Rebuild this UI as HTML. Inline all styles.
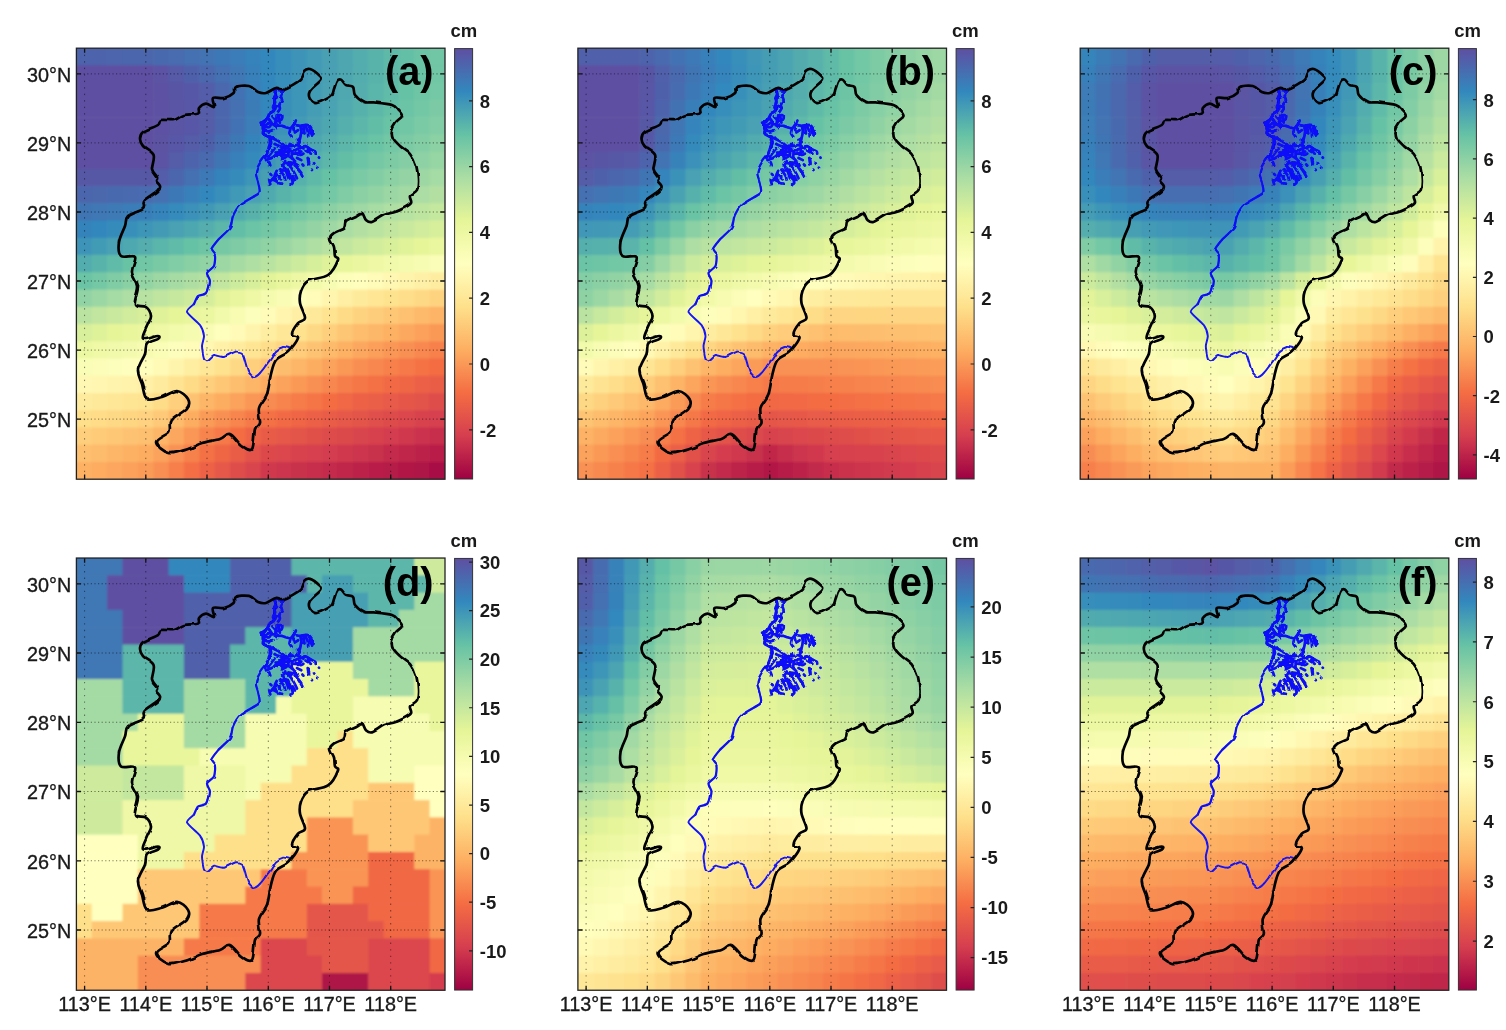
<!DOCTYPE html>
<html lang="en"><head><meta charset="utf-8"><title>Figure</title>
<style>html,body{margin:0;padding:0;background:#fff}svg{display:block}text{font-family:"Liberation Sans",sans-serif;fill:#1a1a1a}.t{font-size:19.8px;stroke:#1a1a1a;stroke-width:.35px}.b{font-size:18.5px;font-weight:bold}.L{font-size:39.8px;font-weight:bold;fill:#000}</style></head><body>
<svg width="1506" height="1030" viewBox="0 0 1506 1030">
<defs>
<linearGradient id="cb" x1="0" y1="1" x2="0" y2="0">
<stop offset="0" stop-color="#9e0142"/>
<stop offset="0.1" stop-color="#d53e4f"/>
<stop offset="0.2" stop-color="#f46d43"/>
<stop offset="0.3" stop-color="#fdae61"/>
<stop offset="0.4" stop-color="#fee08b"/>
<stop offset="0.5" stop-color="#ffffbf"/>
<stop offset="0.6" stop-color="#e6f598"/>
<stop offset="0.7" stop-color="#abdda4"/>
<stop offset="0.8" stop-color="#66c2a5"/>
<stop offset="0.9" stop-color="#3288bd"/>
<stop offset="1" stop-color="#5e4fa2"/>
</linearGradient>
<filter id="bl" x="-2%" y="-2%" width="104%" height="104%"><feGaussianBlur stdDeviation="1.3"/></filter>
<filter id="bl2" x="-5%" y="-5%" width="110%" height="110%"><feGaussianBlur stdDeviation="0.45"/></filter>
<filter id="rg" x="-10%" y="-10%" width="120%" height="120%"><feTurbulence type="fractalNoise" baseFrequency="0.25" numOctaves="2" seed="3" result="n"/><feDisplacementMap in="SourceGraphic" in2="n" scale="2.6" xChannelSelector="R" yChannelSelector="G"/><feGaussianBlur stdDeviation="0.4"/></filter>
<filter id="rg2" x="-5%" y="-5%" width="110%" height="110%"><feTurbulence type="fractalNoise" baseFrequency="0.085" numOctaves="1" seed="7" result="n"/><feDisplacementMap in="SourceGraphic" in2="n" scale="3.4" xChannelSelector="R" yChannelSelector="G"/><feGaussianBlur stdDeviation="0.45"/></filter>
<clipPath id="pc"><rect x="76.4" y="48.2" width="368.6" height="431"/></clipPath>
<g id="ov">
<path d="M84.6 48.2V479.2M145.8 48.2V479.2M207.0 48.2V479.2M268.3 48.2V479.2M329.5 48.2V479.2M390.7 48.2V479.2" fill="none" stroke="#000" stroke-opacity=".5" stroke-width="1" stroke-dasharray="1.4 5.1"/>
<path d="M76.4 419.1H445.0M76.4 350.1H445.0M76.4 281.0H445.0M76.4 212.0H445.0M76.4 142.9H445.0M76.4 73.9H445.0" fill="none" stroke="#000" stroke-opacity=".5" stroke-width="1" stroke-dasharray="1.2 2.4"/>
<path d="M84.6 48.2v4.6M84.6 479.2v-4.6M145.8 48.2v4.6M145.8 479.2v-4.6M207.0 48.2v4.6M207.0 479.2v-4.6M268.3 48.2v4.6M268.3 479.2v-4.6M329.5 48.2v4.6M329.5 479.2v-4.6M390.7 48.2v4.6M390.7 479.2v-4.6M76.4 419.1h4.6M445.0 419.1h-4.6M76.4 350.1h4.6M445.0 350.1h-4.6M76.4 281.0h4.6M445.0 281.0h-4.6M76.4 212.0h4.6M445.0 212.0h-4.6M76.4 142.9h4.6M445.0 142.9h-4.6M76.4 73.9h4.6M445.0 73.9h-4.6" fill="none" stroke="#111" stroke-width="1.3"/>
<g filter="url(#rg2)">
<path d="M275.1 89.1C275.2 89.9 276.3 94.4 276.2 96.0C276.1 97.6 274.1 101.5 274.0 103.0C274.0 104.5 276.1 107.7 275.6 108.8C275.2 110.0 271.3 112.0 270.3 113.1C269.3 114.2 268.1 117.3 267.1 118.5C266.1 119.6 262.1 121.6 261.8 122.7C261.4 123.9 263.6 126.7 263.9 128.1C264.1 129.4 263.3 133.4 263.9 134.5C264.5 135.6 268.4 136.7 269.2 137.7C270.1 138.7 271.5 141.7 271.4 143.0C271.2 144.4 268.8 148.1 268.2 149.4C267.5 150.8 266.8 153.5 266.0 154.8C265.3 156.0 262.7 158.6 261.8 160.1C260.8 161.6 258.2 166.0 257.5 167.6C256.8 169.2 255.8 172.4 255.9 174.0C255.9 175.6 257.6 179.6 258.0 181.5C258.4 183.4 259.6 188.6 259.6 190.0C259.6 191.5 260.3 192.3 258.0 194.0C255.7 195.7 242.9 202.4 240.0 205.0C237.1 207.6 234.2 213.3 233.0 216.0C231.8 218.7 231.8 225.2 230.0 228.0C228.2 230.8 220.2 237.4 218.0 240.0C215.8 242.6 211.3 248.1 211.0 250.0C210.7 251.9 214.7 254.1 215.0 256.0C215.3 257.9 214.9 264.0 214.0 266.0C213.1 268.0 207.5 271.2 207.0 273.0C206.5 274.8 210.0 278.7 210.0 281.0C210.0 283.3 208.4 291.2 207.0 293.0C205.6 294.8 199.5 294.7 198.0 296.0C196.5 297.3 194.5 303.1 194.0 304.0" fill="none" stroke="#0808fa" stroke-width="2.2" stroke-linejoin="round" stroke-linecap="round"/>
<path d="M194.0 304.0C193.2 304.9 186.3 309.6 187.0 312.0C187.7 314.4 198.0 322.2 200.0 325.0C202.0 327.8 203.8 333.6 204.0 336.0C204.2 338.4 202.0 343.4 202.0 346.0C202.0 348.6 203.3 356.4 204.0 358.0C204.7 359.6 206.8 360.4 208.0 360.0C209.2 359.6 212.1 355.4 214.0 355.0C215.9 354.6 221.4 357.4 224.0 357.0C226.6 356.6 233.8 351.8 236.0 351.6C238.2 351.4 241.6 352.7 243.0 355.0C244.4 357.3 246.7 368.4 248.0 371.0C249.3 373.6 252.6 376.8 254.0 377.0C255.4 377.2 258.1 375.0 260.0 373.0C261.9 371.0 268.1 362.6 270.0 360.0C271.9 357.4 274.5 352.5 276.0 351.0C277.5 349.5 281.5 347.4 283.0 347.0C284.5 346.6 288.3 347.9 289.0 348.0" fill="none" stroke="#1212f8" stroke-width="1.9" stroke-linejoin="round" stroke-linecap="round"/>
</g>
<g filter="url(#rg)">
<path d="M274.0 89.6C274.3 90.2 275.6 92.7 275.6 93.9C275.6 95.0 274.1 97.0 274.0 98.2C274.0 99.3 275.2 101.3 275.1 102.4C275.0 103.6 273.1 105.6 273.0 106.7C272.8 107.8 274.5 110.1 274.0 111.0C273.6 111.8 270.6 112.3 269.8 113.1C268.9 114.0 267.9 116.8 267.6 117.4M283.1 91.8C282.8 92.3 281.1 94.9 281.0 96.0C280.8 97.2 282.3 99.2 282.1 100.3C281.8 101.4 279.7 103.4 279.4 104.6C279.1 105.7 280.1 107.8 279.9 108.8C279.7 109.8 278.1 111.6 277.8 112.1M274.0 98.2L277.2 97.1M275.1 106.7L278.3 105.6M274.6 89.1L283.7 91.2M276.7 115.3C277.4 115.3 281.4 114.7 282.1 115.3C282.7 115.8 282.2 118.8 281.5 119.5C280.8 120.2 277.4 121.2 276.7 120.6C276.1 120.0 276.7 116.0 276.7 115.3M260.7 122.7C261.3 122.6 264.0 122.4 265.0 121.7C265.9 121.0 267.3 118.0 267.6 117.4M260.7 122.7C261.1 123.3 263.6 125.6 263.9 127.0C264.2 128.4 262.4 132.3 262.8 133.4C263.2 134.6 266.0 135.0 267.1 135.6C268.2 136.1 270.8 137.4 271.4 137.7M267.6 117.4C268.1 118.1 271.2 121.5 271.4 122.7C271.6 124.0 270.1 126.4 269.2 127.0C268.4 127.6 265.5 127.0 265.0 127.0M276.7 120.6C276.6 121.2 274.9 124.2 275.6 124.9C276.4 125.6 280.8 125.7 282.1 125.9C283.3 126.2 284.8 126.9 285.3 127.0M271.4 122.7L276.7 127.0M263.9 134.5C264.9 134.9 269.2 136.7 271.4 137.7C273.5 138.7 278.1 140.8 279.9 142.0C281.8 143.1 284.5 145.7 285.3 146.2M270.3 136.6C270.2 137.6 270.0 142.4 269.8 144.1C269.5 145.8 268.8 147.6 268.2 149.4C267.5 151.3 265.4 156.9 265.0 158.0M274.6 148.4L268.2 156.9M282.1 148.4C280.9 149.5 275.6 155.4 273.5 156.9C271.4 158.5 267.0 159.7 266.0 160.1M285.3 127.0C286.0 127.2 289.3 128.6 290.6 128.1C291.9 127.5 294.2 123.7 294.9 122.7C295.6 121.7 295.8 120.9 295.9 120.6M290.6 128.1C290.5 128.8 289.4 132.3 289.5 133.4C289.7 134.6 291.4 136.2 291.7 136.6M294.9 124.9C295.6 125.0 298.8 125.9 300.2 125.9C301.6 125.9 304.3 124.9 305.6 124.9C306.8 124.9 308.9 125.1 309.8 125.9C310.8 126.8 312.2 130.0 312.5 131.3C312.8 132.6 312.0 135.0 312.0 135.6M300.2 125.9C300.4 126.7 301.3 129.7 301.3 131.3C301.3 132.8 300.6 136.0 300.2 137.7C299.9 139.4 298.8 143.2 298.6 144.1M305.6 125.9C305.8 126.7 307.3 129.9 307.7 131.3C308.0 132.7 308.2 135.9 308.2 136.6M294.9 132.4L298.1 130.2M279.9 142.0C280.6 142.5 283.8 146.0 285.3 146.2C286.7 146.5 289.9 144.4 290.6 144.1M285.3 146.2C285.1 147.1 284.6 151.2 284.2 152.6C283.8 154.1 282.3 156.4 282.1 156.9M285.3 146.2C286.3 146.8 290.9 150.2 292.7 150.5C294.6 150.8 297.4 148.9 299.1 148.4C300.9 147.8 304.0 146.1 305.6 146.2C307.1 146.4 309.6 148.7 310.9 149.4C312.2 150.2 314.5 151.0 315.2 151.6C315.8 152.2 315.6 153.4 315.7 153.7M292.7 150.5C292.6 151.4 291.4 155.5 291.7 156.9C292.0 158.3 294.4 160.6 294.9 161.2M299.1 148.4C299.3 149.2 299.6 154.1 300.2 154.8C300.8 155.5 303.0 153.9 303.4 153.7M295.9 152.6L298.1 154.8M307.7 149.4L309.8 152.6M287.4 148.4L288.5 154.8M282.1 150.5L286.3 151.6M273.5 156.9C274.6 156.6 280.1 154.9 282.1 154.8C284.0 154.6 287.0 155.3 288.5 155.9C289.9 156.4 292.2 158.6 292.7 159.1M269.2 162.3L270.3 165.5M318.9 157.5L319.1 157.7M314.1 163.3L314.3 163.5M317.3 167.6L317.5 167.8M311.8 169.7L312.0 170.0M307.7 158.0C307.8 158.4 308.1 160.3 308.2 161.2C308.4 162.1 308.7 164.0 308.8 164.4M308.5 158.5L309.1 163.9M302.4 164.4L303.4 165.5M285.3 161.2C285.0 161.8 283.1 164.5 283.1 165.5C283.1 166.5 285.0 168.2 285.3 168.7M288.5 162.3C289.3 162.4 293.6 162.9 294.9 163.3C296.2 163.8 297.6 165.2 298.1 165.5M276.7 170.8C276.4 171.5 274.4 174.6 274.6 176.2C274.7 177.7 276.8 181.6 277.8 182.6C278.8 183.6 281.5 183.5 282.1 183.6M279.9 169.7C280.5 170.6 283.5 174.7 284.2 176.2C284.9 177.6 285.1 179.9 285.3 180.4M285.3 168.7C285.8 169.4 288.5 172.2 289.5 174.0C290.5 175.9 292.6 181.2 292.7 182.6C292.9 183.9 290.9 184.0 290.6 184.2M289.5 165.5C290.1 166.3 292.8 170.2 293.8 171.9C294.8 173.6 296.6 177.4 297.0 178.3M294.9 164.4C295.4 165.3 298.1 169.2 299.1 170.8C300.1 172.4 301.9 175.4 302.4 176.2M270.3 174.0L271.4 175.1M269.2 180.4L270.3 184.2M274.6 176.2L271.4 180.4M282.1 170.8L287.4 169.7M277.8 176.2L281.0 179.4M261.8 124.9C262.3 124.9 265.0 125.2 266.0 124.9C267.0 124.6 268.8 123.0 269.2 122.7M263.9 130.2C264.5 130.4 267.0 131.3 268.2 131.3C269.3 131.3 271.9 130.4 272.4 130.2M272.4 116.3C272.9 116.9 275.5 119.5 275.6 120.6C275.8 121.7 273.8 124.3 273.5 124.9M278.8 116.3L279.9 122.7M262.8 122.7L262.8 129.1M274.6 144.1C275.3 144.4 278.5 145.7 279.9 146.2C281.3 146.8 284.5 148.1 285.3 148.4M287.4 150.5C288.4 150.9 293.0 153.6 294.9 153.7C296.7 153.9 300.4 151.9 301.3 151.6M290.6 146.2C291.5 146.1 295.3 144.9 297.0 145.2C298.7 145.5 302.6 147.9 303.4 148.4M305.6 150.5L310.9 153.7M282.1 159.1L286.3 156.9M297.0 158.0L301.3 160.1M275.6 152.6L282.1 152.6M282.1 165.5C282.6 166.3 285.5 170.2 286.3 171.9C287.2 173.6 288.2 177.4 288.5 178.3M275.6 174.0L279.9 176.2M298.1 168.7L301.3 172.9M286.3 163.3L291.7 164.4M272.4 179.4L276.7 181.5M292.7 176.2L294.9 180.4M292.7 125.9L293.8 130.2M303.4 127.0L304.5 133.4M309.8 128.1L310.9 133.4M297.0 139.8L300.2 142.0" fill="none" stroke="#0808fa" stroke-width="2.7" stroke-linejoin="round" stroke-linecap="round"/>
</g>
<g filter="url(#rg2)">
<path d="M121.0 256.0C118.3 253.5 118.3 247.0 119.0 242.0C119.7 237.0 123.5 230.3 125.0 226.0C126.5 221.7 125.0 218.8 128.0 216.0C131.0 213.2 140.3 211.5 143.0 209.0C145.7 206.5 141.9 204.0 144.4 201.0C146.9 198.0 155.4 193.5 158.0 191.0C160.6 188.5 160.3 187.7 160.0 186.0C159.7 184.3 156.5 182.3 156.0 181.0C155.5 179.7 157.7 179.8 157.0 178.0C156.3 176.2 152.6 173.8 152.0 170.0C151.4 166.2 155.1 159.0 153.6 155.0C152.1 151.0 145.3 148.7 143.0 146.0C140.7 143.3 140.0 141.3 140.0 139.0C140.0 136.7 140.0 134.3 143.0 132.0C146.0 129.7 155.0 127.0 158.0 125.0C161.0 123.0 158.3 120.8 161.0 120.0C163.7 119.2 170.2 120.8 174.0 120.0C177.8 119.2 180.0 116.1 184.0 115.0C188.0 113.9 195.5 114.8 198.0 113.6C200.5 112.4 197.7 109.7 199.0 108.0C200.3 106.3 203.5 103.8 206.0 103.6C208.5 103.4 212.8 107.9 214.0 107.0C215.2 106.1 211.3 99.5 213.0 98.0C214.7 96.5 220.6 98.8 224.0 98.0C227.4 97.2 231.8 94.8 233.6 93.0C235.4 91.2 232.4 88.2 235.0 87.0C237.6 85.8 245.2 85.2 249.0 86.0C252.8 86.8 255.2 90.8 258.0 92.0C260.8 93.2 263.0 93.7 266.0 93.0C269.0 92.3 273.0 88.7 276.0 88.0C279.0 87.3 280.0 90.3 284.0 89.0C288.0 87.7 296.7 83.0 300.0 80.0C303.3 77.0 302.3 72.8 304.0 71.0C305.7 69.2 307.3 68.2 310.0 69.0C312.7 69.8 318.2 74.2 320.0 76.0C321.8 77.8 322.7 77.5 321.0 80.0C319.3 82.5 311.8 87.8 310.0 91.0C308.2 94.2 308.8 97.0 310.0 99.0C311.2 101.0 313.5 103.5 317.0 103.0C320.5 102.5 328.2 98.3 331.0 96.0C333.8 93.7 333.0 91.5 334.0 89.0C335.0 86.5 335.8 82.6 337.0 81.0C338.2 79.4 339.5 78.9 341.0 79.6C342.5 80.3 344.0 83.8 346.0 85.0C348.0 86.2 351.5 85.3 353.0 87.0C354.5 88.7 353.2 92.5 355.0 95.0C356.8 97.5 360.8 100.8 364.0 102.0C367.2 103.2 369.3 101.9 374.0 102.4C378.7 102.9 388.0 103.7 392.0 105.0C396.0 106.3 396.3 108.2 398.0 110.0C399.7 111.8 402.3 114.0 402.0 116.0C401.7 118.0 397.7 119.7 396.0 122.0C394.3 124.3 392.5 127.3 392.0 130.0C391.5 132.7 391.7 135.3 393.0 138.0C394.3 140.7 397.2 143.3 400.0 146.0C402.8 148.7 407.3 150.7 410.0 154.0C412.7 157.3 414.7 161.7 416.0 166.0C417.3 170.3 417.8 176.0 418.0 180.0C418.2 184.0 418.3 187.3 417.0 190.0C415.7 192.7 411.0 193.8 410.0 196.0C409.0 198.2 412.3 200.8 411.0 203.0C409.7 205.2 404.7 207.5 402.0 209.0C399.3 210.5 398.0 211.0 395.0 212.0C392.0 213.0 387.8 213.3 384.0 215.0C380.2 216.7 375.0 221.2 372.0 222.0C369.0 222.8 367.7 221.5 366.0 220.0C364.3 218.5 363.7 213.7 362.0 213.0C360.3 212.3 358.7 214.7 356.0 216.0C353.3 217.3 348.0 219.0 346.0 221.0C344.0 223.0 346.0 226.0 344.0 228.0C342.0 230.0 336.3 231.3 334.0 233.0C331.7 234.7 330.0 235.7 330.0 238.0C330.0 240.3 333.2 244.0 334.0 247.0C334.8 250.0 334.3 253.8 335.0 256.0C335.7 258.2 339.2 256.8 338.0 260.0C336.8 263.2 333.0 271.5 328.0 275.0C323.0 278.5 312.5 278.3 308.0 281.0C303.5 283.7 302.3 287.3 301.0 291.0C299.7 294.7 299.3 298.5 300.0 303.0C300.7 307.5 305.3 314.7 305.0 318.0C304.7 321.3 300.2 320.3 298.0 323.0C295.8 325.7 292.0 331.5 292.0 334.0C292.0 336.5 298.7 335.0 298.0 338.0C297.3 341.0 291.7 348.3 288.0 352.0C284.3 355.7 278.8 356.3 276.0 360.0C273.2 363.7 272.5 368.3 271.0 374.0C269.5 379.7 269.0 388.3 267.0 394.0C265.0 399.7 260.2 403.2 259.0 408.0C257.8 412.8 260.7 419.3 260.0 423.0C259.3 426.7 256.3 425.7 255.0 430.0C253.7 434.3 254.2 446.3 252.0 449.0C249.8 451.7 245.7 448.5 242.0 446.0C238.3 443.5 233.7 435.2 230.0 434.0C226.3 432.8 224.7 437.5 220.0 439.0C215.3 440.5 207.3 441.3 202.0 443.0C196.7 444.7 193.5 447.3 188.0 449.0C182.5 450.7 174.3 454.2 169.0 453.0C163.7 451.8 156.0 445.5 156.0 442.0C156.0 438.5 166.5 435.5 169.0 432.0C171.5 428.5 168.0 424.8 171.0 421.0C174.0 417.2 184.2 412.7 187.0 409.0C189.8 405.3 189.7 402.0 188.0 399.0C186.3 396.0 181.3 391.3 177.0 391.0C172.7 390.7 167.0 395.7 162.0 397.0C157.0 398.3 150.3 401.2 147.0 399.0C143.7 396.8 143.5 388.8 142.0 384.0C140.5 379.2 137.5 375.0 138.0 370.0C138.5 365.0 143.5 358.3 145.0 354.0C146.5 349.7 144.8 346.5 147.0 344.0C149.2 341.5 156.2 340.3 158.0 339.0C159.8 337.7 160.2 336.0 158.0 336.0C155.8 336.0 147.5 339.0 145.0 339.0C142.5 339.0 142.5 338.5 143.0 336.0C143.5 333.5 146.7 327.3 148.0 324.0C149.3 320.7 151.3 318.8 151.0 316.0C150.7 313.2 148.7 309.0 146.0 307.0C143.3 305.0 136.3 307.5 135.0 304.0C133.7 300.5 138.5 291.3 138.0 286.0C137.5 280.7 132.5 276.8 132.0 272.0C131.5 267.2 136.8 259.7 135.0 257.0C133.2 254.3 123.7 258.5 121.0 256.0Z" fill="none" stroke="#050505" stroke-width="2.7" stroke-linejoin="round" stroke-linecap="round"/>
</g>
<rect x="76.4" y="48.2" width="368.6" height="431" fill="none" stroke="#222" stroke-width="1.3"/>
</g>
</defs>
<rect width="1506" height="1030" fill="#fff"/>
<g transform="translate(0 0)">
<g filter="url(#bl)" clip-path="url(#pc)">
<rect x="73.4" y="45.2" width="374.6" height="437" fill="#e0f399"/>
<rect x="73.4" y="45.2" width="19" height="20.8" fill="#4e64ac"/>
<rect x="91.8" y="45.2" width="16" height="20.8" fill="#4d64ac"/>
<rect x="107.1" y="45.2" width="16" height="20.8" fill="#4d65ac"/>
<rect x="122.5" y="45.2" width="31.3" height="20.8" fill="#4c66ad"/>
<rect x="153.2" y="45.2" width="16" height="20.8" fill="#4a69ae"/>
<rect x="168.6" y="45.2" width="16" height="20.8" fill="#486cb0"/>
<rect x="183.9" y="45.2" width="16" height="20.8" fill="#4570b1"/>
<rect x="199.3" y="45.2" width="16" height="20.8" fill="#4273b3"/>
<rect x="214.6" y="45.2" width="16" height="20.8" fill="#3e78b6"/>
<rect x="230" y="45.2" width="16" height="20.8" fill="#3a7db8"/>
<rect x="245.3" y="45.2" width="16" height="20.8" fill="#3683ba"/>
<rect x="260.7" y="45.2" width="16" height="20.8" fill="#3288bd"/>
<rect x="276.1" y="45.2" width="16" height="20.8" fill="#378ebb"/>
<rect x="291.4" y="45.2" width="16" height="20.8" fill="#3d94b8"/>
<rect x="306.8" y="45.2" width="16" height="20.8" fill="#429ab6"/>
<rect x="322.1" y="45.2" width="16" height="20.8" fill="#48a0b3"/>
<rect x="337.5" y="45.2" width="16" height="20.8" fill="#4da6b0"/>
<rect x="352.9" y="45.2" width="16" height="20.8" fill="#53adae"/>
<rect x="368.2" y="45.2" width="16" height="20.8" fill="#58b3ab"/>
<rect x="383.6" y="45.2" width="16" height="20.8" fill="#5eb9a9"/>
<rect x="398.9" y="45.2" width="16" height="20.8" fill="#63bfa6"/>
<rect x="414.3" y="45.2" width="16" height="20.8" fill="#6ac3a5"/>
<rect x="429.6" y="45.2" width="19" height="20.8" fill="#71c6a5"/>
<rect x="73.4" y="65.4" width="80.4" height="17.8" fill="#5e4fa2"/>
<rect x="153.2" y="65.4" width="16" height="17.8" fill="#5b53a4"/>
<rect x="168.6" y="65.4" width="16" height="17.8" fill="#565aa7"/>
<rect x="183.9" y="65.4" width="16" height="17.8" fill="#5061ab"/>
<rect x="199.3" y="65.4" width="16" height="17.8" fill="#4b68ae"/>
<rect x="214.6" y="65.4" width="16" height="17.8" fill="#4570b2"/>
<rect x="230" y="65.4" width="16" height="17.8" fill="#3f78b5"/>
<rect x="245.3" y="65.4" width="16" height="17.8" fill="#3880b9"/>
<rect x="260.7" y="65.4" width="16" height="17.8" fill="#3288bd"/>
<rect x="276.1" y="65.4" width="16" height="17.8" fill="#378ebb"/>
<rect x="291.4" y="65.4" width="16" height="17.8" fill="#3d94b8"/>
<rect x="306.8" y="65.4" width="16" height="17.8" fill="#429ab6"/>
<rect x="322.1" y="65.4" width="16" height="17.8" fill="#48a0b3"/>
<rect x="337.5" y="65.4" width="16" height="17.8" fill="#4da6b0"/>
<rect x="352.9" y="65.4" width="16" height="17.8" fill="#53adae"/>
<rect x="368.2" y="65.4" width="16" height="17.8" fill="#58b3ab"/>
<rect x="383.6" y="65.4" width="16" height="17.8" fill="#5eb9a9"/>
<rect x="398.9" y="65.4" width="16" height="17.8" fill="#63bfa6"/>
<rect x="414.3" y="65.4" width="16" height="17.8" fill="#6ac3a5"/>
<rect x="429.6" y="65.4" width="19" height="17.8" fill="#71c6a5"/>
<rect x="73.4" y="82.7" width="80.4" height="17.8" fill="#5e4fa2"/>
<rect x="153.2" y="82.7" width="16" height="17.8" fill="#5c51a3"/>
<rect x="168.6" y="82.7" width="16" height="17.8" fill="#5955a5"/>
<rect x="183.9" y="82.7" width="16" height="17.8" fill="#5659a7"/>
<rect x="199.3" y="82.7" width="16" height="17.8" fill="#535da9"/>
<rect x="214.6" y="82.7" width="16" height="17.8" fill="#4b67ae"/>
<rect x="230" y="82.7" width="16" height="17.8" fill="#4372b3"/>
<rect x="245.3" y="82.7" width="16" height="17.8" fill="#3b7db8"/>
<rect x="260.7" y="82.7" width="16" height="17.8" fill="#3287bd"/>
<rect x="276.1" y="82.7" width="16" height="17.8" fill="#378eba"/>
<rect x="291.4" y="82.7" width="16" height="17.8" fill="#3d95b8"/>
<rect x="306.8" y="82.7" width="16" height="17.8" fill="#439bb5"/>
<rect x="322.1" y="82.7" width="16" height="17.8" fill="#49a1b2"/>
<rect x="337.5" y="82.7" width="16" height="17.8" fill="#4fa8b0"/>
<rect x="352.9" y="82.7" width="16" height="17.8" fill="#54aead"/>
<rect x="368.2" y="82.7" width="16" height="17.8" fill="#5ab5aa"/>
<rect x="383.6" y="82.7" width="16" height="17.8" fill="#60bba8"/>
<rect x="398.9" y="82.7" width="16" height="17.8" fill="#66c2a5"/>
<rect x="414.3" y="82.7" width="16" height="17.8" fill="#6dc5a5"/>
<rect x="429.6" y="82.7" width="19" height="17.8" fill="#75c8a5"/>
<rect x="73.4" y="99.9" width="80.4" height="17.8" fill="#5e4fa2"/>
<rect x="153.2" y="99.9" width="16" height="17.8" fill="#5d51a3"/>
<rect x="168.6" y="99.9" width="16" height="17.8" fill="#5a54a4"/>
<rect x="183.9" y="99.9" width="16" height="17.8" fill="#5857a6"/>
<rect x="199.3" y="99.9" width="16" height="17.8" fill="#555ba8"/>
<rect x="214.6" y="99.9" width="16" height="17.8" fill="#4c66ad"/>
<rect x="230" y="99.9" width="16" height="17.8" fill="#4471b2"/>
<rect x="245.3" y="99.9" width="16" height="17.8" fill="#3b7cb7"/>
<rect x="260.7" y="99.9" width="16" height="17.8" fill="#3287bd"/>
<rect x="276.1" y="99.9" width="16" height="17.8" fill="#388fba"/>
<rect x="291.4" y="99.9" width="16" height="17.8" fill="#3e95b7"/>
<rect x="306.8" y="99.9" width="16" height="17.8" fill="#449cb5"/>
<rect x="322.1" y="99.9" width="16" height="17.8" fill="#4aa3b2"/>
<rect x="337.5" y="99.9" width="16" height="17.8" fill="#51aaaf"/>
<rect x="352.9" y="99.9" width="16" height="17.8" fill="#57b1ac"/>
<rect x="368.2" y="99.9" width="16" height="17.8" fill="#5db8a9"/>
<rect x="383.6" y="99.9" width="16" height="17.8" fill="#63bfa6"/>
<rect x="398.9" y="99.9" width="16" height="17.8" fill="#6bc4a5"/>
<rect x="414.3" y="99.9" width="16" height="17.8" fill="#73c7a5"/>
<rect x="429.6" y="99.9" width="19" height="17.8" fill="#7bcaa5"/>
<rect x="73.4" y="117.2" width="80.4" height="17.8" fill="#5e4fa2"/>
<rect x="153.2" y="117.2" width="16" height="17.8" fill="#5d51a3"/>
<rect x="168.6" y="117.2" width="16" height="17.8" fill="#5a54a4"/>
<rect x="183.9" y="117.2" width="16" height="17.8" fill="#5857a6"/>
<rect x="199.3" y="117.2" width="16" height="17.8" fill="#555ba8"/>
<rect x="214.6" y="117.2" width="16" height="17.8" fill="#4c66ad"/>
<rect x="230" y="117.2" width="16" height="17.8" fill="#4372b3"/>
<rect x="245.3" y="117.2" width="16" height="17.8" fill="#3a7eb8"/>
<rect x="260.7" y="117.2" width="16" height="17.8" fill="#348abc"/>
<rect x="276.1" y="117.2" width="16" height="17.8" fill="#3a91b9"/>
<rect x="291.4" y="117.2" width="16" height="17.8" fill="#4199b6"/>
<rect x="306.8" y="117.2" width="16" height="17.8" fill="#48a0b3"/>
<rect x="322.1" y="117.2" width="16" height="17.8" fill="#4ea7b0"/>
<rect x="337.5" y="117.2" width="16" height="17.8" fill="#55afad"/>
<rect x="352.9" y="117.2" width="16" height="17.8" fill="#5bb6aa"/>
<rect x="368.2" y="117.2" width="16" height="17.8" fill="#62bda7"/>
<rect x="383.6" y="117.2" width="16" height="17.8" fill="#69c3a5"/>
<rect x="398.9" y="117.2" width="16" height="17.8" fill="#71c6a5"/>
<rect x="414.3" y="117.2" width="16" height="17.8" fill="#7acaa5"/>
<rect x="429.6" y="117.2" width="19" height="17.8" fill="#82cda5"/>
<rect x="73.4" y="134.4" width="80.4" height="17.8" fill="#5e4fa2"/>
<rect x="153.2" y="134.4" width="16" height="17.8" fill="#5c52a3"/>
<rect x="168.6" y="134.4" width="16" height="17.8" fill="#5857a6"/>
<rect x="183.9" y="134.4" width="16" height="17.8" fill="#545ca8"/>
<rect x="199.3" y="134.4" width="16" height="17.8" fill="#5061ab"/>
<rect x="214.6" y="134.4" width="16" height="17.8" fill="#476db0"/>
<rect x="230" y="134.4" width="16" height="17.8" fill="#3e78b5"/>
<rect x="245.3" y="134.4" width="16" height="17.8" fill="#3683bb"/>
<rect x="260.7" y="134.4" width="16" height="17.8" fill="#388fba"/>
<rect x="276.1" y="134.4" width="16" height="17.8" fill="#3f97b7"/>
<rect x="291.4" y="134.4" width="16" height="17.8" fill="#469fb4"/>
<rect x="306.8" y="134.4" width="16" height="17.8" fill="#4da6b0"/>
<rect x="322.1" y="134.4" width="16" height="17.8" fill="#54aead"/>
<rect x="337.5" y="134.4" width="16" height="17.8" fill="#5bb6aa"/>
<rect x="352.9" y="134.4" width="16" height="17.8" fill="#62bea7"/>
<rect x="368.2" y="134.4" width="16" height="17.8" fill="#69c3a5"/>
<rect x="383.6" y="134.4" width="16" height="17.8" fill="#72c7a5"/>
<rect x="398.9" y="134.4" width="16" height="17.8" fill="#7acaa5"/>
<rect x="414.3" y="134.4" width="16" height="17.8" fill="#83cda5"/>
<rect x="429.6" y="134.4" width="19" height="17.8" fill="#8bd1a4"/>
<rect x="73.4" y="151.6" width="80.4" height="17.8" fill="#5e4fa2"/>
<rect x="153.2" y="151.6" width="16" height="17.8" fill="#5b53a4"/>
<rect x="168.6" y="151.6" width="16" height="17.8" fill="#545ba8"/>
<rect x="183.9" y="151.6" width="16" height="17.8" fill="#4e63ac"/>
<rect x="199.3" y="151.6" width="16" height="17.8" fill="#486baf"/>
<rect x="214.6" y="151.6" width="16" height="17.8" fill="#4075b4"/>
<rect x="230" y="151.6" width="16" height="17.8" fill="#3880b9"/>
<rect x="245.3" y="151.6" width="16" height="17.8" fill="#348abc"/>
<rect x="260.7" y="151.6" width="16" height="17.8" fill="#3e95b8"/>
<rect x="276.1" y="151.6" width="16" height="17.8" fill="#459db4"/>
<rect x="291.4" y="151.6" width="16" height="17.8" fill="#4da6b1"/>
<rect x="306.8" y="151.6" width="16" height="17.8" fill="#54aead"/>
<rect x="322.1" y="151.6" width="16" height="17.8" fill="#5bb6aa"/>
<rect x="337.5" y="151.6" width="16" height="17.8" fill="#63bea6"/>
<rect x="352.9" y="151.6" width="16" height="17.8" fill="#6bc4a5"/>
<rect x="368.2" y="151.6" width="16" height="17.8" fill="#74c7a5"/>
<rect x="383.6" y="151.6" width="16" height="17.8" fill="#7ccba5"/>
<rect x="398.9" y="151.6" width="16" height="17.8" fill="#85cea5"/>
<rect x="414.3" y="151.6" width="16" height="17.8" fill="#8dd1a4"/>
<rect x="429.6" y="151.6" width="19" height="17.8" fill="#96d5a4"/>
<rect x="73.4" y="168.9" width="80.4" height="17.8" fill="#5758a6"/>
<rect x="153.2" y="168.9" width="16" height="17.8" fill="#535da9"/>
<rect x="168.6" y="168.9" width="16" height="17.8" fill="#4c66ad"/>
<rect x="183.9" y="168.9" width="16" height="17.8" fill="#4570b2"/>
<rect x="199.3" y="168.9" width="16" height="17.8" fill="#3d79b6"/>
<rect x="214.6" y="168.9" width="16" height="17.8" fill="#3683bb"/>
<rect x="230" y="168.9" width="16" height="17.8" fill="#368cbb"/>
<rect x="245.3" y="168.9" width="16" height="17.8" fill="#3e96b7"/>
<rect x="260.7" y="168.9" width="16" height="17.8" fill="#479fb3"/>
<rect x="276.1" y="168.9" width="16" height="17.8" fill="#4fa8b0"/>
<rect x="291.4" y="168.9" width="16" height="17.8" fill="#57b1ac"/>
<rect x="306.8" y="168.9" width="16" height="17.8" fill="#5eb9a9"/>
<rect x="322.1" y="168.9" width="16" height="17.8" fill="#66c2a5"/>
<rect x="337.5" y="168.9" width="16" height="17.8" fill="#71c6a5"/>
<rect x="352.9" y="168.9" width="16" height="17.8" fill="#7acaa5"/>
<rect x="368.2" y="168.9" width="16" height="17.8" fill="#83cda5"/>
<rect x="383.6" y="168.9" width="16" height="17.8" fill="#8bd1a4"/>
<rect x="398.9" y="168.9" width="16" height="17.8" fill="#94d4a4"/>
<rect x="414.3" y="168.9" width="16" height="17.8" fill="#9dd7a4"/>
<rect x="429.6" y="168.9" width="19" height="17.8" fill="#a5dba4"/>
<rect x="73.4" y="186.1" width="19" height="17.8" fill="#4c66ad"/>
<rect x="91.8" y="186.1" width="16" height="17.8" fill="#4b67ad"/>
<rect x="107.1" y="186.1" width="16" height="17.8" fill="#4a69ae"/>
<rect x="122.5" y="186.1" width="16" height="17.8" fill="#496aaf"/>
<rect x="137.8" y="186.1" width="16" height="17.8" fill="#486cb0"/>
<rect x="153.2" y="186.1" width="16" height="17.8" fill="#4471b2"/>
<rect x="168.6" y="186.1" width="16" height="17.8" fill="#3e78b6"/>
<rect x="183.9" y="186.1" width="16" height="17.8" fill="#3880b9"/>
<rect x="199.3" y="186.1" width="16" height="17.8" fill="#3288bd"/>
<rect x="214.6" y="186.1" width="16" height="17.8" fill="#3990ba"/>
<rect x="230" y="186.1" width="16" height="17.8" fill="#4199b6"/>
<rect x="245.3" y="186.1" width="16" height="17.8" fill="#49a1b3"/>
<rect x="260.7" y="186.1" width="16" height="17.8" fill="#50aaaf"/>
<rect x="276.1" y="186.1" width="16" height="17.8" fill="#58b3ab"/>
<rect x="291.4" y="186.1" width="16" height="17.8" fill="#61bca8"/>
<rect x="306.8" y="186.1" width="16" height="17.8" fill="#6ac3a5"/>
<rect x="322.1" y="186.1" width="16" height="17.8" fill="#75c8a5"/>
<rect x="337.5" y="186.1" width="16" height="17.8" fill="#7fcca5"/>
<rect x="352.9" y="186.1" width="16" height="17.8" fill="#8ad0a4"/>
<rect x="368.2" y="186.1" width="16" height="17.8" fill="#92d3a4"/>
<rect x="383.6" y="186.1" width="16" height="17.8" fill="#9bd7a4"/>
<rect x="398.9" y="186.1" width="16" height="17.8" fill="#a3daa4"/>
<rect x="414.3" y="186.1" width="16" height="17.8" fill="#acdda4"/>
<rect x="429.6" y="186.1" width="19" height="17.8" fill="#b3e0a2"/>
<rect x="73.4" y="203.4" width="19" height="17.8" fill="#4174b4"/>
<rect x="91.8" y="203.4" width="16" height="17.8" fill="#3f77b5"/>
<rect x="107.1" y="203.4" width="16" height="17.8" fill="#3d7ab6"/>
<rect x="122.5" y="203.4" width="16" height="17.8" fill="#3b7db8"/>
<rect x="137.8" y="203.4" width="16" height="17.8" fill="#397fb9"/>
<rect x="153.2" y="203.4" width="16" height="17.8" fill="#3584bb"/>
<rect x="168.6" y="203.4" width="16" height="17.8" fill="#348bbc"/>
<rect x="183.9" y="203.4" width="16" height="17.8" fill="#3a91b9"/>
<rect x="199.3" y="203.4" width="16" height="17.8" fill="#4098b6"/>
<rect x="214.6" y="203.4" width="16" height="17.8" fill="#48a1b3"/>
<rect x="230" y="203.4" width="16" height="17.8" fill="#50aaaf"/>
<rect x="245.3" y="203.4" width="16" height="17.8" fill="#58b2ab"/>
<rect x="260.7" y="203.4" width="16" height="17.8" fill="#60bba8"/>
<rect x="276.1" y="203.4" width="16" height="17.8" fill="#69c3a5"/>
<rect x="291.4" y="203.4" width="16" height="17.8" fill="#74c7a5"/>
<rect x="306.8" y="203.4" width="16" height="17.8" fill="#7fcca5"/>
<rect x="322.1" y="203.4" width="16" height="17.8" fill="#8ad0a4"/>
<rect x="337.5" y="203.4" width="16" height="17.8" fill="#95d4a4"/>
<rect x="352.9" y="203.4" width="16" height="17.8" fill="#9fd8a4"/>
<rect x="368.2" y="203.4" width="16" height="17.8" fill="#a7dca4"/>
<rect x="383.6" y="203.4" width="16" height="17.8" fill="#afdfa3"/>
<rect x="398.9" y="203.4" width="16" height="17.8" fill="#b6e2a2"/>
<rect x="414.3" y="203.4" width="16" height="17.8" fill="#bee5a0"/>
<rect x="429.6" y="203.4" width="19" height="17.8" fill="#c5e89f"/>
<rect x="73.4" y="220.6" width="19" height="17.8" fill="#3683bb"/>
<rect x="91.8" y="220.6" width="16" height="17.8" fill="#3287bd"/>
<rect x="107.1" y="220.6" width="16" height="17.8" fill="#358cbb"/>
<rect x="122.5" y="220.6" width="16" height="17.8" fill="#3990ba"/>
<rect x="137.8" y="220.6" width="16" height="17.8" fill="#3d95b8"/>
<rect x="153.2" y="220.6" width="16" height="17.8" fill="#429ab5"/>
<rect x="168.6" y="220.6" width="16" height="17.8" fill="#48a1b3"/>
<rect x="183.9" y="220.6" width="16" height="17.8" fill="#4ea7b0"/>
<rect x="199.3" y="220.6" width="16" height="17.8" fill="#54aead"/>
<rect x="214.6" y="220.6" width="16" height="17.8" fill="#5bb6aa"/>
<rect x="230" y="220.6" width="16" height="17.8" fill="#62bea7"/>
<rect x="245.3" y="220.6" width="16" height="17.8" fill="#6ac4a5"/>
<rect x="260.7" y="220.6" width="16" height="17.8" fill="#73c7a5"/>
<rect x="276.1" y="220.6" width="16" height="17.8" fill="#7ecca5"/>
<rect x="291.4" y="220.6" width="16" height="17.8" fill="#89d0a4"/>
<rect x="306.8" y="220.6" width="16" height="17.8" fill="#94d4a4"/>
<rect x="322.1" y="220.6" width="16" height="17.8" fill="#9fd8a4"/>
<rect x="337.5" y="220.6" width="16" height="17.8" fill="#aadda4"/>
<rect x="352.9" y="220.6" width="16" height="17.8" fill="#b3e0a2"/>
<rect x="368.2" y="220.6" width="16" height="17.8" fill="#bae3a1"/>
<rect x="383.6" y="220.6" width="16" height="17.8" fill="#c2e69f"/>
<rect x="398.9" y="220.6" width="16" height="17.8" fill="#c9e99e"/>
<rect x="414.3" y="220.6" width="16" height="17.8" fill="#d0ec9c"/>
<rect x="429.6" y="220.6" width="19" height="17.8" fill="#d7ef9b"/>
<rect x="73.4" y="237.8" width="19" height="17.8" fill="#3d94b8"/>
<rect x="91.8" y="237.8" width="16" height="17.8" fill="#439bb5"/>
<rect x="107.1" y="237.8" width="16" height="17.8" fill="#49a1b3"/>
<rect x="122.5" y="237.8" width="16" height="17.8" fill="#4ea8b0"/>
<rect x="137.8" y="237.8" width="16" height="17.8" fill="#54aead"/>
<rect x="153.2" y="237.8" width="16" height="17.8" fill="#5ab5ab"/>
<rect x="168.6" y="237.8" width="16" height="17.8" fill="#60bba8"/>
<rect x="183.9" y="237.8" width="16" height="17.8" fill="#66c2a5"/>
<rect x="199.3" y="237.8" width="16" height="17.8" fill="#6dc5a5"/>
<rect x="214.6" y="237.8" width="16" height="17.8" fill="#76c8a5"/>
<rect x="230" y="237.8" width="16" height="17.8" fill="#7ecba5"/>
<rect x="245.3" y="237.8" width="16" height="17.8" fill="#87cfa5"/>
<rect x="260.7" y="237.8" width="16" height="17.8" fill="#8fd2a4"/>
<rect x="276.1" y="237.8" width="16" height="17.8" fill="#9ad6a4"/>
<rect x="291.4" y="237.8" width="16" height="17.8" fill="#a5dba4"/>
<rect x="306.8" y="237.8" width="16" height="17.8" fill="#afdfa3"/>
<rect x="322.1" y="237.8" width="16" height="17.8" fill="#b8e2a1"/>
<rect x="337.5" y="237.8" width="16" height="17.8" fill="#c2e69f"/>
<rect x="352.9" y="237.8" width="16" height="17.8" fill="#cbea9e"/>
<rect x="368.2" y="237.8" width="16" height="17.8" fill="#d2ed9c"/>
<rect x="383.6" y="237.8" width="16" height="17.8" fill="#d9f09b"/>
<rect x="398.9" y="237.8" width="16" height="17.8" fill="#e0f399"/>
<rect x="414.3" y="237.8" width="16" height="17.8" fill="#e7f599"/>
<rect x="429.6" y="237.8" width="19" height="17.8" fill="#eaf79e"/>
<rect x="73.4" y="255.1" width="19" height="17.8" fill="#52acae"/>
<rect x="91.8" y="255.1" width="16" height="17.8" fill="#59b4ab"/>
<rect x="107.1" y="255.1" width="16" height="17.8" fill="#60bba8"/>
<rect x="122.5" y="255.1" width="16" height="17.8" fill="#67c3a5"/>
<rect x="137.8" y="255.1" width="16" height="17.8" fill="#70c6a5"/>
<rect x="153.2" y="255.1" width="16" height="17.8" fill="#79c9a5"/>
<rect x="168.6" y="255.1" width="16" height="17.8" fill="#81cda5"/>
<rect x="183.9" y="255.1" width="16" height="17.8" fill="#89d0a4"/>
<rect x="199.3" y="255.1" width="16" height="17.8" fill="#91d3a4"/>
<rect x="214.6" y="255.1" width="16" height="17.8" fill="#9cd7a4"/>
<rect x="230" y="255.1" width="16" height="17.8" fill="#a6dba4"/>
<rect x="245.3" y="255.1" width="16" height="17.8" fill="#b0dfa3"/>
<rect x="260.7" y="255.1" width="16" height="17.8" fill="#b9e3a1"/>
<rect x="276.1" y="255.1" width="16" height="17.8" fill="#c3e79f"/>
<rect x="291.4" y="255.1" width="16" height="17.8" fill="#cdeb9d"/>
<rect x="306.8" y="255.1" width="16" height="17.8" fill="#d6ef9b"/>
<rect x="322.1" y="255.1" width="16" height="17.8" fill="#e0f299"/>
<rect x="337.5" y="255.1" width="16" height="17.8" fill="#e7f69a"/>
<rect x="352.9" y="255.1" width="16" height="17.8" fill="#ebf7a0"/>
<rect x="368.2" y="255.1" width="16" height="17.8" fill="#eef8a5"/>
<rect x="383.6" y="255.1" width="16" height="17.8" fill="#f1faaa"/>
<rect x="398.9" y="255.1" width="16" height="17.8" fill="#f4fbae"/>
<rect x="414.3" y="255.1" width="16" height="17.8" fill="#f7fcb3"/>
<rect x="429.6" y="255.1" width="19" height="17.8" fill="#fafdb8"/>
<rect x="73.4" y="272.3" width="19" height="17.8" fill="#6ac4a5"/>
<rect x="91.8" y="272.3" width="16" height="17.8" fill="#75c8a5"/>
<rect x="107.1" y="272.3" width="16" height="17.8" fill="#7fcca5"/>
<rect x="122.5" y="272.3" width="16" height="17.8" fill="#89d0a4"/>
<rect x="137.8" y="272.3" width="16" height="17.8" fill="#93d4a4"/>
<rect x="153.2" y="272.3" width="16" height="17.8" fill="#9dd7a4"/>
<rect x="168.6" y="272.3" width="16" height="17.8" fill="#a6dba4"/>
<rect x="183.9" y="272.3" width="16" height="17.8" fill="#afdea3"/>
<rect x="199.3" y="272.3" width="16" height="17.8" fill="#b7e2a2"/>
<rect x="214.6" y="272.3" width="16" height="17.8" fill="#c2e69f"/>
<rect x="230" y="272.3" width="16" height="17.8" fill="#cceb9d"/>
<rect x="245.3" y="272.3" width="16" height="17.8" fill="#d7ef9b"/>
<rect x="260.7" y="272.3" width="16" height="17.8" fill="#e2f399"/>
<rect x="276.1" y="272.3" width="16" height="17.8" fill="#e9f69d"/>
<rect x="291.4" y="272.3" width="16" height="17.8" fill="#eef8a4"/>
<rect x="306.8" y="272.3" width="16" height="17.8" fill="#f2faab"/>
<rect x="322.1" y="272.3" width="16" height="17.8" fill="#f7fcb3"/>
<rect x="337.5" y="272.3" width="16" height="17.8" fill="#fcfeba"/>
<rect x="352.9" y="272.3" width="16" height="17.8" fill="#fffebd"/>
<rect x="368.2" y="272.3" width="16" height="17.8" fill="#fffbb8"/>
<rect x="383.6" y="272.3" width="16" height="17.8" fill="#fff7b2"/>
<rect x="398.9" y="272.3" width="16" height="17.8" fill="#fff4ac"/>
<rect x="414.3" y="272.3" width="16" height="17.8" fill="#fff0a7"/>
<rect x="429.6" y="272.3" width="19" height="17.8" fill="#feeda1"/>
<rect x="73.4" y="289.6" width="19" height="17.8" fill="#91d3a4"/>
<rect x="91.8" y="289.6" width="16" height="17.8" fill="#9bd7a4"/>
<rect x="107.1" y="289.6" width="16" height="17.8" fill="#a5dba4"/>
<rect x="122.5" y="289.6" width="16" height="17.8" fill="#aedea3"/>
<rect x="137.8" y="289.6" width="16" height="17.8" fill="#b7e2a2"/>
<rect x="153.2" y="289.6" width="16" height="17.8" fill="#bfe5a0"/>
<rect x="168.6" y="289.6" width="16" height="17.8" fill="#c6e89e"/>
<rect x="183.9" y="289.6" width="16" height="17.8" fill="#ceeb9d"/>
<rect x="199.3" y="289.6" width="16" height="17.8" fill="#d6ee9b"/>
<rect x="214.6" y="289.6" width="16" height="17.8" fill="#e2f399"/>
<rect x="230" y="289.6" width="16" height="17.8" fill="#e9f69d"/>
<rect x="245.3" y="289.6" width="16" height="17.8" fill="#eff8a5"/>
<rect x="260.7" y="289.6" width="16" height="17.8" fill="#f4fbae"/>
<rect x="276.1" y="289.6" width="16" height="17.8" fill="#f9fcb5"/>
<rect x="291.4" y="289.6" width="16" height="17.8" fill="#fefebd"/>
<rect x="306.8" y="289.6" width="16" height="17.8" fill="#fffbb8"/>
<rect x="322.1" y="289.6" width="16" height="17.8" fill="#fff5ae"/>
<rect x="337.5" y="289.6" width="16" height="17.8" fill="#feefa4"/>
<rect x="352.9" y="289.6" width="16" height="17.8" fill="#feea9b"/>
<rect x="368.2" y="289.6" width="16" height="17.8" fill="#fee695"/>
<rect x="383.6" y="289.6" width="16" height="17.8" fill="#fee38f"/>
<rect x="398.9" y="289.6" width="16" height="17.8" fill="#fede8a"/>
<rect x="414.3" y="289.6" width="16" height="17.8" fill="#fed985"/>
<rect x="429.6" y="289.6" width="19" height="17.8" fill="#fed380"/>
<rect x="73.4" y="306.8" width="19" height="17.8" fill="#bae3a1"/>
<rect x="91.8" y="306.8" width="16" height="17.8" fill="#c2e69f"/>
<rect x="107.1" y="306.8" width="16" height="17.8" fill="#c9e99e"/>
<rect x="122.5" y="306.8" width="16" height="17.8" fill="#d1ec9c"/>
<rect x="137.8" y="306.8" width="16" height="17.8" fill="#d8ef9b"/>
<rect x="153.2" y="306.8" width="16" height="17.8" fill="#e0f299"/>
<rect x="168.6" y="306.8" width="16" height="17.8" fill="#e6f598"/>
<rect x="183.9" y="306.8" width="16" height="17.8" fill="#e9f69d"/>
<rect x="199.3" y="306.8" width="16" height="17.8" fill="#ecf7a1"/>
<rect x="214.6" y="306.8" width="16" height="17.8" fill="#f1faaa"/>
<rect x="230" y="306.8" width="16" height="17.8" fill="#f7fcb2"/>
<rect x="245.3" y="306.8" width="16" height="17.8" fill="#fcfebb"/>
<rect x="260.7" y="306.8" width="16" height="17.8" fill="#fffbb9"/>
<rect x="276.1" y="306.8" width="16" height="17.8" fill="#fff5af"/>
<rect x="291.4" y="306.8" width="16" height="17.8" fill="#feefa5"/>
<rect x="306.8" y="306.8" width="16" height="17.8" fill="#fee99b"/>
<rect x="322.1" y="306.8" width="16" height="17.8" fill="#fee391"/>
<rect x="337.5" y="306.8" width="16" height="17.8" fill="#fedc87"/>
<rect x="352.9" y="306.8" width="16" height="17.8" fill="#fed380"/>
<rect x="368.2" y="306.8" width="16" height="17.8" fill="#fecd7b"/>
<rect x="383.6" y="306.8" width="16" height="17.8" fill="#fdc776"/>
<rect x="398.9" y="306.8" width="16" height="17.8" fill="#fdc171"/>
<rect x="414.3" y="306.8" width="16" height="17.8" fill="#fdba6b"/>
<rect x="429.6" y="306.8" width="19" height="17.8" fill="#fdb466"/>
<rect x="73.4" y="324" width="19" height="17.8" fill="#d8ef9b"/>
<rect x="91.8" y="324" width="16" height="17.8" fill="#def29a"/>
<rect x="107.1" y="324" width="16" height="17.8" fill="#e5f598"/>
<rect x="122.5" y="324" width="16" height="17.8" fill="#e9f69c"/>
<rect x="137.8" y="324" width="16" height="17.8" fill="#ebf7a1"/>
<rect x="153.2" y="324" width="16" height="17.8" fill="#eff8a5"/>
<rect x="168.6" y="324" width="16" height="17.8" fill="#f2faab"/>
<rect x="183.9" y="324" width="16" height="17.8" fill="#f5fbb0"/>
<rect x="199.3" y="324" width="16" height="17.8" fill="#f9fcb5"/>
<rect x="214.6" y="324" width="16" height="17.8" fill="#fefebd"/>
<rect x="230" y="324" width="16" height="17.8" fill="#fffab7"/>
<rect x="245.3" y="324" width="16" height="17.8" fill="#fff4ad"/>
<rect x="260.7" y="324" width="16" height="17.8" fill="#feeea2"/>
<rect x="276.1" y="324" width="16" height="17.8" fill="#fee898"/>
<rect x="291.4" y="324" width="16" height="17.8" fill="#fee28e"/>
<rect x="306.8" y="324" width="16" height="17.8" fill="#fed985"/>
<rect x="322.1" y="324" width="16" height="17.8" fill="#fecf7d"/>
<rect x="337.5" y="324" width="16" height="17.8" fill="#fdc675"/>
<rect x="352.9" y="324" width="16" height="17.8" fill="#fdbd6d"/>
<rect x="368.2" y="324" width="16" height="17.8" fill="#fdb768"/>
<rect x="383.6" y="324" width="16" height="17.8" fill="#fdb163"/>
<rect x="398.9" y="324" width="16" height="17.8" fill="#fca95f"/>
<rect x="414.3" y="324" width="16" height="17.8" fill="#fba15b"/>
<rect x="429.6" y="324" width="19" height="17.8" fill="#fa9957"/>
<rect x="73.4" y="341.3" width="19" height="17.8" fill="#ecf8a2"/>
<rect x="91.8" y="341.3" width="16" height="17.8" fill="#eff9a6"/>
<rect x="107.1" y="341.3" width="16" height="17.8" fill="#f1f9aa"/>
<rect x="122.5" y="341.3" width="16" height="17.8" fill="#f4faad"/>
<rect x="137.8" y="341.3" width="16" height="17.8" fill="#f6fbb1"/>
<rect x="153.2" y="341.3" width="16" height="17.8" fill="#f9fdb6"/>
<rect x="168.6" y="341.3" width="16" height="17.8" fill="#fdfebc"/>
<rect x="183.9" y="341.3" width="16" height="17.8" fill="#fffcba"/>
<rect x="199.3" y="341.3" width="16" height="17.8" fill="#fff7b2"/>
<rect x="214.6" y="341.3" width="16" height="17.8" fill="#fff1a8"/>
<rect x="230" y="341.3" width="16" height="17.8" fill="#feeb9e"/>
<rect x="245.3" y="341.3" width="16" height="17.8" fill="#fee594"/>
<rect x="260.7" y="341.3" width="16" height="17.8" fill="#fede8a"/>
<rect x="276.1" y="341.3" width="16" height="17.8" fill="#fed582"/>
<rect x="291.4" y="341.3" width="16" height="17.8" fill="#fecc7a"/>
<rect x="306.8" y="341.3" width="16" height="17.8" fill="#fdc373"/>
<rect x="322.1" y="341.3" width="16" height="17.8" fill="#fdba6b"/>
<rect x="337.5" y="341.3" width="16" height="17.8" fill="#fdb163"/>
<rect x="352.9" y="341.3" width="16" height="17.8" fill="#fca75e"/>
<rect x="368.2" y="341.3" width="16" height="17.8" fill="#fb9f5a"/>
<rect x="383.6" y="341.3" width="16" height="17.8" fill="#fa9756"/>
<rect x="398.9" y="341.3" width="16" height="17.8" fill="#f99053"/>
<rect x="414.3" y="341.3" width="16" height="17.8" fill="#f8884f"/>
<rect x="429.6" y="341.3" width="19" height="17.8" fill="#f7804c"/>
<rect x="73.4" y="358.5" width="19" height="17.8" fill="#f9fdb6"/>
<rect x="91.8" y="358.5" width="16" height="17.8" fill="#fbfdb8"/>
<rect x="107.1" y="358.5" width="16" height="17.8" fill="#fcfebb"/>
<rect x="122.5" y="358.5" width="16" height="17.8" fill="#feffbe"/>
<rect x="137.8" y="358.5" width="16" height="17.8" fill="#fffebd"/>
<rect x="153.2" y="358.5" width="16" height="17.8" fill="#fffab6"/>
<rect x="168.6" y="358.5" width="16" height="17.8" fill="#fff4ac"/>
<rect x="183.9" y="358.5" width="16" height="17.8" fill="#feeea2"/>
<rect x="199.3" y="358.5" width="16" height="17.8" fill="#fee898"/>
<rect x="214.6" y="358.5" width="16" height="17.8" fill="#fee28e"/>
<rect x="230" y="358.5" width="16" height="17.8" fill="#fed985"/>
<rect x="245.3" y="358.5" width="16" height="17.8" fill="#fecf7d"/>
<rect x="260.7" y="358.5" width="16" height="17.8" fill="#fdc574"/>
<rect x="276.1" y="358.5" width="16" height="17.8" fill="#fdbd6e"/>
<rect x="291.4" y="358.5" width="16" height="17.8" fill="#fdb567"/>
<rect x="306.8" y="358.5" width="16" height="17.8" fill="#fdad60"/>
<rect x="322.1" y="358.5" width="16" height="17.8" fill="#fba25b"/>
<rect x="337.5" y="358.5" width="16" height="17.8" fill="#fa9857"/>
<rect x="352.9" y="358.5" width="16" height="17.8" fill="#f98e52"/>
<rect x="368.2" y="358.5" width="16" height="17.8" fill="#f8874f"/>
<rect x="383.6" y="358.5" width="16" height="17.8" fill="#f7804c"/>
<rect x="398.9" y="358.5" width="16" height="17.8" fill="#f67949"/>
<rect x="414.3" y="358.5" width="16" height="17.8" fill="#f57245"/>
<rect x="429.6" y="358.5" width="19" height="17.8" fill="#f36c43"/>
<rect x="73.4" y="375.8" width="19" height="17.8" fill="#fff8b4"/>
<rect x="91.8" y="375.8" width="16" height="17.8" fill="#fff6b1"/>
<rect x="107.1" y="375.8" width="16" height="17.8" fill="#fff4ad"/>
<rect x="122.5" y="375.8" width="16" height="17.8" fill="#fff2aa"/>
<rect x="137.8" y="375.8" width="16" height="17.8" fill="#fff0a7"/>
<rect x="153.2" y="375.8" width="16" height="17.8" fill="#feeb9e"/>
<rect x="168.6" y="375.8" width="16" height="17.8" fill="#fee492"/>
<rect x="183.9" y="375.8" width="16" height="17.8" fill="#fedc87"/>
<rect x="199.3" y="375.8" width="16" height="17.8" fill="#fed07e"/>
<rect x="214.6" y="375.8" width="16" height="17.8" fill="#fec776"/>
<rect x="230" y="375.8" width="16" height="17.8" fill="#fdbe6e"/>
<rect x="245.3" y="375.8" width="16" height="17.8" fill="#fdb567"/>
<rect x="260.7" y="375.8" width="16" height="17.8" fill="#fdab60"/>
<rect x="276.1" y="375.8" width="16" height="17.8" fill="#fba25b"/>
<rect x="291.4" y="375.8" width="16" height="17.8" fill="#fa9957"/>
<rect x="306.8" y="375.8" width="16" height="17.8" fill="#f99053"/>
<rect x="322.1" y="375.8" width="16" height="17.8" fill="#f8874f"/>
<rect x="337.5" y="375.8" width="16" height="17.8" fill="#f67e4b"/>
<rect x="352.9" y="375.8" width="16" height="17.8" fill="#f57647"/>
<rect x="368.2" y="375.8" width="16" height="17.8" fill="#f46f44"/>
<rect x="383.6" y="375.8" width="16" height="17.8" fill="#f26a44"/>
<rect x="398.9" y="375.8" width="16" height="17.8" fill="#ef6645"/>
<rect x="414.3" y="375.8" width="16" height="17.8" fill="#ec6146"/>
<rect x="429.6" y="375.8" width="19" height="17.8" fill="#e95d47"/>
<rect x="73.4" y="393" width="19" height="17.8" fill="#feeb9e"/>
<rect x="91.8" y="393" width="16" height="17.8" fill="#fee99b"/>
<rect x="107.1" y="393" width="16" height="17.8" fill="#fee797"/>
<rect x="122.5" y="393" width="16" height="17.8" fill="#fee594"/>
<rect x="137.8" y="393" width="16" height="17.8" fill="#fee391"/>
<rect x="153.2" y="393" width="16" height="17.8" fill="#fedd88"/>
<rect x="168.6" y="393" width="16" height="17.8" fill="#fed07d"/>
<rect x="183.9" y="393" width="16" height="17.8" fill="#fdc372"/>
<rect x="199.3" y="393" width="16" height="17.8" fill="#fdb667"/>
<rect x="214.6" y="393" width="16" height="17.8" fill="#fdad60"/>
<rect x="230" y="393" width="16" height="17.8" fill="#fba25b"/>
<rect x="245.3" y="393" width="16" height="17.8" fill="#fa9756"/>
<rect x="260.7" y="393" width="16" height="17.8" fill="#f88b51"/>
<rect x="276.1" y="393" width="16" height="17.8" fill="#f7844d"/>
<rect x="291.4" y="393" width="16" height="17.8" fill="#f67c4a"/>
<rect x="306.8" y="393" width="16" height="17.8" fill="#f57546"/>
<rect x="322.1" y="393" width="16" height="17.8" fill="#f46d43"/>
<rect x="337.5" y="393" width="16" height="17.8" fill="#f06844"/>
<rect x="352.9" y="393" width="16" height="17.8" fill="#ed6246"/>
<rect x="368.2" y="393" width="16" height="17.8" fill="#ea5e47"/>
<rect x="383.6" y="393" width="16" height="17.8" fill="#e85a48"/>
<rect x="398.9" y="393" width="16" height="17.8" fill="#e55649"/>
<rect x="414.3" y="393" width="16" height="17.8" fill="#e2524a"/>
<rect x="429.6" y="393" width="19" height="17.8" fill="#df4e4b"/>
<rect x="73.4" y="410.2" width="19" height="17.8" fill="#fedf8a"/>
<rect x="91.8" y="410.2" width="16" height="17.8" fill="#fedc88"/>
<rect x="107.1" y="410.2" width="16" height="17.8" fill="#fed985"/>
<rect x="122.5" y="410.2" width="16" height="17.8" fill="#fed682"/>
<rect x="137.8" y="410.2" width="16" height="17.8" fill="#fed280"/>
<rect x="153.2" y="410.2" width="16" height="17.8" fill="#fec978"/>
<rect x="168.6" y="410.2" width="16" height="17.8" fill="#fdbb6c"/>
<rect x="183.9" y="410.2" width="16" height="17.8" fill="#fdad61"/>
<rect x="199.3" y="410.2" width="16" height="17.8" fill="#fa9b58"/>
<rect x="214.6" y="410.2" width="16" height="17.8" fill="#f99053"/>
<rect x="230" y="410.2" width="16" height="17.8" fill="#f7854e"/>
<rect x="245.3" y="410.2" width="16" height="17.8" fill="#f67a49"/>
<rect x="260.7" y="410.2" width="16" height="17.8" fill="#f46f44"/>
<rect x="276.1" y="410.2" width="16" height="17.8" fill="#f26a44"/>
<rect x="291.4" y="410.2" width="16" height="17.8" fill="#ef6545"/>
<rect x="306.8" y="410.2" width="16" height="17.8" fill="#ec6146"/>
<rect x="322.1" y="410.2" width="16" height="17.8" fill="#e95c47"/>
<rect x="337.5" y="410.2" width="16" height="17.8" fill="#e65848"/>
<rect x="352.9" y="410.2" width="16" height="17.8" fill="#e3544a"/>
<rect x="368.2" y="410.2" width="16" height="17.8" fill="#e04f4b"/>
<rect x="383.6" y="410.2" width="16" height="17.8" fill="#de4b4c"/>
<rect x="398.9" y="410.2" width="16" height="17.8" fill="#db474d"/>
<rect x="414.3" y="410.2" width="16" height="17.8" fill="#d8434e"/>
<rect x="429.6" y="410.2" width="19" height="17.8" fill="#d63f4f"/>
<rect x="73.4" y="427.5" width="19" height="17.8" fill="#fecf7c"/>
<rect x="91.8" y="427.5" width="16" height="17.8" fill="#fecb79"/>
<rect x="107.1" y="427.5" width="16" height="17.8" fill="#fec776"/>
<rect x="122.5" y="427.5" width="16" height="17.8" fill="#fdc373"/>
<rect x="137.8" y="427.5" width="16" height="17.8" fill="#fdc070"/>
<rect x="153.2" y="427.5" width="16" height="17.8" fill="#fdb668"/>
<rect x="168.6" y="427.5" width="16" height="17.8" fill="#fca75e"/>
<rect x="183.9" y="427.5" width="16" height="17.8" fill="#fa9656"/>
<rect x="199.3" y="427.5" width="16" height="17.8" fill="#f7844e"/>
<rect x="214.6" y="427.5" width="16" height="17.8" fill="#f67948"/>
<rect x="230" y="427.5" width="16" height="17.8" fill="#f46d43"/>
<rect x="245.3" y="427.5" width="16" height="17.8" fill="#ee6445"/>
<rect x="260.7" y="427.5" width="16" height="17.8" fill="#e85c47"/>
<rect x="276.1" y="427.5" width="16" height="17.8" fill="#e65848"/>
<rect x="291.4" y="427.5" width="16" height="17.8" fill="#e35449"/>
<rect x="306.8" y="427.5" width="16" height="17.8" fill="#e1504a"/>
<rect x="322.1" y="427.5" width="16" height="17.8" fill="#de4c4b"/>
<rect x="337.5" y="427.5" width="16" height="17.8" fill="#dc494c"/>
<rect x="352.9" y="427.5" width="16" height="17.8" fill="#d9454d"/>
<rect x="368.2" y="427.5" width="16" height="17.8" fill="#d7414e"/>
<rect x="383.6" y="427.5" width="16" height="17.8" fill="#d43d4f"/>
<rect x="398.9" y="427.5" width="16" height="17.8" fill="#d0384e"/>
<rect x="414.3" y="427.5" width="16" height="17.8" fill="#cb334d"/>
<rect x="429.6" y="427.5" width="19" height="17.8" fill="#c72e4c"/>
<rect x="73.4" y="444.7" width="19" height="17.8" fill="#fdbf6f"/>
<rect x="91.8" y="444.7" width="16" height="17.8" fill="#fdbb6c"/>
<rect x="107.1" y="444.7" width="16" height="17.8" fill="#fdb668"/>
<rect x="122.5" y="444.7" width="16" height="17.8" fill="#fdb264"/>
<rect x="137.8" y="444.7" width="16" height="17.8" fill="#fdad61"/>
<rect x="153.2" y="444.7" width="16" height="17.8" fill="#fba25b"/>
<rect x="168.6" y="444.7" width="16" height="17.8" fill="#f99154"/>
<rect x="183.9" y="444.7" width="16" height="17.8" fill="#f7814c"/>
<rect x="199.3" y="444.7" width="16" height="17.8" fill="#f47044"/>
<rect x="214.6" y="444.7" width="16" height="17.8" fill="#ef6645"/>
<rect x="230" y="444.7" width="16" height="17.8" fill="#e95d47"/>
<rect x="245.3" y="444.7" width="16" height="17.8" fill="#e3534a"/>
<rect x="260.7" y="444.7" width="16" height="17.8" fill="#dd4a4c"/>
<rect x="276.1" y="444.7" width="16" height="17.8" fill="#db464d"/>
<rect x="291.4" y="444.7" width="16" height="17.8" fill="#d8434e"/>
<rect x="306.8" y="444.7" width="16" height="17.8" fill="#d6404f"/>
<rect x="322.1" y="444.7" width="16" height="17.8" fill="#d43c4f"/>
<rect x="337.5" y="444.7" width="16" height="17.8" fill="#d0384e"/>
<rect x="352.9" y="444.7" width="16" height="17.8" fill="#cc344d"/>
<rect x="368.2" y="444.7" width="16" height="17.8" fill="#c8304c"/>
<rect x="383.6" y="444.7" width="16" height="17.8" fill="#c42b4b"/>
<rect x="398.9" y="444.7" width="16" height="17.8" fill="#c0274a"/>
<rect x="414.3" y="444.7" width="16" height="17.8" fill="#bc2349"/>
<rect x="429.6" y="444.7" width="19" height="17.8" fill="#b91e48"/>
<rect x="73.4" y="462" width="19" height="20.8" fill="#fdb163"/>
<rect x="91.8" y="462" width="16" height="20.8" fill="#fdac60"/>
<rect x="107.1" y="462" width="16" height="20.8" fill="#fca65e"/>
<rect x="122.5" y="462" width="16" height="20.8" fill="#fba15b"/>
<rect x="137.8" y="462" width="16" height="20.8" fill="#fa9b58"/>
<rect x="153.2" y="462" width="16" height="20.8" fill="#f98f53"/>
<rect x="168.6" y="462" width="16" height="20.8" fill="#f67f4b"/>
<rect x="183.9" y="462" width="16" height="20.8" fill="#f46e44"/>
<rect x="199.3" y="462" width="16" height="20.8" fill="#ed6246"/>
<rect x="214.6" y="462" width="16" height="20.8" fill="#e65848"/>
<rect x="230" y="462" width="16" height="20.8" fill="#df4e4b"/>
<rect x="245.3" y="462" width="16" height="20.8" fill="#d9444e"/>
<rect x="260.7" y="462" width="16" height="20.8" fill="#d0384e"/>
<rect x="276.1" y="462" width="16" height="20.8" fill="#cc344d"/>
<rect x="291.4" y="462" width="16" height="20.8" fill="#c9314c"/>
<rect x="306.8" y="462" width="16" height="20.8" fill="#c62d4b"/>
<rect x="322.1" y="462" width="16" height="20.8" fill="#c32a4b"/>
<rect x="337.5" y="462" width="16" height="20.8" fill="#c0264a"/>
<rect x="352.9" y="462" width="16" height="20.8" fill="#bc2349"/>
<rect x="368.2" y="462" width="16" height="20.8" fill="#b91e48"/>
<rect x="383.6" y="462" width="16" height="20.8" fill="#b51a47"/>
<rect x="398.9" y="462" width="16" height="20.8" fill="#b11646"/>
<rect x="414.3" y="462" width="16" height="20.8" fill="#ad1246"/>
<rect x="429.6" y="462" width="19" height="20.8" fill="#a90d45"/>
</g>
<use href="#ov"/>
<rect x="454.6" y="48.6" width="18" height="430.4" fill="url(#cb)" stroke="#333" stroke-width="1"/>
<text class="b" x="479.8" y="107.6">8</text>
<text class="b" x="479.8" y="173.4">6</text>
<text class="b" x="479.8" y="239.2">4</text>
<text class="b" x="479.8" y="305.0">2</text>
<text class="b" x="479.8" y="370.8">0</text>
<text class="b" x="479.8" y="436.6">-2</text>
<path d="M472.6 100.8h-3.5M472.6 166.6h-3.5M472.6 232.4h-3.5M472.6 298.2h-3.5M472.6 364.0h-3.5M472.6 429.8h-3.5" stroke="#222" stroke-width="1.2" fill="none"/>
<text class="b" x="463.9" y="36.8" text-anchor="middle">cm</text>
<text class="L" x="433.6" y="85.2" text-anchor="end">(a)</text>
<text class="t" x="71.2" y="427.0" text-anchor="end">25°N</text>
<text class="t" x="71.2" y="358.0" text-anchor="end">26°N</text>
<text class="t" x="71.2" y="288.9" text-anchor="end">27°N</text>
<text class="t" x="71.2" y="219.9" text-anchor="end">28°N</text>
<text class="t" x="71.2" y="150.8" text-anchor="end">29°N</text>
<text class="t" x="71.2" y="81.8" text-anchor="end">30°N</text>
</g>
<g transform="translate(501.5 0)">
<g filter="url(#bl)" clip-path="url(#pc)">
<rect x="73.4" y="45.2" width="374.6" height="437" fill="#eff8a5"/>
<rect x="73.4" y="45.2" width="65" height="20.8" fill="#5160aa"/>
<rect x="137.8" y="45.2" width="16" height="20.8" fill="#4e64ac"/>
<rect x="153.2" y="45.2" width="16" height="20.8" fill="#496baf"/>
<rect x="168.6" y="45.2" width="16" height="20.8" fill="#4372b3"/>
<rect x="183.9" y="45.2" width="16" height="20.8" fill="#3e79b6"/>
<rect x="199.3" y="45.2" width="16" height="20.8" fill="#3880b9"/>
<rect x="214.6" y="45.2" width="16" height="20.8" fill="#3387bd"/>
<rect x="230" y="45.2" width="16" height="20.8" fill="#388fba"/>
<rect x="245.3" y="45.2" width="16" height="20.8" fill="#3f96b7"/>
<rect x="260.7" y="45.2" width="16" height="20.8" fill="#459db4"/>
<rect x="276.1" y="45.2" width="16" height="20.8" fill="#4ba4b1"/>
<rect x="291.4" y="45.2" width="16" height="20.8" fill="#52abae"/>
<rect x="306.8" y="45.2" width="16" height="20.8" fill="#58b2ab"/>
<rect x="322.1" y="45.2" width="16" height="20.8" fill="#5fbaa8"/>
<rect x="337.5" y="45.2" width="16" height="20.8" fill="#67c3a5"/>
<rect x="352.9" y="45.2" width="16" height="20.8" fill="#72c7a5"/>
<rect x="368.2" y="45.2" width="16" height="20.8" fill="#7ccba5"/>
<rect x="383.6" y="45.2" width="16" height="20.8" fill="#85cea5"/>
<rect x="398.9" y="45.2" width="16" height="20.8" fill="#8dd1a4"/>
<rect x="414.3" y="45.2" width="16" height="20.8" fill="#95d4a4"/>
<rect x="429.6" y="45.2" width="19" height="20.8" fill="#9cd7a4"/>
<rect x="73.4" y="65.4" width="65" height="17.8" fill="#5e4fa2"/>
<rect x="137.8" y="65.4" width="16" height="17.8" fill="#5955a5"/>
<rect x="153.2" y="65.4" width="16" height="17.8" fill="#5160aa"/>
<rect x="168.6" y="65.4" width="16" height="17.8" fill="#496aaf"/>
<rect x="183.9" y="65.4" width="16" height="17.8" fill="#4174b4"/>
<rect x="199.3" y="65.4" width="16" height="17.8" fill="#3a7db8"/>
<rect x="214.6" y="65.4" width="16" height="17.8" fill="#3485bc"/>
<rect x="230" y="65.4" width="16" height="17.8" fill="#378dbb"/>
<rect x="245.3" y="65.4" width="16" height="17.8" fill="#3e96b7"/>
<rect x="260.7" y="65.4" width="16" height="17.8" fill="#459db4"/>
<rect x="276.1" y="65.4" width="16" height="17.8" fill="#4ba4b1"/>
<rect x="291.4" y="65.4" width="16" height="17.8" fill="#52abae"/>
<rect x="306.8" y="65.4" width="16" height="17.8" fill="#58b2ab"/>
<rect x="322.1" y="65.4" width="16" height="17.8" fill="#5fbaa8"/>
<rect x="337.5" y="65.4" width="16" height="17.8" fill="#67c3a5"/>
<rect x="352.9" y="65.4" width="16" height="17.8" fill="#72c7a5"/>
<rect x="368.2" y="65.4" width="16" height="17.8" fill="#7ccba5"/>
<rect x="383.6" y="65.4" width="16" height="17.8" fill="#85cea5"/>
<rect x="398.9" y="65.4" width="16" height="17.8" fill="#8dd1a4"/>
<rect x="414.3" y="65.4" width="16" height="17.8" fill="#95d4a4"/>
<rect x="429.6" y="65.4" width="19" height="17.8" fill="#9cd7a4"/>
<rect x="73.4" y="82.7" width="65" height="17.8" fill="#5e4fa2"/>
<rect x="137.8" y="82.7" width="16" height="17.8" fill="#5956a5"/>
<rect x="153.2" y="82.7" width="16" height="17.8" fill="#5061ab"/>
<rect x="168.6" y="82.7" width="16" height="17.8" fill="#476db0"/>
<rect x="183.9" y="82.7" width="16" height="17.8" fill="#3e78b6"/>
<rect x="199.3" y="82.7" width="16" height="17.8" fill="#3781ba"/>
<rect x="214.6" y="82.7" width="16" height="17.8" fill="#3289bd"/>
<rect x="230" y="82.7" width="16" height="17.8" fill="#3990ba"/>
<rect x="245.3" y="82.7" width="16" height="17.8" fill="#4098b6"/>
<rect x="260.7" y="82.7" width="16" height="17.8" fill="#479fb3"/>
<rect x="276.1" y="82.7" width="16" height="17.8" fill="#4ea7b0"/>
<rect x="291.4" y="82.7" width="16" height="17.8" fill="#54aead"/>
<rect x="306.8" y="82.7" width="16" height="17.8" fill="#5bb6aa"/>
<rect x="322.1" y="82.7" width="16" height="17.8" fill="#62bea7"/>
<rect x="337.5" y="82.7" width="16" height="17.8" fill="#6cc4a5"/>
<rect x="352.9" y="82.7" width="16" height="17.8" fill="#76c8a5"/>
<rect x="368.2" y="82.7" width="16" height="17.8" fill="#81cca5"/>
<rect x="383.6" y="82.7" width="16" height="17.8" fill="#8ad0a4"/>
<rect x="398.9" y="82.7" width="16" height="17.8" fill="#92d3a4"/>
<rect x="414.3" y="82.7" width="16" height="17.8" fill="#9ad6a4"/>
<rect x="429.6" y="82.7" width="19" height="17.8" fill="#a3daa4"/>
<rect x="73.4" y="99.9" width="65" height="17.8" fill="#5e4fa2"/>
<rect x="137.8" y="99.9" width="16" height="17.8" fill="#5857a6"/>
<rect x="153.2" y="99.9" width="16" height="17.8" fill="#4d64ac"/>
<rect x="168.6" y="99.9" width="16" height="17.8" fill="#4372b2"/>
<rect x="183.9" y="99.9" width="16" height="17.8" fill="#397fb9"/>
<rect x="199.3" y="99.9" width="16" height="17.8" fill="#3288bd"/>
<rect x="214.6" y="99.9" width="16" height="17.8" fill="#388eba"/>
<rect x="230" y="99.9" width="16" height="17.8" fill="#3d95b8"/>
<rect x="245.3" y="99.9" width="16" height="17.8" fill="#439bb5"/>
<rect x="260.7" y="99.9" width="16" height="17.8" fill="#49a2b2"/>
<rect x="276.1" y="99.9" width="16" height="17.8" fill="#51aaaf"/>
<rect x="291.4" y="99.9" width="16" height="17.8" fill="#58b2ab"/>
<rect x="306.8" y="99.9" width="16" height="17.8" fill="#5fbba8"/>
<rect x="322.1" y="99.9" width="16" height="17.8" fill="#67c2a5"/>
<rect x="337.5" y="99.9" width="16" height="17.8" fill="#72c7a5"/>
<rect x="352.9" y="99.9" width="16" height="17.8" fill="#7ccba5"/>
<rect x="368.2" y="99.9" width="16" height="17.8" fill="#87cfa5"/>
<rect x="383.6" y="99.9" width="16" height="17.8" fill="#90d3a4"/>
<rect x="398.9" y="99.9" width="16" height="17.8" fill="#9ad6a4"/>
<rect x="414.3" y="99.9" width="16" height="17.8" fill="#a3daa4"/>
<rect x="429.6" y="99.9" width="19" height="17.8" fill="#acdda4"/>
<rect x="73.4" y="117.2" width="65" height="17.8" fill="#5e4fa2"/>
<rect x="137.8" y="117.2" width="16" height="17.8" fill="#5758a6"/>
<rect x="153.2" y="117.2" width="16" height="17.8" fill="#4b67ad"/>
<rect x="168.6" y="117.2" width="16" height="17.8" fill="#4076b4"/>
<rect x="183.9" y="117.2" width="16" height="17.8" fill="#3485bc"/>
<rect x="199.3" y="117.2" width="16" height="17.8" fill="#388eba"/>
<rect x="214.6" y="117.2" width="16" height="17.8" fill="#3d95b8"/>
<rect x="230" y="117.2" width="16" height="17.8" fill="#439bb5"/>
<rect x="245.3" y="117.2" width="16" height="17.8" fill="#48a1b3"/>
<rect x="260.7" y="117.2" width="16" height="17.8" fill="#4fa8b0"/>
<rect x="276.1" y="117.2" width="16" height="17.8" fill="#57b1ac"/>
<rect x="291.4" y="117.2" width="16" height="17.8" fill="#5eb9a9"/>
<rect x="306.8" y="117.2" width="16" height="17.8" fill="#66c2a5"/>
<rect x="322.1" y="117.2" width="16" height="17.8" fill="#70c6a5"/>
<rect x="337.5" y="117.2" width="16" height="17.8" fill="#7bcaa5"/>
<rect x="352.9" y="117.2" width="16" height="17.8" fill="#85cea5"/>
<rect x="368.2" y="117.2" width="16" height="17.8" fill="#90d2a4"/>
<rect x="383.6" y="117.2" width="16" height="17.8" fill="#99d6a4"/>
<rect x="398.9" y="117.2" width="16" height="17.8" fill="#a3daa4"/>
<rect x="414.3" y="117.2" width="16" height="17.8" fill="#acdda4"/>
<rect x="429.6" y="117.2" width="19" height="17.8" fill="#b3e0a2"/>
<rect x="73.4" y="134.4" width="65" height="17.8" fill="#5e4fa2"/>
<rect x="137.8" y="134.4" width="16" height="17.8" fill="#5659a7"/>
<rect x="153.2" y="134.4" width="16" height="17.8" fill="#4a69ae"/>
<rect x="168.6" y="134.4" width="16" height="17.8" fill="#3d79b6"/>
<rect x="183.9" y="134.4" width="16" height="17.8" fill="#348abc"/>
<rect x="199.3" y="134.4" width="16" height="17.8" fill="#3d94b8"/>
<rect x="214.6" y="134.4" width="16" height="17.8" fill="#449cb5"/>
<rect x="230" y="134.4" width="16" height="17.8" fill="#4aa3b2"/>
<rect x="245.3" y="134.4" width="16" height="17.8" fill="#51abaf"/>
<rect x="260.7" y="134.4" width="16" height="17.8" fill="#58b3ab"/>
<rect x="276.1" y="134.4" width="16" height="17.8" fill="#60bba8"/>
<rect x="291.4" y="134.4" width="16" height="17.8" fill="#68c3a5"/>
<rect x="306.8" y="134.4" width="16" height="17.8" fill="#72c7a5"/>
<rect x="322.1" y="134.4" width="16" height="17.8" fill="#7ccba5"/>
<rect x="337.5" y="134.4" width="16" height="17.8" fill="#87cfa5"/>
<rect x="352.9" y="134.4" width="16" height="17.8" fill="#91d3a4"/>
<rect x="368.2" y="134.4" width="16" height="17.8" fill="#9cd7a4"/>
<rect x="383.6" y="134.4" width="16" height="17.8" fill="#a5dba4"/>
<rect x="398.9" y="134.4" width="16" height="17.8" fill="#addea4"/>
<rect x="414.3" y="134.4" width="16" height="17.8" fill="#b4e1a2"/>
<rect x="429.6" y="134.4" width="19" height="17.8" fill="#bbe4a1"/>
<rect x="73.4" y="151.6" width="19" height="17.8" fill="#5b53a4"/>
<rect x="91.8" y="151.6" width="16" height="17.8" fill="#5955a5"/>
<rect x="107.1" y="151.6" width="16" height="17.8" fill="#5758a6"/>
<rect x="122.5" y="151.6" width="16" height="17.8" fill="#565aa7"/>
<rect x="137.8" y="151.6" width="16" height="17.8" fill="#4e64ac"/>
<rect x="153.2" y="151.6" width="16" height="17.8" fill="#4273b3"/>
<rect x="168.6" y="151.6" width="16" height="17.8" fill="#3782ba"/>
<rect x="183.9" y="151.6" width="16" height="17.8" fill="#3a91b9"/>
<rect x="199.3" y="151.6" width="16" height="17.8" fill="#449cb5"/>
<rect x="214.6" y="151.6" width="16" height="17.8" fill="#4ca5b1"/>
<rect x="230" y="151.6" width="16" height="17.8" fill="#53adae"/>
<rect x="245.3" y="151.6" width="16" height="17.8" fill="#5bb6aa"/>
<rect x="260.7" y="151.6" width="16" height="17.8" fill="#63bea7"/>
<rect x="276.1" y="151.6" width="16" height="17.8" fill="#6bc4a5"/>
<rect x="291.4" y="151.6" width="16" height="17.8" fill="#75c8a5"/>
<rect x="306.8" y="151.6" width="16" height="17.8" fill="#7fcca5"/>
<rect x="322.1" y="151.6" width="16" height="17.8" fill="#89d0a4"/>
<rect x="337.5" y="151.6" width="16" height="17.8" fill="#94d4a4"/>
<rect x="352.9" y="151.6" width="16" height="17.8" fill="#9ed8a4"/>
<rect x="368.2" y="151.6" width="16" height="17.8" fill="#a9dca4"/>
<rect x="383.6" y="151.6" width="16" height="17.8" fill="#b1dfa3"/>
<rect x="398.9" y="151.6" width="16" height="17.8" fill="#b7e2a2"/>
<rect x="414.3" y="151.6" width="16" height="17.8" fill="#bee5a0"/>
<rect x="429.6" y="151.6" width="19" height="17.8" fill="#c4e79f"/>
<rect x="73.4" y="168.9" width="19" height="17.8" fill="#545ca8"/>
<rect x="91.8" y="168.9" width="16" height="17.8" fill="#5061ab"/>
<rect x="107.1" y="168.9" width="16" height="17.8" fill="#4c66ad"/>
<rect x="122.5" y="168.9" width="16" height="17.8" fill="#496baf"/>
<rect x="137.8" y="168.9" width="16" height="17.8" fill="#4175b4"/>
<rect x="153.2" y="168.9" width="16" height="17.8" fill="#3584bb"/>
<rect x="168.6" y="168.9" width="16" height="17.8" fill="#3b92b9"/>
<rect x="183.9" y="168.9" width="16" height="17.8" fill="#48a1b3"/>
<rect x="199.3" y="168.9" width="16" height="17.8" fill="#52acae"/>
<rect x="214.6" y="168.9" width="16" height="17.8" fill="#5bb5aa"/>
<rect x="230" y="168.9" width="16" height="17.8" fill="#63bea6"/>
<rect x="245.3" y="168.9" width="16" height="17.8" fill="#6dc5a5"/>
<rect x="260.7" y="168.9" width="16" height="17.8" fill="#76c8a5"/>
<rect x="276.1" y="168.9" width="16" height="17.8" fill="#7fcca5"/>
<rect x="291.4" y="168.9" width="16" height="17.8" fill="#87cfa5"/>
<rect x="306.8" y="168.9" width="16" height="17.8" fill="#8fd2a4"/>
<rect x="322.1" y="168.9" width="16" height="17.8" fill="#98d6a4"/>
<rect x="337.5" y="168.9" width="16" height="17.8" fill="#a3daa4"/>
<rect x="352.9" y="168.9" width="16" height="17.8" fill="#addea4"/>
<rect x="368.2" y="168.9" width="16" height="17.8" fill="#b6e1a2"/>
<rect x="383.6" y="168.9" width="16" height="17.8" fill="#bee5a0"/>
<rect x="398.9" y="168.9" width="16" height="17.8" fill="#c4e79f"/>
<rect x="414.3" y="168.9" width="16" height="17.8" fill="#cbea9e"/>
<rect x="429.6" y="168.9" width="19" height="17.8" fill="#d1ed9c"/>
<rect x="73.4" y="186.1" width="19" height="17.8" fill="#4570b1"/>
<rect x="91.8" y="186.1" width="16" height="17.8" fill="#4274b3"/>
<rect x="107.1" y="186.1" width="16" height="17.8" fill="#3e78b5"/>
<rect x="122.5" y="186.1" width="16" height="17.8" fill="#3b7cb7"/>
<rect x="137.8" y="186.1" width="16" height="17.8" fill="#3486bc"/>
<rect x="153.2" y="186.1" width="16" height="17.8" fill="#3d94b8"/>
<rect x="168.6" y="186.1" width="16" height="17.8" fill="#4aa2b2"/>
<rect x="183.9" y="186.1" width="16" height="17.8" fill="#56b0ac"/>
<rect x="199.3" y="186.1" width="16" height="17.8" fill="#60bca8"/>
<rect x="214.6" y="186.1" width="16" height="17.8" fill="#6ac4a5"/>
<rect x="230" y="186.1" width="16" height="17.8" fill="#76c8a5"/>
<rect x="245.3" y="186.1" width="16" height="17.8" fill="#82cda5"/>
<rect x="260.7" y="186.1" width="16" height="17.8" fill="#8bd0a4"/>
<rect x="276.1" y="186.1" width="16" height="17.8" fill="#92d3a4"/>
<rect x="291.4" y="186.1" width="16" height="17.8" fill="#98d6a4"/>
<rect x="306.8" y="186.1" width="16" height="17.8" fill="#9fd8a4"/>
<rect x="322.1" y="186.1" width="16" height="17.8" fill="#a8dca4"/>
<rect x="337.5" y="186.1" width="16" height="17.8" fill="#b1dfa3"/>
<rect x="352.9" y="186.1" width="16" height="17.8" fill="#bae3a1"/>
<rect x="368.2" y="186.1" width="16" height="17.8" fill="#c3e79f"/>
<rect x="383.6" y="186.1" width="16" height="17.8" fill="#cbea9e"/>
<rect x="398.9" y="186.1" width="16" height="17.8" fill="#d1ed9c"/>
<rect x="414.3" y="186.1" width="16" height="17.8" fill="#d8ef9b"/>
<rect x="429.6" y="186.1" width="19" height="17.8" fill="#def29a"/>
<rect x="73.4" y="203.4" width="19" height="17.8" fill="#3683bb"/>
<rect x="91.8" y="203.4" width="16" height="17.8" fill="#3486bc"/>
<rect x="107.1" y="203.4" width="16" height="17.8" fill="#3288bd"/>
<rect x="122.5" y="203.4" width="16" height="17.8" fill="#358bbc"/>
<rect x="137.8" y="203.4" width="16" height="17.8" fill="#3e96b7"/>
<rect x="153.2" y="203.4" width="16" height="17.8" fill="#4ca5b1"/>
<rect x="168.6" y="203.4" width="16" height="17.8" fill="#5ab5aa"/>
<rect x="183.9" y="203.4" width="16" height="17.8" fill="#69c3a5"/>
<rect x="199.3" y="203.4" width="16" height="17.8" fill="#77c8a5"/>
<rect x="214.6" y="203.4" width="16" height="17.8" fill="#82cda5"/>
<rect x="230" y="203.4" width="16" height="17.8" fill="#8dd1a4"/>
<rect x="245.3" y="203.4" width="16" height="17.8" fill="#98d5a4"/>
<rect x="260.7" y="203.4" width="16" height="17.8" fill="#a0d9a4"/>
<rect x="276.1" y="203.4" width="16" height="17.8" fill="#a7dba4"/>
<rect x="291.4" y="203.4" width="16" height="17.8" fill="#addea4"/>
<rect x="306.8" y="203.4" width="16" height="17.8" fill="#b3e0a2"/>
<rect x="322.1" y="203.4" width="16" height="17.8" fill="#bae3a1"/>
<rect x="337.5" y="203.4" width="16" height="17.8" fill="#c2e69f"/>
<rect x="352.9" y="203.4" width="16" height="17.8" fill="#cbea9e"/>
<rect x="368.2" y="203.4" width="16" height="17.8" fill="#d3ed9c"/>
<rect x="383.6" y="203.4" width="16" height="17.8" fill="#daf09a"/>
<rect x="398.9" y="203.4" width="16" height="17.8" fill="#e0f399"/>
<rect x="414.3" y="203.4" width="16" height="17.8" fill="#e6f598"/>
<rect x="429.6" y="203.4" width="19" height="17.8" fill="#e8f69c"/>
<rect x="73.4" y="220.6" width="19" height="17.8" fill="#3f97b7"/>
<rect x="91.8" y="220.6" width="16" height="17.8" fill="#4198b6"/>
<rect x="107.1" y="220.6" width="16" height="17.8" fill="#429ab6"/>
<rect x="122.5" y="220.6" width="16" height="17.8" fill="#449cb5"/>
<rect x="137.8" y="220.6" width="16" height="17.8" fill="#4ea8b0"/>
<rect x="153.2" y="220.6" width="16" height="17.8" fill="#5fbaa8"/>
<rect x="168.6" y="220.6" width="16" height="17.8" fill="#73c7a5"/>
<rect x="183.9" y="220.6" width="16" height="17.8" fill="#8ad0a4"/>
<rect x="199.3" y="220.6" width="16" height="17.8" fill="#97d5a4"/>
<rect x="214.6" y="220.6" width="16" height="17.8" fill="#9fd8a4"/>
<rect x="230" y="220.6" width="16" height="17.8" fill="#a6dba4"/>
<rect x="245.3" y="220.6" width="16" height="17.8" fill="#aedea3"/>
<rect x="260.7" y="220.6" width="16" height="17.8" fill="#b4e1a2"/>
<rect x="276.1" y="220.6" width="16" height="17.8" fill="#bae3a1"/>
<rect x="291.4" y="220.6" width="16" height="17.8" fill="#c0e5a0"/>
<rect x="306.8" y="220.6" width="16" height="17.8" fill="#c5e89f"/>
<rect x="322.1" y="220.6" width="16" height="17.8" fill="#ccea9d"/>
<rect x="337.5" y="220.6" width="16" height="17.8" fill="#d4ee9c"/>
<rect x="352.9" y="220.6" width="16" height="17.8" fill="#dbf19a"/>
<rect x="368.2" y="220.6" width="16" height="17.8" fill="#e3f499"/>
<rect x="383.6" y="220.6" width="16" height="17.8" fill="#e7f69a"/>
<rect x="398.9" y="220.6" width="16" height="17.8" fill="#eaf69e"/>
<rect x="414.3" y="220.6" width="16" height="17.8" fill="#ecf7a1"/>
<rect x="429.6" y="220.6" width="19" height="17.8" fill="#eef8a4"/>
<rect x="73.4" y="237.8" width="19" height="17.8" fill="#55afad"/>
<rect x="91.8" y="237.8" width="16" height="17.8" fill="#56b1ac"/>
<rect x="107.1" y="237.8" width="16" height="17.8" fill="#58b2ab"/>
<rect x="122.5" y="237.8" width="16" height="17.8" fill="#5ab4ab"/>
<rect x="137.8" y="237.8" width="16" height="17.8" fill="#65c1a5"/>
<rect x="153.2" y="237.8" width="16" height="17.8" fill="#7dcba5"/>
<rect x="168.6" y="237.8" width="16" height="17.8" fill="#96d5a4"/>
<rect x="183.9" y="237.8" width="16" height="17.8" fill="#aedea3"/>
<rect x="199.3" y="237.8" width="16" height="17.8" fill="#b8e2a1"/>
<rect x="214.6" y="237.8" width="16" height="17.8" fill="#bde4a0"/>
<rect x="230" y="237.8" width="16" height="17.8" fill="#c2e69f"/>
<rect x="245.3" y="237.8" width="16" height="17.8" fill="#c7e89e"/>
<rect x="260.7" y="237.8" width="16" height="17.8" fill="#ccea9d"/>
<rect x="276.1" y="237.8" width="16" height="17.8" fill="#d2ed9c"/>
<rect x="291.4" y="237.8" width="16" height="17.8" fill="#d7ef9b"/>
<rect x="306.8" y="237.8" width="16" height="17.8" fill="#ddf19a"/>
<rect x="322.1" y="237.8" width="16" height="17.8" fill="#e3f499"/>
<rect x="337.5" y="237.8" width="16" height="17.8" fill="#e8f69b"/>
<rect x="352.9" y="237.8" width="16" height="17.8" fill="#eaf79f"/>
<rect x="368.2" y="237.8" width="16" height="17.8" fill="#edf8a3"/>
<rect x="383.6" y="237.8" width="16" height="17.8" fill="#f0f9a7"/>
<rect x="398.9" y="237.8" width="16" height="17.8" fill="#f2faaa"/>
<rect x="414.3" y="237.8" width="16" height="17.8" fill="#f4fbad"/>
<rect x="429.6" y="237.8" width="19" height="17.8" fill="#f6fbb1"/>
<rect x="73.4" y="255.1" width="19" height="17.8" fill="#6bc4a5"/>
<rect x="91.8" y="255.1" width="16" height="17.8" fill="#6ec5a5"/>
<rect x="107.1" y="255.1" width="16" height="17.8" fill="#72c7a5"/>
<rect x="122.5" y="255.1" width="16" height="17.8" fill="#75c8a5"/>
<rect x="137.8" y="255.1" width="16" height="17.8" fill="#85cea5"/>
<rect x="153.2" y="255.1" width="16" height="17.8" fill="#9ed8a4"/>
<rect x="168.6" y="255.1" width="16" height="17.8" fill="#b5e1a2"/>
<rect x="183.9" y="255.1" width="16" height="17.8" fill="#caea9e"/>
<rect x="199.3" y="255.1" width="16" height="17.8" fill="#d4ee9c"/>
<rect x="214.6" y="255.1" width="16" height="17.8" fill="#d9f09b"/>
<rect x="230" y="255.1" width="16" height="17.8" fill="#def29a"/>
<rect x="245.3" y="255.1" width="16" height="17.8" fill="#e3f499"/>
<rect x="260.7" y="255.1" width="16" height="17.8" fill="#e7f59a"/>
<rect x="276.1" y="255.1" width="16" height="17.8" fill="#e9f69d"/>
<rect x="291.4" y="255.1" width="16" height="17.8" fill="#ecf7a1"/>
<rect x="306.8" y="255.1" width="16" height="17.8" fill="#eef8a5"/>
<rect x="322.1" y="255.1" width="16" height="17.8" fill="#f1f9a9"/>
<rect x="337.5" y="255.1" width="16" height="17.8" fill="#f3faad"/>
<rect x="352.9" y="255.1" width="16" height="17.8" fill="#f6fbb1"/>
<rect x="368.2" y="255.1" width="16" height="17.8" fill="#f8fcb5"/>
<rect x="383.6" y="255.1" width="16" height="17.8" fill="#fbfdb8"/>
<rect x="398.9" y="255.1" width="16" height="17.8" fill="#fcfebb"/>
<rect x="414.3" y="255.1" width="16" height="17.8" fill="#feffbe"/>
<rect x="429.6" y="255.1" width="19" height="17.8" fill="#fffebd"/>
<rect x="73.4" y="272.3" width="19" height="17.8" fill="#84cea5"/>
<rect x="91.8" y="272.3" width="16" height="17.8" fill="#8bd0a4"/>
<rect x="107.1" y="272.3" width="16" height="17.8" fill="#92d3a4"/>
<rect x="122.5" y="272.3" width="16" height="17.8" fill="#99d6a4"/>
<rect x="137.8" y="272.3" width="16" height="17.8" fill="#a7dca4"/>
<rect x="153.2" y="272.3" width="16" height="17.8" fill="#bae3a1"/>
<rect x="168.6" y="272.3" width="16" height="17.8" fill="#cdeb9d"/>
<rect x="183.9" y="272.3" width="16" height="17.8" fill="#e0f299"/>
<rect x="199.3" y="272.3" width="16" height="17.8" fill="#e9f69c"/>
<rect x="214.6" y="272.3" width="16" height="17.8" fill="#ecf7a1"/>
<rect x="230" y="272.3" width="16" height="17.8" fill="#eff9a7"/>
<rect x="245.3" y="272.3" width="16" height="17.8" fill="#f3faac"/>
<rect x="260.7" y="272.3" width="16" height="17.8" fill="#f6fbb1"/>
<rect x="276.1" y="272.3" width="16" height="17.8" fill="#f9fdb6"/>
<rect x="291.4" y="272.3" width="16" height="17.8" fill="#fcfeba"/>
<rect x="306.8" y="272.3" width="16" height="17.8" fill="#feffbe"/>
<rect x="322.1" y="272.3" width="16" height="17.8" fill="#fffdbb"/>
<rect x="337.5" y="272.3" width="16" height="17.8" fill="#fffab7"/>
<rect x="352.9" y="272.3" width="16" height="17.8" fill="#fff8b4"/>
<rect x="368.2" y="272.3" width="16" height="17.8" fill="#fff6b0"/>
<rect x="383.6" y="272.3" width="16" height="17.8" fill="#fff4ad"/>
<rect x="398.9" y="272.3" width="16" height="17.8" fill="#fff3ab"/>
<rect x="414.3" y="272.3" width="16" height="17.8" fill="#fff2a9"/>
<rect x="429.6" y="272.3" width="19" height="17.8" fill="#fff0a6"/>
<rect x="73.4" y="289.6" width="19" height="17.8" fill="#8ed2a4"/>
<rect x="91.8" y="289.6" width="16" height="17.8" fill="#9bd7a4"/>
<rect x="107.1" y="289.6" width="16" height="17.8" fill="#a9dca4"/>
<rect x="122.5" y="289.6" width="16" height="17.8" fill="#b5e1a2"/>
<rect x="137.8" y="289.6" width="16" height="17.8" fill="#c0e6a0"/>
<rect x="153.2" y="289.6" width="16" height="17.8" fill="#d1ec9c"/>
<rect x="168.6" y="289.6" width="16" height="17.8" fill="#e1f399"/>
<rect x="183.9" y="289.6" width="16" height="17.8" fill="#ebf7a0"/>
<rect x="199.3" y="289.6" width="16" height="17.8" fill="#f2faaa"/>
<rect x="214.6" y="289.6" width="16" height="17.8" fill="#f6fbb1"/>
<rect x="230" y="289.6" width="16" height="17.8" fill="#fbfdb8"/>
<rect x="245.3" y="289.6" width="16" height="17.8" fill="#ffffbf"/>
<rect x="260.7" y="289.6" width="16" height="17.8" fill="#fffab6"/>
<rect x="276.1" y="289.6" width="16" height="17.8" fill="#fff6b0"/>
<rect x="291.4" y="289.6" width="16" height="17.8" fill="#fff2a9"/>
<rect x="306.8" y="289.6" width="16" height="17.8" fill="#feeea2"/>
<rect x="322.1" y="289.6" width="16" height="17.8" fill="#feea9c"/>
<rect x="337.5" y="289.6" width="16" height="17.8" fill="#fee99b"/>
<rect x="352.9" y="289.6" width="16" height="17.8" fill="#fee999"/>
<rect x="368.2" y="289.6" width="16" height="17.8" fill="#fee898"/>
<rect x="383.6" y="289.6" width="46.7" height="17.8" fill="#fee797"/>
<rect x="429.6" y="289.6" width="19" height="17.8" fill="#fee796"/>
<rect x="73.4" y="306.8" width="19" height="17.8" fill="#bae3a1"/>
<rect x="91.8" y="306.8" width="16" height="17.8" fill="#c6e89f"/>
<rect x="107.1" y="306.8" width="16" height="17.8" fill="#d2ed9c"/>
<rect x="122.5" y="306.8" width="16" height="17.8" fill="#ddf19a"/>
<rect x="137.8" y="306.8" width="16" height="17.8" fill="#e7f59a"/>
<rect x="153.2" y="306.8" width="16" height="17.8" fill="#edf8a2"/>
<rect x="168.6" y="306.8" width="16" height="17.8" fill="#f2faab"/>
<rect x="183.9" y="306.8" width="16" height="17.8" fill="#f8fcb3"/>
<rect x="199.3" y="306.8" width="16" height="17.8" fill="#fdfebc"/>
<rect x="214.6" y="306.8" width="16" height="17.8" fill="#fffcb9"/>
<rect x="230" y="306.8" width="16" height="17.8" fill="#fff6af"/>
<rect x="245.3" y="306.8" width="16" height="17.8" fill="#fff0a5"/>
<rect x="260.7" y="306.8" width="16" height="17.8" fill="#feea9b"/>
<rect x="276.1" y="306.8" width="16" height="17.8" fill="#fee694"/>
<rect x="291.4" y="306.8" width="16" height="17.8" fill="#fee28e"/>
<rect x="306.8" y="306.8" width="16" height="17.8" fill="#fedd88"/>
<rect x="322.1" y="306.8" width="31.3" height="17.8" fill="#fed683"/>
<rect x="352.9" y="306.8" width="31.3" height="17.8" fill="#fed682"/>
<rect x="383.6" y="306.8" width="65" height="17.8" fill="#fed582"/>
<rect x="73.4" y="324" width="19" height="17.8" fill="#dcf19a"/>
<rect x="91.8" y="324" width="16" height="17.8" fill="#e7f599"/>
<rect x="107.1" y="324" width="16" height="17.8" fill="#ecf7a1"/>
<rect x="122.5" y="324" width="16" height="17.8" fill="#f0f9a8"/>
<rect x="137.8" y="324" width="16" height="17.8" fill="#f5fbb0"/>
<rect x="153.2" y="324" width="16" height="17.8" fill="#fbfeb9"/>
<rect x="168.6" y="324" width="16" height="17.8" fill="#fffcba"/>
<rect x="183.9" y="324" width="16" height="17.8" fill="#fff5ae"/>
<rect x="199.3" y="324" width="16" height="17.8" fill="#feeda1"/>
<rect x="214.6" y="324" width="16" height="17.8" fill="#fee898"/>
<rect x="230" y="324" width="16" height="17.8" fill="#fee28e"/>
<rect x="245.3" y="324" width="16" height="17.8" fill="#feda86"/>
<rect x="260.7" y="324" width="16" height="17.8" fill="#fed17f"/>
<rect x="276.1" y="324" width="16" height="17.8" fill="#fecc7a"/>
<rect x="291.4" y="324" width="16" height="17.8" fill="#fdc676"/>
<rect x="306.8" y="324" width="16" height="17.8" fill="#fdc171"/>
<rect x="322.1" y="324" width="16" height="17.8" fill="#fdbc6c"/>
<rect x="337.5" y="324" width="16" height="17.8" fill="#fdbd6d"/>
<rect x="352.9" y="324" width="16" height="17.8" fill="#fdbd6e"/>
<rect x="368.2" y="324" width="16" height="17.8" fill="#fdbe6f"/>
<rect x="383.6" y="324" width="16" height="17.8" fill="#fdbf6f"/>
<rect x="398.9" y="324" width="16" height="17.8" fill="#fdc070"/>
<rect x="414.3" y="324" width="16" height="17.8" fill="#fdc171"/>
<rect x="429.6" y="324" width="19" height="17.8" fill="#fdc272"/>
<rect x="73.4" y="341.3" width="19" height="17.8" fill="#f2faab"/>
<rect x="91.8" y="341.3" width="16" height="17.8" fill="#f7fcb2"/>
<rect x="107.1" y="341.3" width="16" height="17.8" fill="#fbfdb9"/>
<rect x="122.5" y="341.3" width="16" height="17.8" fill="#fffebe"/>
<rect x="137.8" y="341.3" width="16" height="17.8" fill="#fff8b4"/>
<rect x="153.2" y="341.3" width="16" height="17.8" fill="#fff1a7"/>
<rect x="168.6" y="341.3" width="16" height="17.8" fill="#fee99a"/>
<rect x="183.9" y="341.3" width="16" height="17.8" fill="#fee18c"/>
<rect x="199.3" y="341.3" width="16" height="17.8" fill="#fed582"/>
<rect x="214.6" y="341.3" width="16" height="17.8" fill="#fecc7a"/>
<rect x="230" y="341.3" width="16" height="17.8" fill="#fdc373"/>
<rect x="245.3" y="341.3" width="16" height="17.8" fill="#fdbb6c"/>
<rect x="260.7" y="341.3" width="16" height="17.8" fill="#fdb265"/>
<rect x="276.1" y="341.3" width="16" height="17.8" fill="#fdaf62"/>
<rect x="291.4" y="341.3" width="16" height="17.8" fill="#fdac60"/>
<rect x="306.8" y="341.3" width="16" height="17.8" fill="#fca95e"/>
<rect x="322.1" y="341.3" width="16" height="17.8" fill="#fca55d"/>
<rect x="337.5" y="341.3" width="16" height="17.8" fill="#fca75e"/>
<rect x="352.9" y="341.3" width="16" height="17.8" fill="#fca85e"/>
<rect x="368.2" y="341.3" width="16" height="17.8" fill="#fcaa5f"/>
<rect x="383.6" y="341.3" width="16" height="17.8" fill="#fdab60"/>
<rect x="398.9" y="341.3" width="16" height="17.8" fill="#fdad61"/>
<rect x="414.3" y="341.3" width="16" height="17.8" fill="#fdaf62"/>
<rect x="429.6" y="341.3" width="19" height="17.8" fill="#fdb163"/>
<rect x="73.4" y="358.5" width="19" height="17.8" fill="#fffbb8"/>
<rect x="91.8" y="358.5" width="16" height="17.8" fill="#fff5af"/>
<rect x="107.1" y="358.5" width="16" height="17.8" fill="#fff0a6"/>
<rect x="122.5" y="358.5" width="16" height="17.8" fill="#feeb9d"/>
<rect x="137.8" y="358.5" width="16" height="17.8" fill="#fee594"/>
<rect x="153.2" y="358.5" width="16" height="17.8" fill="#fedc88"/>
<rect x="168.6" y="358.5" width="16" height="17.8" fill="#fecf7d"/>
<rect x="183.9" y="358.5" width="16" height="17.8" fill="#fdc272"/>
<rect x="199.3" y="358.5" width="16" height="17.8" fill="#fdb668"/>
<rect x="214.6" y="358.5" width="16" height="17.8" fill="#fdae61"/>
<rect x="230" y="358.5" width="16" height="17.8" fill="#fca55d"/>
<rect x="245.3" y="358.5" width="16" height="17.8" fill="#fa9b58"/>
<rect x="260.7" y="358.5" width="77.4" height="17.8" fill="#f99154"/>
<rect x="337.5" y="358.5" width="16" height="17.8" fill="#f99354"/>
<rect x="352.9" y="358.5" width="16" height="17.8" fill="#f99455"/>
<rect x="368.2" y="358.5" width="16" height="17.8" fill="#fa9656"/>
<rect x="383.6" y="358.5" width="16" height="17.8" fill="#fa9857"/>
<rect x="398.9" y="358.5" width="16" height="17.8" fill="#fa9958"/>
<rect x="414.3" y="358.5" width="16" height="17.8" fill="#fa9b58"/>
<rect x="429.6" y="358.5" width="19" height="17.8" fill="#fb9d59"/>
<rect x="73.4" y="375.8" width="19" height="17.8" fill="#feea9b"/>
<rect x="91.8" y="375.8" width="16" height="17.8" fill="#fee492"/>
<rect x="107.1" y="375.8" width="16" height="17.8" fill="#fede8a"/>
<rect x="122.5" y="375.8" width="16" height="17.8" fill="#fed682"/>
<rect x="137.8" y="375.8" width="16" height="17.8" fill="#fecd7b"/>
<rect x="153.2" y="375.8" width="16" height="17.8" fill="#fdc171"/>
<rect x="168.6" y="375.8" width="16" height="17.8" fill="#fdb466"/>
<rect x="183.9" y="375.8" width="16" height="17.8" fill="#fca55d"/>
<rect x="199.3" y="375.8" width="16" height="17.8" fill="#f99555"/>
<rect x="214.6" y="375.8" width="16" height="17.8" fill="#f98e52"/>
<rect x="230" y="375.8" width="16" height="17.8" fill="#f8874f"/>
<rect x="245.3" y="375.8" width="16" height="17.8" fill="#f7804c"/>
<rect x="260.7" y="375.8" width="16" height="17.8" fill="#f67949"/>
<rect x="276.1" y="375.8" width="16" height="17.8" fill="#f67b49"/>
<rect x="291.4" y="375.8" width="16" height="17.8" fill="#f67c4a"/>
<rect x="306.8" y="375.8" width="16" height="17.8" fill="#f67e4b"/>
<rect x="322.1" y="375.8" width="16" height="17.8" fill="#f7804c"/>
<rect x="337.5" y="375.8" width="16" height="17.8" fill="#f7814c"/>
<rect x="352.9" y="375.8" width="16" height="17.8" fill="#f7834d"/>
<rect x="368.2" y="375.8" width="16" height="17.8" fill="#f7854e"/>
<rect x="383.6" y="375.8" width="16" height="17.8" fill="#f7864f"/>
<rect x="398.9" y="375.8" width="16" height="17.8" fill="#f88850"/>
<rect x="414.3" y="375.8" width="16" height="17.8" fill="#f88a50"/>
<rect x="429.6" y="375.8" width="19" height="17.8" fill="#f88c51"/>
<rect x="73.4" y="393" width="19" height="17.8" fill="#fed985"/>
<rect x="91.8" y="393" width="16" height="17.8" fill="#fed17f"/>
<rect x="107.1" y="393" width="16" height="17.8" fill="#fec978"/>
<rect x="122.5" y="393" width="16" height="17.8" fill="#fdc171"/>
<rect x="137.8" y="393" width="16" height="17.8" fill="#fdb86a"/>
<rect x="153.2" y="393" width="16" height="17.8" fill="#fdab60"/>
<rect x="168.6" y="393" width="16" height="17.8" fill="#fa9b58"/>
<rect x="183.9" y="393" width="16" height="17.8" fill="#f88b51"/>
<rect x="199.3" y="393" width="16" height="17.8" fill="#f67b4a"/>
<rect x="214.6" y="393" width="16" height="17.8" fill="#f57647"/>
<rect x="230" y="393" width="16" height="17.8" fill="#f57145"/>
<rect x="245.3" y="393" width="16" height="17.8" fill="#f36c43"/>
<rect x="260.7" y="393" width="16" height="17.8" fill="#f16844"/>
<rect x="276.1" y="393" width="16" height="17.8" fill="#f16944"/>
<rect x="291.4" y="393" width="16" height="17.8" fill="#f26a44"/>
<rect x="306.8" y="393" width="16" height="17.8" fill="#f36c43"/>
<rect x="322.1" y="393" width="16" height="17.8" fill="#f46d43"/>
<rect x="337.5" y="393" width="16" height="17.8" fill="#f46e44"/>
<rect x="352.9" y="393" width="16" height="17.8" fill="#f47044"/>
<rect x="368.2" y="393" width="16" height="17.8" fill="#f57245"/>
<rect x="383.6" y="393" width="16" height="17.8" fill="#f57346"/>
<rect x="398.9" y="393" width="16" height="17.8" fill="#f57547"/>
<rect x="414.3" y="393" width="16" height="17.8" fill="#f57748"/>
<rect x="429.6" y="393" width="19" height="17.8" fill="#f67949"/>
<rect x="73.4" y="410.2" width="19" height="17.8" fill="#fdc473"/>
<rect x="91.8" y="410.2" width="16" height="17.8" fill="#fdbd6d"/>
<rect x="107.1" y="410.2" width="16" height="17.8" fill="#fdb567"/>
<rect x="122.5" y="410.2" width="16" height="17.8" fill="#fdae61"/>
<rect x="137.8" y="410.2" width="16" height="17.8" fill="#fca45c"/>
<rect x="153.2" y="410.2" width="16" height="17.8" fill="#fa9556"/>
<rect x="168.6" y="410.2" width="16" height="17.8" fill="#f8874f"/>
<rect x="183.9" y="410.2" width="16" height="17.8" fill="#f57848"/>
<rect x="199.3" y="410.2" width="16" height="17.8" fill="#f26a44"/>
<rect x="214.6" y="410.2" width="16" height="17.8" fill="#ef6545"/>
<rect x="230" y="410.2" width="16" height="17.8" fill="#ec6046"/>
<rect x="245.3" y="410.2" width="16" height="17.8" fill="#e95c47"/>
<rect x="260.7" y="410.2" width="16" height="17.8" fill="#e55749"/>
<rect x="276.1" y="410.2" width="16" height="17.8" fill="#e65848"/>
<rect x="291.4" y="410.2" width="16" height="17.8" fill="#e75948"/>
<rect x="306.8" y="410.2" width="16" height="17.8" fill="#e85b48"/>
<rect x="322.1" y="410.2" width="16" height="17.8" fill="#e95c47"/>
<rect x="337.5" y="410.2" width="16" height="17.8" fill="#ea5d47"/>
<rect x="352.9" y="410.2" width="16" height="17.8" fill="#eb5f47"/>
<rect x="368.2" y="410.2" width="16" height="17.8" fill="#ec6046"/>
<rect x="383.6" y="410.2" width="16" height="17.8" fill="#ec6146"/>
<rect x="398.9" y="410.2" width="16" height="17.8" fill="#ed6346"/>
<rect x="414.3" y="410.2" width="16" height="17.8" fill="#ee6445"/>
<rect x="429.6" y="410.2" width="19" height="17.8" fill="#ef6645"/>
<rect x="73.4" y="427.5" width="19" height="17.8" fill="#fdb265"/>
<rect x="91.8" y="427.5" width="16" height="17.8" fill="#fcaa5f"/>
<rect x="107.1" y="427.5" width="16" height="17.8" fill="#fba15b"/>
<rect x="122.5" y="427.5" width="16" height="17.8" fill="#fa9756"/>
<rect x="137.8" y="427.5" width="16" height="17.8" fill="#f88d52"/>
<rect x="153.2" y="427.5" width="16" height="17.8" fill="#f67f4b"/>
<rect x="168.6" y="427.5" width="16" height="17.8" fill="#f46f44"/>
<rect x="183.9" y="427.5" width="16" height="17.8" fill="#ee6445"/>
<rect x="199.3" y="427.5" width="16" height="17.8" fill="#e75948"/>
<rect x="214.6" y="427.5" width="16" height="17.8" fill="#e3534a"/>
<rect x="230" y="427.5" width="16" height="17.8" fill="#df4e4b"/>
<rect x="245.3" y="427.5" width="16" height="17.8" fill="#db484d"/>
<rect x="260.7" y="427.5" width="16" height="17.8" fill="#d8424e"/>
<rect x="276.1" y="427.5" width="16" height="17.8" fill="#d9444d"/>
<rect x="291.4" y="427.5" width="16" height="17.8" fill="#db474d"/>
<rect x="306.8" y="427.5" width="16" height="17.8" fill="#dc494c"/>
<rect x="322.1" y="427.5" width="16" height="17.8" fill="#de4c4c"/>
<rect x="337.5" y="427.5" width="16" height="17.8" fill="#df4e4b"/>
<rect x="352.9" y="427.5" width="16" height="17.8" fill="#e1504a"/>
<rect x="368.2" y="427.5" width="16" height="17.8" fill="#e3524a"/>
<rect x="383.6" y="427.5" width="16" height="17.8" fill="#e45549"/>
<rect x="398.9" y="427.5" width="16" height="17.8" fill="#e55649"/>
<rect x="414.3" y="427.5" width="16" height="17.8" fill="#e65848"/>
<rect x="429.6" y="427.5" width="19" height="17.8" fill="#e75948"/>
<rect x="73.4" y="444.7" width="19" height="17.8" fill="#fba25c"/>
<rect x="91.8" y="444.7" width="16" height="17.8" fill="#fa9957"/>
<rect x="107.1" y="444.7" width="16" height="17.8" fill="#f98f53"/>
<rect x="122.5" y="444.7" width="16" height="17.8" fill="#f7864e"/>
<rect x="137.8" y="444.7" width="16" height="17.8" fill="#f67c4a"/>
<rect x="153.2" y="444.7" width="16" height="17.8" fill="#f36b43"/>
<rect x="168.6" y="444.7" width="16" height="17.8" fill="#ea5e47"/>
<rect x="183.9" y="444.7" width="16" height="17.8" fill="#e2514a"/>
<rect x="199.3" y="444.7" width="16" height="17.8" fill="#d9444d"/>
<rect x="214.6" y="444.7" width="16" height="17.8" fill="#d53e4f"/>
<rect x="230" y="444.7" width="16" height="17.8" fill="#cf374e"/>
<rect x="245.3" y="444.7" width="16" height="17.8" fill="#c8304c"/>
<rect x="260.7" y="444.7" width="16" height="17.8" fill="#c1284a"/>
<rect x="276.1" y="444.7" width="16" height="17.8" fill="#c62e4c"/>
<rect x="291.4" y="444.7" width="16" height="17.8" fill="#cc344d"/>
<rect x="306.8" y="444.7" width="16" height="17.8" fill="#d1394e"/>
<rect x="322.1" y="444.7" width="16" height="17.8" fill="#d63f4f"/>
<rect x="337.5" y="444.7" width="16" height="17.8" fill="#d7404e"/>
<rect x="352.9" y="444.7" width="16" height="17.8" fill="#d7424e"/>
<rect x="368.2" y="444.7" width="16" height="17.8" fill="#d8434e"/>
<rect x="383.6" y="444.7" width="16" height="17.8" fill="#d9444d"/>
<rect x="398.9" y="444.7" width="16" height="17.8" fill="#db474d"/>
<rect x="414.3" y="444.7" width="16" height="17.8" fill="#dd4a4c"/>
<rect x="429.6" y="444.7" width="19" height="17.8" fill="#de4c4b"/>
<rect x="73.4" y="462" width="19" height="20.8" fill="#f99154"/>
<rect x="91.8" y="462" width="16" height="20.8" fill="#f88950"/>
<rect x="107.1" y="462" width="16" height="20.8" fill="#f7814c"/>
<rect x="122.5" y="462" width="16" height="20.8" fill="#f67848"/>
<rect x="137.8" y="462" width="16" height="20.8" fill="#f47044"/>
<rect x="153.2" y="462" width="16" height="20.8" fill="#ec6046"/>
<rect x="168.6" y="462" width="16" height="20.8" fill="#e2514a"/>
<rect x="183.9" y="462" width="16" height="20.8" fill="#d8424e"/>
<rect x="199.3" y="462" width="16" height="20.8" fill="#c8304c"/>
<rect x="214.6" y="462" width="16" height="20.8" fill="#c32a4b"/>
<rect x="230" y="462" width="16" height="20.8" fill="#bd2349"/>
<rect x="245.3" y="462" width="16" height="20.8" fill="#b71d48"/>
<rect x="260.7" y="462" width="16" height="20.8" fill="#b21747"/>
<rect x="276.1" y="462" width="16" height="20.8" fill="#b71d48"/>
<rect x="291.4" y="462" width="16" height="20.8" fill="#bc2349"/>
<rect x="306.8" y="462" width="16" height="20.8" fill="#c2294b"/>
<rect x="322.1" y="462" width="16" height="20.8" fill="#c82f4c"/>
<rect x="337.5" y="462" width="16" height="20.8" fill="#ca324c"/>
<rect x="352.9" y="462" width="16" height="20.8" fill="#cd354d"/>
<rect x="368.2" y="462" width="16" height="20.8" fill="#cf374e"/>
<rect x="383.6" y="462" width="16" height="20.8" fill="#d23a4e"/>
<rect x="398.9" y="462" width="16" height="20.8" fill="#d53e4f"/>
<rect x="414.3" y="462" width="16" height="20.8" fill="#d7414e"/>
<rect x="429.6" y="462" width="19" height="20.8" fill="#d9444e"/>
</g>
<use href="#ov"/>
<rect x="454.6" y="48.6" width="18" height="430.4" fill="url(#cb)" stroke="#333" stroke-width="1"/>
<text class="b" x="479.8" y="107.6">8</text>
<text class="b" x="479.8" y="173.4">6</text>
<text class="b" x="479.8" y="239.2">4</text>
<text class="b" x="479.8" y="305.0">2</text>
<text class="b" x="479.8" y="370.8">0</text>
<text class="b" x="479.8" y="436.6">-2</text>
<path d="M472.6 100.8h-3.5M472.6 166.6h-3.5M472.6 232.4h-3.5M472.6 298.2h-3.5M472.6 364.0h-3.5M472.6 429.8h-3.5" stroke="#222" stroke-width="1.2" fill="none"/>
<text class="b" x="463.9" y="36.8" text-anchor="middle">cm</text>
<text class="L" x="433.6" y="85.2" text-anchor="end">(b)</text>
</g>
<g transform="translate(1003.8 0)">
<g filter="url(#bl)" clip-path="url(#pc)">
<rect x="73.4" y="45.2" width="374.6" height="437" fill="#d2ed9c"/>
<rect x="73.4" y="45.2" width="19" height="20.8" fill="#3485bb"/>
<rect x="91.8" y="45.2" width="16" height="20.8" fill="#3b7cb7"/>
<rect x="107.1" y="45.2" width="16" height="20.8" fill="#4273b3"/>
<rect x="122.5" y="45.2" width="16" height="20.8" fill="#496aaf"/>
<rect x="137.8" y="45.2" width="16" height="20.8" fill="#5061aa"/>
<rect x="153.2" y="45.2" width="62" height="20.8" fill="#535da8"/>
<rect x="214.6" y="45.2" width="16" height="20.8" fill="#535da9"/>
<rect x="230" y="45.2" width="16" height="20.8" fill="#5061ab"/>
<rect x="245.3" y="45.2" width="16" height="20.8" fill="#4d65ac"/>
<rect x="260.7" y="45.2" width="16" height="20.8" fill="#4a69ae"/>
<rect x="276.1" y="45.2" width="16" height="20.8" fill="#4371b2"/>
<rect x="291.4" y="45.2" width="16" height="20.8" fill="#3d7ab6"/>
<rect x="306.8" y="45.2" width="16" height="20.8" fill="#3683ba"/>
<rect x="322.1" y="45.2" width="16" height="20.8" fill="#358bbc"/>
<rect x="337.5" y="45.2" width="16" height="20.8" fill="#3d94b8"/>
<rect x="352.9" y="45.2" width="16" height="20.8" fill="#4ba4b1"/>
<rect x="368.2" y="45.2" width="16" height="20.8" fill="#59b3ab"/>
<rect x="383.6" y="45.2" width="16" height="20.8" fill="#67c2a5"/>
<rect x="398.9" y="45.2" width="16" height="20.8" fill="#79c9a5"/>
<rect x="414.3" y="45.2" width="16" height="20.8" fill="#8bd0a4"/>
<rect x="429.6" y="45.2" width="19" height="20.8" fill="#9dd8a4"/>
<rect x="73.4" y="65.4" width="19" height="17.8" fill="#3880b9"/>
<rect x="91.8" y="65.4" width="16" height="17.8" fill="#4076b4"/>
<rect x="107.1" y="65.4" width="16" height="17.8" fill="#486cb0"/>
<rect x="122.5" y="65.4" width="16" height="17.8" fill="#5061ab"/>
<rect x="137.8" y="65.4" width="16" height="17.8" fill="#5857a6"/>
<rect x="153.2" y="65.4" width="62" height="17.8" fill="#5b53a4"/>
<rect x="214.6" y="65.4" width="16" height="17.8" fill="#5a54a4"/>
<rect x="230" y="65.4" width="16" height="17.8" fill="#5758a6"/>
<rect x="245.3" y="65.4" width="16" height="17.8" fill="#535da9"/>
<rect x="260.7" y="65.4" width="16" height="17.8" fill="#4f62ab"/>
<rect x="276.1" y="65.4" width="16" height="17.8" fill="#486cb0"/>
<rect x="291.4" y="65.4" width="16" height="17.8" fill="#4076b4"/>
<rect x="306.8" y="65.4" width="16" height="17.8" fill="#3880b9"/>
<rect x="322.1" y="65.4" width="16" height="17.8" fill="#348abc"/>
<rect x="337.5" y="65.4" width="16" height="17.8" fill="#3d94b8"/>
<rect x="352.9" y="65.4" width="16" height="17.8" fill="#4ba4b1"/>
<rect x="368.2" y="65.4" width="16" height="17.8" fill="#59b3ab"/>
<rect x="383.6" y="65.4" width="16" height="17.8" fill="#67c2a5"/>
<rect x="398.9" y="65.4" width="16" height="17.8" fill="#79c9a5"/>
<rect x="414.3" y="65.4" width="16" height="17.8" fill="#8bd0a4"/>
<rect x="429.6" y="65.4" width="19" height="17.8" fill="#9dd8a4"/>
<rect x="73.4" y="82.7" width="19" height="17.8" fill="#3c7cb7"/>
<rect x="91.8" y="82.7" width="16" height="17.8" fill="#4372b2"/>
<rect x="107.1" y="82.7" width="16" height="17.8" fill="#4b67ae"/>
<rect x="122.5" y="82.7" width="16" height="17.8" fill="#535da9"/>
<rect x="137.8" y="82.7" width="16" height="17.8" fill="#5b53a4"/>
<rect x="153.2" y="82.7" width="62" height="17.8" fill="#5e4fa2"/>
<rect x="214.6" y="82.7" width="16" height="17.8" fill="#5e50a2"/>
<rect x="230" y="82.7" width="16" height="17.8" fill="#5b54a4"/>
<rect x="245.3" y="82.7" width="16" height="17.8" fill="#5757a6"/>
<rect x="260.7" y="82.7" width="16" height="17.8" fill="#545ba8"/>
<rect x="276.1" y="82.7" width="16" height="17.8" fill="#4b67ad"/>
<rect x="291.4" y="82.7" width="16" height="17.8" fill="#4273b3"/>
<rect x="306.8" y="82.7" width="16" height="17.8" fill="#397fb9"/>
<rect x="322.1" y="82.7" width="16" height="17.8" fill="#358cbc"/>
<rect x="337.5" y="82.7" width="16" height="17.8" fill="#4098b6"/>
<rect x="352.9" y="82.7" width="16" height="17.8" fill="#4ea7b0"/>
<rect x="368.2" y="82.7" width="16" height="17.8" fill="#5cb7aa"/>
<rect x="383.6" y="82.7" width="16" height="17.8" fill="#6bc4a5"/>
<rect x="398.9" y="82.7" width="16" height="17.8" fill="#7dcba5"/>
<rect x="414.3" y="82.7" width="16" height="17.8" fill="#90d3a4"/>
<rect x="429.6" y="82.7" width="19" height="17.8" fill="#a3daa4"/>
<rect x="73.4" y="99.9" width="19" height="17.8" fill="#3b7cb7"/>
<rect x="91.8" y="99.9" width="16" height="17.8" fill="#4372b3"/>
<rect x="107.1" y="99.9" width="16" height="17.8" fill="#4b68ae"/>
<rect x="122.5" y="99.9" width="16" height="17.8" fill="#535ea9"/>
<rect x="137.8" y="99.9" width="16" height="17.8" fill="#5b53a4"/>
<rect x="153.2" y="99.9" width="62" height="17.8" fill="#5e4fa2"/>
<rect x="214.6" y="99.9" width="16" height="17.8" fill="#5e50a2"/>
<rect x="230" y="99.9" width="16" height="17.8" fill="#5a54a4"/>
<rect x="245.3" y="99.9" width="16" height="17.8" fill="#5758a6"/>
<rect x="260.7" y="99.9" width="16" height="17.8" fill="#545ba8"/>
<rect x="276.1" y="99.9" width="16" height="17.8" fill="#4b68ae"/>
<rect x="291.4" y="99.9" width="16" height="17.8" fill="#4075b4"/>
<rect x="306.8" y="99.9" width="16" height="17.8" fill="#3682ba"/>
<rect x="322.1" y="99.9" width="16" height="17.8" fill="#3990ba"/>
<rect x="337.5" y="99.9" width="16" height="17.8" fill="#459db4"/>
<rect x="352.9" y="99.9" width="16" height="17.8" fill="#53adae"/>
<rect x="368.2" y="99.9" width="16" height="17.8" fill="#61bca8"/>
<rect x="383.6" y="99.9" width="16" height="17.8" fill="#71c6a5"/>
<rect x="398.9" y="99.9" width="16" height="17.8" fill="#84cea5"/>
<rect x="414.3" y="99.9" width="16" height="17.8" fill="#98d5a4"/>
<rect x="429.6" y="99.9" width="19" height="17.8" fill="#acdda4"/>
<rect x="73.4" y="117.2" width="19" height="17.8" fill="#3a7eb8"/>
<rect x="91.8" y="117.2" width="16" height="17.8" fill="#4273b3"/>
<rect x="107.1" y="117.2" width="16" height="17.8" fill="#4a69ae"/>
<rect x="122.5" y="117.2" width="16" height="17.8" fill="#525ea9"/>
<rect x="137.8" y="117.2" width="16" height="17.8" fill="#5b54a4"/>
<rect x="153.2" y="117.2" width="62" height="17.8" fill="#5e4fa2"/>
<rect x="214.6" y="117.2" width="16" height="17.8" fill="#5e50a2"/>
<rect x="230" y="117.2" width="16" height="17.8" fill="#5a54a4"/>
<rect x="245.3" y="117.2" width="16" height="17.8" fill="#5759a7"/>
<rect x="260.7" y="117.2" width="16" height="17.8" fill="#535da9"/>
<rect x="276.1" y="117.2" width="16" height="17.8" fill="#496baf"/>
<rect x="291.4" y="117.2" width="16" height="17.8" fill="#3e79b6"/>
<rect x="306.8" y="117.2" width="16" height="17.8" fill="#3387bc"/>
<rect x="322.1" y="117.2" width="16" height="17.8" fill="#3d95b8"/>
<rect x="337.5" y="117.2" width="16" height="17.8" fill="#4aa3b2"/>
<rect x="352.9" y="117.2" width="16" height="17.8" fill="#58b2ab"/>
<rect x="368.2" y="117.2" width="16" height="17.8" fill="#66c2a5"/>
<rect x="383.6" y="117.2" width="16" height="17.8" fill="#78c9a5"/>
<rect x="398.9" y="117.2" width="16" height="17.8" fill="#8bd1a4"/>
<rect x="414.3" y="117.2" width="16" height="17.8" fill="#a1d9a4"/>
<rect x="429.6" y="117.2" width="19" height="17.8" fill="#b4e1a2"/>
<rect x="73.4" y="134.4" width="19" height="17.8" fill="#3880b9"/>
<rect x="91.8" y="134.4" width="16" height="17.8" fill="#4175b4"/>
<rect x="107.1" y="134.4" width="16" height="17.8" fill="#496aaf"/>
<rect x="122.5" y="134.4" width="16" height="17.8" fill="#525fa9"/>
<rect x="137.8" y="134.4" width="16" height="17.8" fill="#5a54a4"/>
<rect x="153.2" y="134.4" width="62" height="17.8" fill="#5e4fa2"/>
<rect x="214.6" y="134.4" width="16" height="17.8" fill="#5d50a2"/>
<rect x="230" y="134.4" width="16" height="17.8" fill="#5a55a5"/>
<rect x="245.3" y="134.4" width="16" height="17.8" fill="#565aa7"/>
<rect x="260.7" y="134.4" width="16" height="17.8" fill="#525fa9"/>
<rect x="276.1" y="134.4" width="16" height="17.8" fill="#476db0"/>
<rect x="291.4" y="134.4" width="16" height="17.8" fill="#3b7cb7"/>
<rect x="306.8" y="134.4" width="16" height="17.8" fill="#358bbc"/>
<rect x="322.1" y="134.4" width="16" height="17.8" fill="#439bb5"/>
<rect x="337.5" y="134.4" width="16" height="17.8" fill="#50aaaf"/>
<rect x="352.9" y="134.4" width="16" height="17.8" fill="#5eb9a9"/>
<rect x="368.2" y="134.4" width="16" height="17.8" fill="#6ec5a5"/>
<rect x="383.6" y="134.4" width="16" height="17.8" fill="#80cca5"/>
<rect x="398.9" y="134.4" width="16" height="17.8" fill="#94d4a4"/>
<rect x="414.3" y="134.4" width="16" height="17.8" fill="#abdda4"/>
<rect x="429.6" y="134.4" width="19" height="17.8" fill="#bee5a0"/>
<rect x="73.4" y="151.6" width="19" height="17.8" fill="#3683ba"/>
<rect x="91.8" y="151.6" width="16" height="17.8" fill="#3f77b5"/>
<rect x="107.1" y="151.6" width="16" height="17.8" fill="#486baf"/>
<rect x="122.5" y="151.6" width="16" height="17.8" fill="#5160aa"/>
<rect x="137.8" y="151.6" width="16" height="17.8" fill="#5a54a4"/>
<rect x="153.2" y="151.6" width="62" height="17.8" fill="#5e4fa2"/>
<rect x="214.6" y="151.6" width="16" height="17.8" fill="#5d50a2"/>
<rect x="230" y="151.6" width="16" height="17.8" fill="#5956a5"/>
<rect x="245.3" y="151.6" width="16" height="17.8" fill="#545ca8"/>
<rect x="260.7" y="151.6" width="16" height="17.8" fill="#4f63ab"/>
<rect x="276.1" y="151.6" width="16" height="17.8" fill="#4372b3"/>
<rect x="291.4" y="151.6" width="16" height="17.8" fill="#3682ba"/>
<rect x="306.8" y="151.6" width="16" height="17.8" fill="#3c93b9"/>
<rect x="322.1" y="151.6" width="16" height="17.8" fill="#4aa3b2"/>
<rect x="337.5" y="151.6" width="16" height="17.8" fill="#59b4ab"/>
<rect x="352.9" y="151.6" width="16" height="17.8" fill="#67c2a5"/>
<rect x="368.2" y="151.6" width="16" height="17.8" fill="#79caa5"/>
<rect x="383.6" y="151.6" width="16" height="17.8" fill="#8cd1a4"/>
<rect x="398.9" y="151.6" width="16" height="17.8" fill="#a0d9a4"/>
<rect x="414.3" y="151.6" width="16" height="17.8" fill="#b6e1a2"/>
<rect x="429.6" y="151.6" width="19" height="17.8" fill="#cbea9e"/>
<rect x="73.4" y="168.9" width="19" height="17.8" fill="#3387bc"/>
<rect x="91.8" y="168.9" width="16" height="17.8" fill="#3a7db8"/>
<rect x="107.1" y="168.9" width="16" height="17.8" fill="#4274b3"/>
<rect x="122.5" y="168.9" width="16" height="17.8" fill="#496aaf"/>
<rect x="137.8" y="168.9" width="16" height="17.8" fill="#5061aa"/>
<rect x="153.2" y="168.9" width="62" height="17.8" fill="#545ca8"/>
<rect x="214.6" y="168.9" width="16" height="17.8" fill="#535da9"/>
<rect x="230" y="168.9" width="16" height="17.8" fill="#4e64ac"/>
<rect x="245.3" y="168.9" width="16" height="17.8" fill="#486baf"/>
<rect x="260.7" y="168.9" width="16" height="17.8" fill="#4372b2"/>
<rect x="276.1" y="168.9" width="16" height="17.8" fill="#3880b9"/>
<rect x="291.4" y="168.9" width="16" height="17.8" fill="#3990ba"/>
<rect x="306.8" y="168.9" width="16" height="17.8" fill="#479fb3"/>
<rect x="322.1" y="168.9" width="16" height="17.8" fill="#55afad"/>
<rect x="337.5" y="168.9" width="16" height="17.8" fill="#63bea6"/>
<rect x="352.9" y="168.9" width="16" height="17.8" fill="#74c7a5"/>
<rect x="368.2" y="168.9" width="16" height="17.8" fill="#86cfa5"/>
<rect x="383.6" y="168.9" width="16" height="17.8" fill="#99d6a4"/>
<rect x="398.9" y="168.9" width="16" height="17.8" fill="#addea4"/>
<rect x="414.3" y="168.9" width="16" height="17.8" fill="#c3e79f"/>
<rect x="429.6" y="168.9" width="19" height="17.8" fill="#d9f09b"/>
<rect x="73.4" y="186.1" width="19" height="17.8" fill="#388fba"/>
<rect x="91.8" y="186.1" width="16" height="17.8" fill="#3387bd"/>
<rect x="107.1" y="186.1" width="16" height="17.8" fill="#3880b9"/>
<rect x="122.5" y="186.1" width="16" height="17.8" fill="#3e78b6"/>
<rect x="137.8" y="186.1" width="16" height="17.8" fill="#4471b2"/>
<rect x="153.2" y="186.1" width="62" height="17.8" fill="#466eb1"/>
<rect x="214.6" y="186.1" width="16" height="17.8" fill="#456fb1"/>
<rect x="230" y="186.1" width="16" height="17.8" fill="#4175b4"/>
<rect x="245.3" y="186.1" width="16" height="17.8" fill="#3c7bb7"/>
<rect x="260.7" y="186.1" width="16" height="17.8" fill="#3782ba"/>
<rect x="276.1" y="186.1" width="16" height="17.8" fill="#3a91b9"/>
<rect x="291.4" y="186.1" width="16" height="17.8" fill="#48a0b3"/>
<rect x="306.8" y="186.1" width="16" height="17.8" fill="#56b0ac"/>
<rect x="322.1" y="186.1" width="16" height="17.8" fill="#64c0a6"/>
<rect x="337.5" y="186.1" width="16" height="17.8" fill="#76c8a5"/>
<rect x="352.9" y="186.1" width="16" height="17.8" fill="#88cfa5"/>
<rect x="368.2" y="186.1" width="16" height="17.8" fill="#9bd7a4"/>
<rect x="383.6" y="186.1" width="16" height="17.8" fill="#addea4"/>
<rect x="398.9" y="186.1" width="16" height="17.8" fill="#bee5a0"/>
<rect x="414.3" y="186.1" width="16" height="17.8" fill="#d4ee9c"/>
<rect x="429.6" y="186.1" width="19" height="17.8" fill="#e8f69b"/>
<rect x="73.4" y="203.4" width="19" height="17.8" fill="#449cb5"/>
<rect x="91.8" y="203.4" width="16" height="17.8" fill="#3e96b7"/>
<rect x="107.1" y="203.4" width="16" height="17.8" fill="#3990ba"/>
<rect x="122.5" y="203.4" width="16" height="17.8" fill="#348abc"/>
<rect x="137.8" y="203.4" width="16" height="17.8" fill="#3584bb"/>
<rect x="153.2" y="203.4" width="16" height="17.8" fill="#3782ba"/>
<rect x="168.6" y="203.4" width="16" height="17.8" fill="#3781ba"/>
<rect x="183.9" y="203.4" width="16" height="17.8" fill="#3881ba"/>
<rect x="199.3" y="203.4" width="16" height="17.8" fill="#3880b9"/>
<rect x="214.6" y="203.4" width="16" height="17.8" fill="#3881ba"/>
<rect x="230" y="203.4" width="16" height="17.8" fill="#3387bd"/>
<rect x="245.3" y="203.4" width="16" height="17.8" fill="#378dbb"/>
<rect x="260.7" y="203.4" width="16" height="17.8" fill="#3d94b8"/>
<rect x="276.1" y="203.4" width="16" height="17.8" fill="#4ba4b2"/>
<rect x="291.4" y="203.4" width="16" height="17.8" fill="#59b4ab"/>
<rect x="306.8" y="203.4" width="16" height="17.8" fill="#69c3a5"/>
<rect x="322.1" y="203.4" width="16" height="17.8" fill="#7ccba5"/>
<rect x="337.5" y="203.4" width="16" height="17.8" fill="#8fd2a4"/>
<rect x="352.9" y="203.4" width="16" height="17.8" fill="#a1d9a4"/>
<rect x="368.2" y="203.4" width="16" height="17.8" fill="#b1dfa3"/>
<rect x="383.6" y="203.4" width="16" height="17.8" fill="#c0e6a0"/>
<rect x="398.9" y="203.4" width="16" height="17.8" fill="#d1ed9c"/>
<rect x="414.3" y="203.4" width="16" height="17.8" fill="#e7f599"/>
<rect x="429.6" y="203.4" width="19" height="17.8" fill="#f1f9a9"/>
<rect x="73.4" y="220.6" width="19" height="17.8" fill="#54aead"/>
<rect x="91.8" y="220.6" width="16" height="17.8" fill="#50a9af"/>
<rect x="107.1" y="220.6" width="16" height="17.8" fill="#4ba4b1"/>
<rect x="122.5" y="220.6" width="16" height="17.8" fill="#479fb4"/>
<rect x="137.8" y="220.6" width="16" height="17.8" fill="#429ab6"/>
<rect x="153.2" y="220.6" width="16" height="17.8" fill="#3f97b7"/>
<rect x="168.6" y="220.6" width="16" height="17.8" fill="#3e96b7"/>
<rect x="183.9" y="220.6" width="16" height="17.8" fill="#3d94b8"/>
<rect x="199.3" y="220.6" width="31.3" height="17.8" fill="#3c93b8"/>
<rect x="230" y="220.6" width="16" height="17.8" fill="#439bb5"/>
<rect x="245.3" y="220.6" width="16" height="17.8" fill="#4aa3b2"/>
<rect x="260.7" y="220.6" width="16" height="17.8" fill="#52abae"/>
<rect x="276.1" y="220.6" width="16" height="17.8" fill="#60bca8"/>
<rect x="291.4" y="220.6" width="16" height="17.8" fill="#73c7a5"/>
<rect x="306.8" y="220.6" width="16" height="17.8" fill="#87cfa5"/>
<rect x="322.1" y="220.6" width="16" height="17.8" fill="#9bd7a4"/>
<rect x="337.5" y="220.6" width="16" height="17.8" fill="#afdfa3"/>
<rect x="352.9" y="220.6" width="16" height="17.8" fill="#bce4a1"/>
<rect x="368.2" y="220.6" width="16" height="17.8" fill="#c9e99e"/>
<rect x="383.6" y="220.6" width="16" height="17.8" fill="#d6ef9b"/>
<rect x="398.9" y="220.6" width="16" height="17.8" fill="#e6f598"/>
<rect x="414.3" y="220.6" width="16" height="17.8" fill="#f1f9a9"/>
<rect x="429.6" y="220.6" width="19" height="17.8" fill="#fcfeba"/>
<rect x="73.4" y="237.8" width="19" height="17.8" fill="#80cca5"/>
<rect x="91.8" y="237.8" width="16" height="17.8" fill="#75c8a5"/>
<rect x="107.1" y="237.8" width="16" height="17.8" fill="#6ac4a5"/>
<rect x="122.5" y="237.8" width="16" height="17.8" fill="#61bca7"/>
<rect x="137.8" y="237.8" width="16" height="17.8" fill="#59b3ab"/>
<rect x="153.2" y="237.8" width="16" height="17.8" fill="#53adae"/>
<rect x="168.6" y="237.8" width="16" height="17.8" fill="#50aaaf"/>
<rect x="183.9" y="237.8" width="16" height="17.8" fill="#4da6b0"/>
<rect x="199.3" y="237.8" width="16" height="17.8" fill="#4aa3b2"/>
<rect x="214.6" y="237.8" width="16" height="17.8" fill="#49a2b2"/>
<rect x="230" y="237.8" width="16" height="17.8" fill="#52acae"/>
<rect x="245.3" y="237.8" width="16" height="17.8" fill="#5cb7aa"/>
<rect x="260.7" y="237.8" width="16" height="17.8" fill="#66c1a5"/>
<rect x="276.1" y="237.8" width="16" height="17.8" fill="#7acaa5"/>
<rect x="291.4" y="237.8" width="16" height="17.8" fill="#8fd2a4"/>
<rect x="306.8" y="237.8" width="16" height="17.8" fill="#a4daa4"/>
<rect x="322.1" y="237.8" width="16" height="17.8" fill="#b7e2a1"/>
<rect x="337.5" y="237.8" width="16" height="17.8" fill="#c9e99e"/>
<rect x="352.9" y="237.8" width="16" height="17.8" fill="#d6ee9b"/>
<rect x="368.2" y="237.8" width="16" height="17.8" fill="#e2f399"/>
<rect x="383.6" y="237.8" width="16" height="17.8" fill="#eaf69e"/>
<rect x="398.9" y="237.8" width="16" height="17.8" fill="#f1f9a9"/>
<rect x="414.3" y="237.8" width="16" height="17.8" fill="#fdfebb"/>
<rect x="429.6" y="237.8" width="19" height="17.8" fill="#fff3ac"/>
<rect x="73.4" y="255.1" width="19" height="17.8" fill="#afdfa3"/>
<rect x="91.8" y="255.1" width="16" height="17.8" fill="#a1d9a4"/>
<rect x="107.1" y="255.1" width="16" height="17.8" fill="#92d3a4"/>
<rect x="122.5" y="255.1" width="16" height="17.8" fill="#83cda5"/>
<rect x="137.8" y="255.1" width="16" height="17.8" fill="#74c7a5"/>
<rect x="153.2" y="255.1" width="16" height="17.8" fill="#6ac4a5"/>
<rect x="168.6" y="255.1" width="16" height="17.8" fill="#64c0a6"/>
<rect x="183.9" y="255.1" width="16" height="17.8" fill="#60bba8"/>
<rect x="199.3" y="255.1" width="16" height="17.8" fill="#5bb6aa"/>
<rect x="214.6" y="255.1" width="16" height="17.8" fill="#58b2ac"/>
<rect x="230" y="255.1" width="16" height="17.8" fill="#5eb9a9"/>
<rect x="245.3" y="255.1" width="16" height="17.8" fill="#64c0a6"/>
<rect x="260.7" y="255.1" width="16" height="17.8" fill="#6cc4a5"/>
<rect x="276.1" y="255.1" width="16" height="17.8" fill="#87cfa5"/>
<rect x="291.4" y="255.1" width="16" height="17.8" fill="#a2daa4"/>
<rect x="306.8" y="255.1" width="16" height="17.8" fill="#bbe4a1"/>
<rect x="322.1" y="255.1" width="16" height="17.8" fill="#d3ed9c"/>
<rect x="337.5" y="255.1" width="16" height="17.8" fill="#e8f69a"/>
<rect x="352.9" y="255.1" width="16" height="17.8" fill="#edf8a4"/>
<rect x="368.2" y="255.1" width="16" height="17.8" fill="#f3faad"/>
<rect x="383.6" y="255.1" width="16" height="17.8" fill="#f9fdb6"/>
<rect x="398.9" y="255.1" width="16" height="17.8" fill="#fffdbc"/>
<rect x="414.3" y="255.1" width="16" height="17.8" fill="#fff0a6"/>
<rect x="429.6" y="255.1" width="19" height="17.8" fill="#fee390"/>
<rect x="73.4" y="272.3" width="19" height="17.8" fill="#cdeb9d"/>
<rect x="91.8" y="272.3" width="16" height="17.8" fill="#c0e6a0"/>
<rect x="107.1" y="272.3" width="16" height="17.8" fill="#b3e0a2"/>
<rect x="122.5" y="272.3" width="16" height="17.8" fill="#a6dba4"/>
<rect x="137.8" y="272.3" width="16" height="17.8" fill="#97d5a4"/>
<rect x="153.2" y="272.3" width="16" height="17.8" fill="#8dd1a4"/>
<rect x="168.6" y="272.3" width="16" height="17.8" fill="#87cfa5"/>
<rect x="183.9" y="272.3" width="16" height="17.8" fill="#80cca5"/>
<rect x="199.3" y="272.3" width="16" height="17.8" fill="#7acaa5"/>
<rect x="214.6" y="272.3" width="16" height="17.8" fill="#77c9a5"/>
<rect x="230" y="272.3" width="16" height="17.8" fill="#84cea5"/>
<rect x="245.3" y="272.3" width="16" height="17.8" fill="#92d3a4"/>
<rect x="260.7" y="272.3" width="16" height="17.8" fill="#a0d9a4"/>
<rect x="276.1" y="272.3" width="16" height="17.8" fill="#bbe3a1"/>
<rect x="291.4" y="272.3" width="16" height="17.8" fill="#d5ee9b"/>
<rect x="306.8" y="272.3" width="16" height="17.8" fill="#eaf79e"/>
<rect x="322.1" y="272.3" width="16" height="17.8" fill="#f5fbaf"/>
<rect x="337.5" y="272.3" width="16" height="17.8" fill="#fdfebb"/>
<rect x="352.9" y="272.3" width="16" height="17.8" fill="#fffcba"/>
<rect x="368.2" y="272.3" width="16" height="17.8" fill="#fff7b1"/>
<rect x="383.6" y="272.3" width="16" height="17.8" fill="#fff1a7"/>
<rect x="398.9" y="272.3" width="16" height="17.8" fill="#feea9c"/>
<rect x="414.3" y="272.3" width="16" height="17.8" fill="#fee390"/>
<rect x="429.6" y="272.3" width="19" height="17.8" fill="#fed985"/>
<rect x="73.4" y="289.6" width="19" height="17.8" fill="#e2f399"/>
<rect x="91.8" y="289.6" width="16" height="17.8" fill="#d8ef9b"/>
<rect x="107.1" y="289.6" width="16" height="17.8" fill="#cdeb9d"/>
<rect x="122.5" y="289.6" width="16" height="17.8" fill="#c3e79f"/>
<rect x="137.8" y="289.6" width="16" height="17.8" fill="#b9e3a1"/>
<rect x="153.2" y="289.6" width="16" height="17.8" fill="#b2e0a3"/>
<rect x="168.6" y="289.6" width="16" height="17.8" fill="#acdda4"/>
<rect x="183.9" y="289.6" width="16" height="17.8" fill="#a6dba4"/>
<rect x="199.3" y="289.6" width="16" height="17.8" fill="#a0d9a4"/>
<rect x="214.6" y="289.6" width="16" height="17.8" fill="#9dd8a4"/>
<rect x="230" y="289.6" width="16" height="17.8" fill="#aedea3"/>
<rect x="245.3" y="289.6" width="16" height="17.8" fill="#bee5a0"/>
<rect x="260.7" y="289.6" width="16" height="17.8" fill="#cdeb9d"/>
<rect x="276.1" y="289.6" width="16" height="17.8" fill="#e6f598"/>
<rect x="291.4" y="289.6" width="16" height="17.8" fill="#f0f9a8"/>
<rect x="306.8" y="289.6" width="16" height="17.8" fill="#fbfdb9"/>
<rect x="322.1" y="289.6" width="16" height="17.8" fill="#fff7b1"/>
<rect x="337.5" y="289.6" width="16" height="17.8" fill="#fff2a9"/>
<rect x="352.9" y="289.6" width="16" height="17.8" fill="#feeda1"/>
<rect x="368.2" y="289.6" width="16" height="17.8" fill="#fee999"/>
<rect x="383.6" y="289.6" width="16" height="17.8" fill="#fee492"/>
<rect x="398.9" y="289.6" width="16" height="17.8" fill="#fede8a"/>
<rect x="414.3" y="289.6" width="16" height="17.8" fill="#fed783"/>
<rect x="429.6" y="289.6" width="19" height="17.8" fill="#fed07d"/>
<rect x="73.4" y="306.8" width="19" height="17.8" fill="#ebf7a0"/>
<rect x="91.8" y="306.8" width="16" height="17.8" fill="#e9f69c"/>
<rect x="107.1" y="306.8" width="16" height="17.8" fill="#e6f598"/>
<rect x="122.5" y="306.8" width="16" height="17.8" fill="#dff299"/>
<rect x="137.8" y="306.8" width="16" height="17.8" fill="#d9f09b"/>
<rect x="153.2" y="306.8" width="16" height="17.8" fill="#d3ed9c"/>
<rect x="168.6" y="306.8" width="16" height="17.8" fill="#ceeb9d"/>
<rect x="183.9" y="306.8" width="16" height="17.8" fill="#c8e99e"/>
<rect x="199.3" y="306.8" width="16" height="17.8" fill="#c3e79f"/>
<rect x="214.6" y="306.8" width="16" height="17.8" fill="#c0e5a0"/>
<rect x="230" y="306.8" width="16" height="17.8" fill="#cbea9d"/>
<rect x="245.3" y="306.8" width="16" height="17.8" fill="#d6ef9b"/>
<rect x="260.7" y="306.8" width="16" height="17.8" fill="#e1f399"/>
<rect x="276.1" y="306.8" width="16" height="17.8" fill="#eff8a5"/>
<rect x="291.4" y="306.8" width="16" height="17.8" fill="#f9fdb6"/>
<rect x="306.8" y="306.8" width="16" height="17.8" fill="#fff9b5"/>
<rect x="322.1" y="306.8" width="16" height="17.8" fill="#feec9f"/>
<rect x="337.5" y="306.8" width="16" height="17.8" fill="#fee696"/>
<rect x="352.9" y="306.8" width="16" height="17.8" fill="#fee18d"/>
<rect x="368.2" y="306.8" width="16" height="17.8" fill="#fed985"/>
<rect x="383.6" y="306.8" width="16" height="17.8" fill="#fed07e"/>
<rect x="398.9" y="306.8" width="16" height="17.8" fill="#fec877"/>
<rect x="414.3" y="306.8" width="16" height="17.8" fill="#fdc171"/>
<rect x="429.6" y="306.8" width="19" height="17.8" fill="#fdba6b"/>
<rect x="73.4" y="324" width="19" height="17.8" fill="#f8fcb4"/>
<rect x="91.8" y="324" width="16" height="17.8" fill="#f5fbb0"/>
<rect x="107.1" y="324" width="16" height="17.8" fill="#f2faab"/>
<rect x="122.5" y="324" width="16" height="17.8" fill="#f0f9a7"/>
<rect x="137.8" y="324" width="16" height="17.8" fill="#edf8a3"/>
<rect x="153.2" y="324" width="16" height="17.8" fill="#eaf79f"/>
<rect x="168.6" y="324" width="16" height="17.8" fill="#e8f69b"/>
<rect x="183.9" y="324" width="16" height="17.8" fill="#e4f498"/>
<rect x="199.3" y="324" width="16" height="17.8" fill="#def29a"/>
<rect x="214.6" y="324" width="16" height="17.8" fill="#daf09a"/>
<rect x="230" y="324" width="16" height="17.8" fill="#e5f598"/>
<rect x="245.3" y="324" width="16" height="17.8" fill="#eaf79e"/>
<rect x="260.7" y="324" width="16" height="17.8" fill="#eff8a6"/>
<rect x="276.1" y="324" width="16" height="17.8" fill="#f9fdb5"/>
<rect x="291.4" y="324" width="16" height="17.8" fill="#fffab7"/>
<rect x="306.8" y="324" width="16" height="17.8" fill="#feeda1"/>
<rect x="322.1" y="324" width="16" height="17.8" fill="#fee18c"/>
<rect x="337.5" y="324" width="16" height="17.8" fill="#fed784"/>
<rect x="352.9" y="324" width="16" height="17.8" fill="#fece7c"/>
<rect x="368.2" y="324" width="16" height="17.8" fill="#fdc473"/>
<rect x="383.6" y="324" width="16" height="17.8" fill="#fdba6b"/>
<rect x="398.9" y="324" width="16" height="17.8" fill="#fdb063"/>
<rect x="414.3" y="324" width="16" height="17.8" fill="#fca55d"/>
<rect x="429.6" y="324" width="19" height="17.8" fill="#fb9c59"/>
<rect x="73.4" y="341.3" width="19" height="17.8" fill="#fff7b2"/>
<rect x="91.8" y="341.3" width="16" height="17.8" fill="#fffbb8"/>
<rect x="107.1" y="341.3" width="16" height="17.8" fill="#ffffbf"/>
<rect x="122.5" y="341.3" width="16" height="17.8" fill="#fcfebb"/>
<rect x="137.8" y="341.3" width="16" height="17.8" fill="#f9fdb6"/>
<rect x="153.2" y="341.3" width="16" height="17.8" fill="#f6fbb1"/>
<rect x="168.6" y="341.3" width="16" height="17.8" fill="#f3faad"/>
<rect x="183.9" y="341.3" width="16" height="17.8" fill="#f1f9a8"/>
<rect x="199.3" y="341.3" width="16" height="17.8" fill="#eef8a4"/>
<rect x="214.6" y="341.3" width="16" height="17.8" fill="#ecf7a1"/>
<rect x="230" y="341.3" width="16" height="17.8" fill="#f1f9a8"/>
<rect x="245.3" y="341.3" width="16" height="17.8" fill="#f5fbb0"/>
<rect x="260.7" y="341.3" width="16" height="17.8" fill="#fafdb7"/>
<rect x="276.1" y="341.3" width="16" height="17.8" fill="#fffab6"/>
<rect x="291.4" y="341.3" width="16" height="17.8" fill="#feeea2"/>
<rect x="306.8" y="341.3" width="16" height="17.8" fill="#fee28e"/>
<rect x="322.1" y="341.3" width="16" height="17.8" fill="#fecf7d"/>
<rect x="337.5" y="341.3" width="16" height="17.8" fill="#fdc473"/>
<rect x="352.9" y="341.3" width="16" height="17.8" fill="#fdb869"/>
<rect x="368.2" y="341.3" width="16" height="17.8" fill="#fdac60"/>
<rect x="383.6" y="341.3" width="16" height="17.8" fill="#fb9d59"/>
<rect x="398.9" y="341.3" width="16" height="17.8" fill="#f98f53"/>
<rect x="414.3" y="341.3" width="16" height="17.8" fill="#f7824d"/>
<rect x="429.6" y="341.3" width="19" height="17.8" fill="#f67949"/>
<rect x="73.4" y="358.5" width="19" height="17.8" fill="#fee695"/>
<rect x="91.8" y="358.5" width="16" height="17.8" fill="#feea9c"/>
<rect x="107.1" y="358.5" width="16" height="17.8" fill="#feefa4"/>
<rect x="122.5" y="358.5" width="16" height="17.8" fill="#fff4ac"/>
<rect x="137.8" y="358.5" width="16" height="17.8" fill="#fff8b4"/>
<rect x="153.2" y="358.5" width="16" height="17.8" fill="#fffcba"/>
<rect x="168.6" y="358.5" width="16" height="17.8" fill="#feffbe"/>
<rect x="183.9" y="358.5" width="16" height="17.8" fill="#fcfeba"/>
<rect x="199.3" y="358.5" width="16" height="17.8" fill="#f9fdb5"/>
<rect x="214.6" y="358.5" width="16" height="17.8" fill="#f7fcb2"/>
<rect x="230" y="358.5" width="16" height="17.8" fill="#fbfdb9"/>
<rect x="245.3" y="358.5" width="16" height="17.8" fill="#fffebe"/>
<rect x="260.7" y="358.5" width="16" height="17.8" fill="#fff9b5"/>
<rect x="276.1" y="358.5" width="16" height="17.8" fill="#feeea3"/>
<rect x="291.4" y="358.5" width="16" height="17.8" fill="#fee390"/>
<rect x="306.8" y="358.5" width="16" height="17.8" fill="#fed27f"/>
<rect x="322.1" y="358.5" width="16" height="17.8" fill="#fdc070"/>
<rect x="337.5" y="358.5" width="16" height="17.8" fill="#fdb264"/>
<rect x="352.9" y="358.5" width="16" height="17.8" fill="#fba15b"/>
<rect x="368.2" y="358.5" width="16" height="17.8" fill="#f99053"/>
<rect x="383.6" y="358.5" width="16" height="17.8" fill="#f67e4b"/>
<rect x="398.9" y="358.5" width="16" height="17.8" fill="#f57245"/>
<rect x="414.3" y="358.5" width="16" height="17.8" fill="#f16844"/>
<rect x="429.6" y="358.5" width="19" height="17.8" fill="#ec6246"/>
<rect x="73.4" y="375.8" width="19" height="17.8" fill="#fed582"/>
<rect x="91.8" y="375.8" width="16" height="17.8" fill="#fedd88"/>
<rect x="107.1" y="375.8" width="16" height="17.8" fill="#fee390"/>
<rect x="122.5" y="375.8" width="16" height="17.8" fill="#fee898"/>
<rect x="137.8" y="375.8" width="16" height="17.8" fill="#feec9f"/>
<rect x="153.2" y="375.8" width="16" height="17.8" fill="#fff0a7"/>
<rect x="168.6" y="375.8" width="16" height="17.8" fill="#fff4ad"/>
<rect x="183.9" y="375.8" width="16" height="17.8" fill="#fff8b4"/>
<rect x="199.3" y="375.8" width="16" height="17.8" fill="#fffcba"/>
<rect x="214.6" y="375.8" width="16" height="17.8" fill="#ffffbf"/>
<rect x="230" y="375.8" width="16" height="17.8" fill="#fff9b5"/>
<rect x="245.3" y="375.8" width="16" height="17.8" fill="#fff4ac"/>
<rect x="260.7" y="375.8" width="16" height="17.8" fill="#feeea3"/>
<rect x="276.1" y="375.8" width="16" height="17.8" fill="#fee391"/>
<rect x="291.4" y="375.8" width="16" height="17.8" fill="#fed481"/>
<rect x="306.8" y="375.8" width="16" height="17.8" fill="#fdc272"/>
<rect x="322.1" y="375.8" width="16" height="17.8" fill="#fdb163"/>
<rect x="337.5" y="375.8" width="16" height="17.8" fill="#fb9f5a"/>
<rect x="352.9" y="375.8" width="16" height="17.8" fill="#f88c51"/>
<rect x="368.2" y="375.8" width="16" height="17.8" fill="#f67948"/>
<rect x="383.6" y="375.8" width="16" height="17.8" fill="#f16844"/>
<rect x="398.9" y="375.8" width="16" height="17.8" fill="#ec6046"/>
<rect x="414.3" y="375.8" width="16" height="17.8" fill="#e75948"/>
<rect x="429.6" y="375.8" width="19" height="17.8" fill="#e3534a"/>
<rect x="73.4" y="393" width="19" height="17.8" fill="#fdc373"/>
<rect x="91.8" y="393" width="16" height="17.8" fill="#fecb7a"/>
<rect x="107.1" y="393" width="16" height="17.8" fill="#fed380"/>
<rect x="122.5" y="393" width="16" height="17.8" fill="#fedb87"/>
<rect x="137.8" y="393" width="16" height="17.8" fill="#fee28e"/>
<rect x="153.2" y="393" width="16" height="17.8" fill="#fee695"/>
<rect x="168.6" y="393" width="16" height="17.8" fill="#feea9c"/>
<rect x="183.9" y="393" width="16" height="17.8" fill="#feeea2"/>
<rect x="199.3" y="393" width="16" height="17.8" fill="#fff2a9"/>
<rect x="214.6" y="393" width="16" height="17.8" fill="#fff4ad"/>
<rect x="230" y="393" width="16" height="17.8" fill="#feefa4"/>
<rect x="245.3" y="393" width="16" height="17.8" fill="#fee99b"/>
<rect x="260.7" y="393" width="16" height="17.8" fill="#fee492"/>
<rect x="276.1" y="393" width="16" height="17.8" fill="#fed582"/>
<rect x="291.4" y="393" width="16" height="17.8" fill="#fdc473"/>
<rect x="306.8" y="393" width="16" height="17.8" fill="#fdb264"/>
<rect x="322.1" y="393" width="16" height="17.8" fill="#fb9c59"/>
<rect x="337.5" y="393" width="16" height="17.8" fill="#f88a50"/>
<rect x="352.9" y="393" width="16" height="17.8" fill="#f67848"/>
<rect x="368.2" y="393" width="16" height="17.8" fill="#f16844"/>
<rect x="383.6" y="393" width="16" height="17.8" fill="#e85b48"/>
<rect x="398.9" y="393" width="16" height="17.8" fill="#e35449"/>
<rect x="414.3" y="393" width="16" height="17.8" fill="#df4c4b"/>
<rect x="429.6" y="393" width="19" height="17.8" fill="#da464d"/>
<rect x="73.4" y="410.2" width="19" height="17.8" fill="#fdb466"/>
<rect x="91.8" y="410.2" width="16" height="17.8" fill="#fdbc6d"/>
<rect x="107.1" y="410.2" width="16" height="17.8" fill="#fdc574"/>
<rect x="122.5" y="410.2" width="16" height="17.8" fill="#fecd7b"/>
<rect x="137.8" y="410.2" width="16" height="17.8" fill="#fed682"/>
<rect x="153.2" y="410.2" width="16" height="17.8" fill="#fedc88"/>
<rect x="168.6" y="410.2" width="16" height="17.8" fill="#fee18c"/>
<rect x="183.9" y="410.2" width="16" height="17.8" fill="#fee491"/>
<rect x="199.3" y="410.2" width="16" height="17.8" fill="#fee796"/>
<rect x="214.6" y="410.2" width="16" height="17.8" fill="#fee99a"/>
<rect x="230" y="410.2" width="16" height="17.8" fill="#fee492"/>
<rect x="245.3" y="410.2" width="16" height="17.8" fill="#fee08b"/>
<rect x="260.7" y="410.2" width="16" height="17.8" fill="#fed985"/>
<rect x="276.1" y="410.2" width="16" height="17.8" fill="#fec877"/>
<rect x="291.4" y="410.2" width="16" height="17.8" fill="#fdb668"/>
<rect x="306.8" y="410.2" width="16" height="17.8" fill="#fba25c"/>
<rect x="322.1" y="410.2" width="16" height="17.8" fill="#f88b51"/>
<rect x="337.5" y="410.2" width="16" height="17.8" fill="#f67949"/>
<rect x="352.9" y="410.2" width="16" height="17.8" fill="#f16944"/>
<rect x="368.2" y="410.2" width="16" height="17.8" fill="#e95c47"/>
<rect x="383.6" y="410.2" width="16" height="17.8" fill="#e04f4b"/>
<rect x="398.9" y="410.2" width="16" height="17.8" fill="#db474d"/>
<rect x="414.3" y="410.2" width="16" height="17.8" fill="#d6404f"/>
<rect x="429.6" y="410.2" width="19" height="17.8" fill="#d0384e"/>
<rect x="73.4" y="427.5" width="19" height="17.8" fill="#fba15b"/>
<rect x="91.8" y="427.5" width="16" height="17.8" fill="#fdac60"/>
<rect x="107.1" y="427.5" width="16" height="17.8" fill="#fdb567"/>
<rect x="122.5" y="427.5" width="16" height="17.8" fill="#fdbe6e"/>
<rect x="137.8" y="427.5" width="16" height="17.8" fill="#fdc776"/>
<rect x="153.2" y="427.5" width="16" height="17.8" fill="#fecd7b"/>
<rect x="168.6" y="427.5" width="16" height="17.8" fill="#fed17f"/>
<rect x="183.9" y="427.5" width="16" height="17.8" fill="#fed683"/>
<rect x="199.3" y="427.5" width="16" height="17.8" fill="#feda86"/>
<rect x="214.6" y="427.5" width="16" height="17.8" fill="#fedd89"/>
<rect x="230" y="427.5" width="16" height="17.8" fill="#fed884"/>
<rect x="245.3" y="427.5" width="16" height="17.8" fill="#fed27f"/>
<rect x="260.7" y="427.5" width="16" height="17.8" fill="#fecc7a"/>
<rect x="276.1" y="427.5" width="16" height="17.8" fill="#fdbb6c"/>
<rect x="291.4" y="427.5" width="16" height="17.8" fill="#fca95f"/>
<rect x="306.8" y="427.5" width="16" height="17.8" fill="#f99355"/>
<rect x="322.1" y="427.5" width="16" height="17.8" fill="#f67d4a"/>
<rect x="337.5" y="427.5" width="16" height="17.8" fill="#f36c43"/>
<rect x="352.9" y="427.5" width="16" height="17.8" fill="#ea5f47"/>
<rect x="368.2" y="427.5" width="16" height="17.8" fill="#e2524a"/>
<rect x="383.6" y="427.5" width="16" height="17.8" fill="#d9454d"/>
<rect x="398.9" y="427.5" width="16" height="17.8" fill="#d33b4e"/>
<rect x="414.3" y="427.5" width="16" height="17.8" fill="#c9304c"/>
<rect x="429.6" y="427.5" width="19" height="17.8" fill="#c1284a"/>
<rect x="73.4" y="444.7" width="19" height="17.8" fill="#f88d52"/>
<rect x="91.8" y="444.7" width="16" height="17.8" fill="#fa9857"/>
<rect x="107.1" y="444.7" width="16" height="17.8" fill="#fca35c"/>
<rect x="122.5" y="444.7" width="16" height="17.8" fill="#fdae61"/>
<rect x="137.8" y="444.7" width="16" height="17.8" fill="#fdb768"/>
<rect x="153.2" y="444.7" width="16" height="17.8" fill="#fdbd6d"/>
<rect x="168.6" y="444.7" width="16" height="17.8" fill="#fdc171"/>
<rect x="183.9" y="444.7" width="16" height="17.8" fill="#fdc574"/>
<rect x="199.3" y="444.7" width="16" height="17.8" fill="#fec978"/>
<rect x="214.6" y="444.7" width="16" height="17.8" fill="#fecc7b"/>
<rect x="230" y="444.7" width="16" height="17.8" fill="#fec877"/>
<rect x="245.3" y="444.7" width="16" height="17.8" fill="#fdc373"/>
<rect x="260.7" y="444.7" width="16" height="17.8" fill="#fdbe6f"/>
<rect x="276.1" y="444.7" width="16" height="17.8" fill="#fdae61"/>
<rect x="291.4" y="444.7" width="16" height="17.8" fill="#fa9957"/>
<rect x="306.8" y="444.7" width="16" height="17.8" fill="#f7844e"/>
<rect x="322.1" y="444.7" width="16" height="17.8" fill="#f46f44"/>
<rect x="337.5" y="444.7" width="16" height="17.8" fill="#ec6146"/>
<rect x="352.9" y="444.7" width="16" height="17.8" fill="#e45449"/>
<rect x="368.2" y="444.7" width="16" height="17.8" fill="#db474d"/>
<rect x="383.6" y="444.7" width="16" height="17.8" fill="#d1394e"/>
<rect x="398.9" y="444.7" width="16" height="17.8" fill="#c82f4c"/>
<rect x="414.3" y="444.7" width="16" height="17.8" fill="#bf264a"/>
<rect x="429.6" y="444.7" width="19" height="17.8" fill="#b81d48"/>
<rect x="73.4" y="462" width="19" height="20.8" fill="#f77f4b"/>
<rect x="91.8" y="462" width="16" height="20.8" fill="#f88850"/>
<rect x="107.1" y="462" width="16" height="20.8" fill="#f99154"/>
<rect x="122.5" y="462" width="16" height="20.8" fill="#fa9a58"/>
<rect x="137.8" y="462" width="16" height="20.8" fill="#fba35c"/>
<rect x="153.2" y="462" width="16" height="20.8" fill="#fca95f"/>
<rect x="168.6" y="462" width="16" height="20.8" fill="#fdac60"/>
<rect x="183.9" y="462" width="16" height="20.8" fill="#fdaf62"/>
<rect x="199.3" y="462" width="16" height="20.8" fill="#fdb264"/>
<rect x="214.6" y="462" width="16" height="20.8" fill="#fdb466"/>
<rect x="230" y="462" width="16" height="20.8" fill="#fdb365"/>
<rect x="245.3" y="462" width="16" height="20.8" fill="#fdb264"/>
<rect x="260.7" y="462" width="16" height="20.8" fill="#fdb163"/>
<rect x="276.1" y="462" width="16" height="20.8" fill="#fb9d59"/>
<rect x="291.4" y="462" width="16" height="20.8" fill="#f8884f"/>
<rect x="306.8" y="462" width="16" height="20.8" fill="#f57346"/>
<rect x="322.1" y="462" width="16" height="20.8" fill="#ed6246"/>
<rect x="337.5" y="462" width="16" height="20.8" fill="#e45549"/>
<rect x="352.9" y="462" width="16" height="20.8" fill="#db484d"/>
<rect x="368.2" y="462" width="16" height="20.8" fill="#d13a4e"/>
<rect x="383.6" y="462" width="16" height="20.8" fill="#c2294b"/>
<rect x="398.9" y="462" width="16" height="20.8" fill="#bc2249"/>
<rect x="414.3" y="462" width="16" height="20.8" fill="#b51b48"/>
<rect x="429.6" y="462" width="19" height="20.8" fill="#ae1346"/>
</g>
<use href="#ov"/>
<rect x="454.6" y="48.6" width="18" height="430.4" fill="url(#cb)" stroke="#333" stroke-width="1"/>
<text class="b" x="479.8" y="106.5">8</text>
<text class="b" x="479.8" y="165.7">6</text>
<text class="b" x="479.8" y="224.9">4</text>
<text class="b" x="479.8" y="284.1">2</text>
<text class="b" x="479.8" y="343.3">0</text>
<text class="b" x="479.8" y="402.5">-2</text>
<text class="b" x="479.8" y="461.7">-4</text>
<path d="M472.6 99.7h-3.5M472.6 158.9h-3.5M472.6 218.1h-3.5M472.6 277.3h-3.5M472.6 336.5h-3.5M472.6 395.7h-3.5M472.6 454.9h-3.5" stroke="#222" stroke-width="1.2" fill="none"/>
<text class="b" x="463.9" y="36.8" text-anchor="middle">cm</text>
<text class="L" x="433.6" y="85.2" text-anchor="end">(c)</text>
</g>
<g transform="translate(0 509.7) scale(1 1.0028)">
<g filter="url(#bl)" clip-path="url(#pc)">
<rect x="73.4" y="45.2" width="374.6" height="437" fill="#f3faad"/>
<rect x="73.4" y="45.2" width="49.7" height="20.8" fill="#3f77b5"/>
<rect x="122.5" y="45.2" width="46.7" height="20.8" fill="#5e4fa2"/>
<rect x="168.6" y="45.2" width="62" height="20.8" fill="#3288bd"/>
<rect x="230" y="45.2" width="62" height="20.8" fill="#5160aa"/>
<rect x="291.4" y="45.2" width="123.5" height="20.8" fill="#5cb6aa"/>
<rect x="414.3" y="45.2" width="34.3" height="20.8" fill="#ceeb9d"/>
<rect x="73.4" y="65.4" width="34.3" height="17.8" fill="#3f77b5"/>
<rect x="107.1" y="65.4" width="77.4" height="17.8" fill="#5e4fa2"/>
<rect x="183.9" y="65.4" width="46.7" height="17.8" fill="#3288bd"/>
<rect x="230" y="65.4" width="77.4" height="17.8" fill="#5160aa"/>
<rect x="306.8" y="65.4" width="16" height="17.8" fill="#5cb6aa"/>
<rect x="322.1" y="65.4" width="31.3" height="17.8" fill="#479fb3"/>
<rect x="352.9" y="65.4" width="77.4" height="17.8" fill="#5cb6aa"/>
<rect x="429.6" y="65.4" width="19" height="17.8" fill="#ceeb9d"/>
<rect x="73.4" y="82.7" width="34.3" height="17.8" fill="#3f77b5"/>
<rect x="107.1" y="82.7" width="77.4" height="17.8" fill="#5e4fa2"/>
<rect x="183.9" y="82.7" width="108.1" height="17.8" fill="#5160aa"/>
<rect x="291.4" y="82.7" width="77.4" height="17.8" fill="#479fb3"/>
<rect x="368.2" y="82.7" width="46.7" height="17.8" fill="#5cb6aa"/>
<rect x="414.3" y="82.7" width="34.3" height="17.8" fill="#a4daa4"/>
<rect x="73.4" y="99.9" width="49.7" height="17.8" fill="#3f77b5"/>
<rect x="122.5" y="99.9" width="62" height="17.8" fill="#5e4fa2"/>
<rect x="183.9" y="99.9" width="108.1" height="17.8" fill="#5160aa"/>
<rect x="291.4" y="99.9" width="77.4" height="17.8" fill="#479fb3"/>
<rect x="368.2" y="99.9" width="31.3" height="17.8" fill="#5cb6aa"/>
<rect x="398.9" y="99.9" width="49.7" height="17.8" fill="#a4daa4"/>
<rect x="73.4" y="117.2" width="49.7" height="17.8" fill="#3f77b5"/>
<rect x="122.5" y="117.2" width="62" height="17.8" fill="#5e4fa2"/>
<rect x="183.9" y="117.2" width="62" height="17.8" fill="#5160aa"/>
<rect x="245.3" y="117.2" width="46.7" height="17.8" fill="#5cb6aa"/>
<rect x="291.4" y="117.2" width="62" height="17.8" fill="#479fb3"/>
<rect x="352.9" y="117.2" width="95.8" height="17.8" fill="#a4daa4"/>
<rect x="73.4" y="134.4" width="49.7" height="17.8" fill="#3f77b5"/>
<rect x="122.5" y="134.4" width="62" height="17.8" fill="#5cb6aa"/>
<rect x="183.9" y="134.4" width="46.7" height="17.8" fill="#5160aa"/>
<rect x="230" y="134.4" width="62" height="17.8" fill="#5cb6aa"/>
<rect x="291.4" y="134.4" width="62" height="17.8" fill="#479fb3"/>
<rect x="352.9" y="134.4" width="95.8" height="17.8" fill="#a4daa4"/>
<rect x="73.4" y="151.6" width="49.7" height="17.8" fill="#3f77b5"/>
<rect x="122.5" y="151.6" width="62" height="17.8" fill="#5cb6aa"/>
<rect x="183.9" y="151.6" width="46.7" height="17.8" fill="#5160aa"/>
<rect x="230" y="151.6" width="62" height="17.8" fill="#5cb6aa"/>
<rect x="291.4" y="151.6" width="62" height="17.8" fill="#e9f69c"/>
<rect x="352.9" y="151.6" width="62" height="17.8" fill="#a4daa4"/>
<rect x="414.3" y="151.6" width="34.3" height="17.8" fill="#e9f69c"/>
<rect x="73.4" y="168.9" width="49.7" height="17.8" fill="#a4daa4"/>
<rect x="122.5" y="168.9" width="62" height="17.8" fill="#5cb6aa"/>
<rect x="183.9" y="168.9" width="62" height="17.8" fill="#a4daa4"/>
<rect x="245.3" y="168.9" width="46.7" height="17.8" fill="#5cb6aa"/>
<rect x="291.4" y="168.9" width="77.4" height="17.8" fill="#e9f69c"/>
<rect x="368.2" y="168.9" width="46.7" height="17.8" fill="#a4daa4"/>
<rect x="414.3" y="168.9" width="34.3" height="17.8" fill="#e9f69c"/>
<rect x="73.4" y="186.1" width="49.7" height="17.8" fill="#a4daa4"/>
<rect x="122.5" y="186.1" width="62" height="17.8" fill="#5cb6aa"/>
<rect x="183.9" y="186.1" width="62" height="17.8" fill="#a4daa4"/>
<rect x="245.3" y="186.1" width="31.3" height="17.8" fill="#5cb6aa"/>
<rect x="276.1" y="186.1" width="16" height="17.8" fill="#f6fcb1"/>
<rect x="291.4" y="186.1" width="62" height="17.8" fill="#e9f69c"/>
<rect x="352.9" y="186.1" width="62" height="17.8" fill="#f6fcb1"/>
<rect x="414.3" y="186.1" width="34.3" height="17.8" fill="#e9f69c"/>
<rect x="73.4" y="203.4" width="65" height="17.8" fill="#a4daa4"/>
<rect x="137.8" y="203.4" width="46.7" height="17.8" fill="#e9f69c"/>
<rect x="183.9" y="203.4" width="62" height="17.8" fill="#a4daa4"/>
<rect x="245.3" y="203.4" width="62" height="17.8" fill="#f6fcb1"/>
<rect x="306.8" y="203.4" width="46.7" height="17.8" fill="#e9f69c"/>
<rect x="352.9" y="203.4" width="77.4" height="17.8" fill="#f6fcb1"/>
<rect x="429.6" y="203.4" width="19" height="17.8" fill="#e9f69c"/>
<rect x="73.4" y="220.6" width="49.7" height="17.8" fill="#a4daa4"/>
<rect x="122.5" y="220.6" width="62" height="17.8" fill="#e9f69c"/>
<rect x="183.9" y="220.6" width="62" height="17.8" fill="#a4daa4"/>
<rect x="245.3" y="220.6" width="62" height="17.8" fill="#f6fcb1"/>
<rect x="306.8" y="220.6" width="31.3" height="17.8" fill="#e9f69c"/>
<rect x="337.5" y="220.6" width="16" height="17.8" fill="#fee08b"/>
<rect x="352.9" y="220.6" width="95.8" height="17.8" fill="#f6fcb1"/>
<rect x="73.4" y="237.8" width="49.7" height="17.8" fill="#a4daa4"/>
<rect x="122.5" y="237.8" width="77.4" height="17.8" fill="#e9f69c"/>
<rect x="199.3" y="237.8" width="108.1" height="17.8" fill="#f6fcb1"/>
<rect x="306.8" y="237.8" width="62" height="17.8" fill="#fee08b"/>
<rect x="368.2" y="237.8" width="80.4" height="17.8" fill="#f6fcb1"/>
<rect x="73.4" y="255.1" width="49.7" height="17.8" fill="#ceeb9d"/>
<rect x="122.5" y="255.1" width="62" height="17.8" fill="#c3e79f"/>
<rect x="183.9" y="255.1" width="62" height="17.8" fill="#eff8a6"/>
<rect x="245.3" y="255.1" width="46.7" height="17.8" fill="#f6fcb1"/>
<rect x="291.4" y="255.1" width="77.4" height="17.8" fill="#fee08b"/>
<rect x="368.2" y="255.1" width="46.7" height="17.8" fill="#f6fcb1"/>
<rect x="414.3" y="255.1" width="34.3" height="17.8" fill="#ffffbf"/>
<rect x="73.4" y="272.3" width="49.7" height="17.8" fill="#ceeb9d"/>
<rect x="122.5" y="272.3" width="62" height="17.8" fill="#c3e79f"/>
<rect x="183.9" y="272.3" width="62" height="17.8" fill="#eff8a6"/>
<rect x="245.3" y="272.3" width="16" height="17.8" fill="#f6fcb1"/>
<rect x="260.7" y="272.3" width="108.1" height="17.8" fill="#fee08b"/>
<rect x="368.2" y="272.3" width="46.7" height="17.8" fill="#fec776"/>
<rect x="414.3" y="272.3" width="34.3" height="17.8" fill="#ffffbf"/>
<rect x="73.4" y="289.6" width="49.7" height="17.8" fill="#ceeb9d"/>
<rect x="122.5" y="289.6" width="123.5" height="17.8" fill="#eff8a6"/>
<rect x="245.3" y="289.6" width="108.1" height="17.8" fill="#fee08b"/>
<rect x="352.9" y="289.6" width="77.4" height="17.8" fill="#fec776"/>
<rect x="429.6" y="289.6" width="19" height="17.8" fill="#ffffbf"/>
<rect x="73.4" y="306.8" width="49.7" height="17.8" fill="#ceeb9d"/>
<rect x="122.5" y="306.8" width="123.5" height="17.8" fill="#eff8a6"/>
<rect x="245.3" y="306.8" width="62" height="17.8" fill="#fee08b"/>
<rect x="306.8" y="306.8" width="46.7" height="17.8" fill="#f99455"/>
<rect x="352.9" y="306.8" width="77.4" height="17.8" fill="#fec776"/>
<rect x="429.6" y="306.8" width="19" height="17.8" fill="#fdb365"/>
<rect x="73.4" y="324" width="65" height="17.8" fill="#ffffbf"/>
<rect x="137.8" y="324" width="77.4" height="17.8" fill="#eff8a6"/>
<rect x="214.6" y="324" width="92.8" height="17.8" fill="#fee08b"/>
<rect x="306.8" y="324" width="62" height="17.8" fill="#f99455"/>
<rect x="368.2" y="324" width="46.7" height="17.8" fill="#fec776"/>
<rect x="414.3" y="324" width="34.3" height="17.8" fill="#fdb365"/>
<rect x="73.4" y="341.3" width="65" height="17.8" fill="#ffffbf"/>
<rect x="137.8" y="341.3" width="46.7" height="17.8" fill="#eff8a6"/>
<rect x="183.9" y="341.3" width="108.1" height="17.8" fill="#fee08b"/>
<rect x="291.4" y="341.3" width="77.4" height="17.8" fill="#f99455"/>
<rect x="368.2" y="341.3" width="46.7" height="17.8" fill="#f16844"/>
<rect x="414.3" y="341.3" width="34.3" height="17.8" fill="#fdb365"/>
<rect x="73.4" y="358.5" width="65" height="17.8" fill="#ffffbf"/>
<rect x="137.8" y="358.5" width="123.5" height="17.8" fill="#fec776"/>
<rect x="260.7" y="358.5" width="46.7" height="17.8" fill="#f67a49"/>
<rect x="306.8" y="358.5" width="62" height="17.8" fill="#f99455"/>
<rect x="368.2" y="358.5" width="62" height="17.8" fill="#f16844"/>
<rect x="429.6" y="358.5" width="19" height="17.8" fill="#f99455"/>
<rect x="73.4" y="375.8" width="65" height="17.8" fill="#ffffbf"/>
<rect x="137.8" y="375.8" width="108.1" height="17.8" fill="#fec776"/>
<rect x="245.3" y="375.8" width="77.4" height="17.8" fill="#f67a49"/>
<rect x="322.1" y="375.8" width="31.3" height="17.8" fill="#f99455"/>
<rect x="352.9" y="375.8" width="77.4" height="17.8" fill="#f16844"/>
<rect x="429.6" y="375.8" width="19" height="17.8" fill="#f99455"/>
<rect x="73.4" y="393" width="19" height="17.8" fill="#fee08b"/>
<rect x="91.8" y="393" width="31.3" height="17.8" fill="#ffffbf"/>
<rect x="122.5" y="393" width="77.4" height="17.8" fill="#fec776"/>
<rect x="199.3" y="393" width="108.1" height="17.8" fill="#f67a49"/>
<rect x="306.8" y="393" width="62" height="17.8" fill="#e45649"/>
<rect x="368.2" y="393" width="62" height="17.8" fill="#f16844"/>
<rect x="429.6" y="393" width="19" height="17.8" fill="#f99455"/>
<rect x="73.4" y="410.2" width="19" height="17.8" fill="#fee08b"/>
<rect x="91.8" y="410.2" width="108.1" height="17.8" fill="#fec776"/>
<rect x="199.3" y="410.2" width="108.1" height="17.8" fill="#f67a49"/>
<rect x="306.8" y="410.2" width="77.4" height="17.8" fill="#e45649"/>
<rect x="383.6" y="410.2" width="46.7" height="17.8" fill="#f16844"/>
<rect x="429.6" y="410.2" width="19" height="17.8" fill="#f99455"/>
<rect x="73.4" y="427.5" width="111.1" height="17.8" fill="#fdb365"/>
<rect x="183.9" y="427.5" width="77.4" height="17.8" fill="#f67a49"/>
<rect x="260.7" y="427.5" width="46.7" height="17.8" fill="#db474d"/>
<rect x="306.8" y="427.5" width="62" height="17.8" fill="#e45649"/>
<rect x="368.2" y="427.5" width="62" height="17.8" fill="#db474d"/>
<rect x="429.6" y="427.5" width="19" height="17.8" fill="#f16844"/>
<rect x="73.4" y="444.7" width="65" height="17.8" fill="#fdb365"/>
<rect x="137.8" y="444.7" width="123.5" height="17.8" fill="#f88e52"/>
<rect x="260.7" y="444.7" width="62" height="17.8" fill="#db474d"/>
<rect x="322.1" y="444.7" width="46.7" height="17.8" fill="#e45649"/>
<rect x="368.2" y="444.7" width="62" height="17.8" fill="#db474d"/>
<rect x="429.6" y="444.7" width="19" height="17.8" fill="#f16844"/>
<rect x="73.4" y="462" width="65" height="20.8" fill="#fdb365"/>
<rect x="137.8" y="462" width="108.1" height="20.8" fill="#f88e52"/>
<rect x="245.3" y="462" width="77.4" height="20.8" fill="#db474d"/>
<rect x="322.1" y="462" width="46.7" height="20.8" fill="#ae1346"/>
<rect x="368.2" y="462" width="62" height="20.8" fill="#db474d"/>
<rect x="429.6" y="462" width="19" height="20.8" fill="#d53e4f"/>
</g>
<use href="#ov"/>
<rect x="454.6" y="48.6" width="18" height="430.4" fill="url(#cb)" stroke="#333" stroke-width="1"/>
<text class="b" x="479.8" y="59.0">30</text>
<text class="b" x="479.8" y="107.4">25</text>
<text class="b" x="479.8" y="155.9">20</text>
<text class="b" x="479.8" y="204.3">15</text>
<text class="b" x="479.8" y="252.8">10</text>
<text class="b" x="479.8" y="301.3">5</text>
<text class="b" x="479.8" y="349.7">0</text>
<text class="b" x="479.8" y="398.2">-5</text>
<text class="b" x="479.8" y="446.7">-10</text>
<path d="M472.6 52.2h-3.5M472.6 100.6h-3.5M472.6 149.1h-3.5M472.6 197.5h-3.5M472.6 246.0h-3.5M472.6 294.5h-3.5M472.6 342.9h-3.5M472.6 391.4h-3.5M472.6 439.9h-3.5" stroke="#222" stroke-width="1.2" fill="none"/>
<text class="b" x="463.9" y="36.8" text-anchor="middle">cm</text>
<text class="L" x="433.6" y="85.9" text-anchor="end">(d)</text>
<text class="t" x="71.2" y="427.0" text-anchor="end">25°N</text>
<text class="t" x="71.2" y="358.0" text-anchor="end">26°N</text>
<text class="t" x="71.2" y="288.9" text-anchor="end">27°N</text>
<text class="t" x="71.2" y="219.9" text-anchor="end">28°N</text>
<text class="t" x="71.2" y="150.8" text-anchor="end">29°N</text>
<text class="t" x="71.2" y="81.8" text-anchor="end">30°N</text>
<text class="t" x="84.6" y="499.6" text-anchor="middle">113°E</text>
<text class="t" x="145.8" y="499.6" text-anchor="middle">114°E</text>
<text class="t" x="207.0" y="499.6" text-anchor="middle">115°E</text>
<text class="t" x="268.3" y="499.6" text-anchor="middle">116°E</text>
<text class="t" x="329.5" y="499.6" text-anchor="middle">117°E</text>
<text class="t" x="390.7" y="499.6" text-anchor="middle">118°E</text>
</g>
<g transform="translate(501.5 509.7) scale(1 1.0028)">
<g filter="url(#bl)" clip-path="url(#pc)">
<rect x="73.4" y="45.2" width="374.6" height="437" fill="#eff9a6"/>
<rect x="73.4" y="45.2" width="19" height="20.8" fill="#5758a6"/>
<rect x="91.8" y="45.2" width="16" height="20.8" fill="#476db0"/>
<rect x="107.1" y="45.2" width="16" height="20.8" fill="#3782ba"/>
<rect x="122.5" y="45.2" width="16" height="20.8" fill="#4098b6"/>
<rect x="137.8" y="45.2" width="16" height="20.8" fill="#54aead"/>
<rect x="153.2" y="45.2" width="16" height="20.8" fill="#65c1a6"/>
<rect x="168.6" y="45.2" width="16" height="20.8" fill="#76c8a5"/>
<rect x="183.9" y="45.2" width="16" height="20.8" fill="#89d0a4"/>
<rect x="199.3" y="45.2" width="16" height="20.8" fill="#9ad6a4"/>
<rect x="214.6" y="45.2" width="46.7" height="20.8" fill="#9bd7a4"/>
<rect x="260.7" y="45.2" width="16" height="20.8" fill="#9cd7a4"/>
<rect x="276.1" y="45.2" width="16" height="20.8" fill="#99d6a4"/>
<rect x="291.4" y="45.2" width="16" height="20.8" fill="#96d5a4"/>
<rect x="306.8" y="45.2" width="16" height="20.8" fill="#93d4a4"/>
<rect x="322.1" y="45.2" width="16" height="20.8" fill="#90d3a4"/>
<rect x="337.5" y="45.2" width="16" height="20.8" fill="#8dd1a4"/>
<rect x="352.9" y="45.2" width="16" height="20.8" fill="#8ad0a4"/>
<rect x="368.2" y="45.2" width="16" height="20.8" fill="#86cfa5"/>
<rect x="383.6" y="45.2" width="16" height="20.8" fill="#82cda5"/>
<rect x="398.9" y="45.2" width="16" height="20.8" fill="#7ecba5"/>
<rect x="414.3" y="45.2" width="16" height="20.8" fill="#7acaa5"/>
<rect x="429.6" y="45.2" width="19" height="20.8" fill="#76c8a5"/>
<rect x="73.4" y="65.4" width="19" height="17.8" fill="#545ca8"/>
<rect x="91.8" y="65.4" width="16" height="17.8" fill="#466eb1"/>
<rect x="107.1" y="65.4" width="16" height="17.8" fill="#3782ba"/>
<rect x="122.5" y="65.4" width="16" height="17.8" fill="#429ab6"/>
<rect x="137.8" y="65.4" width="16" height="17.8" fill="#58b2ac"/>
<rect x="153.2" y="65.4" width="16" height="17.8" fill="#6bc4a5"/>
<rect x="168.6" y="65.4" width="16" height="17.8" fill="#7ecca5"/>
<rect x="183.9" y="65.4" width="16" height="17.8" fill="#92d3a4"/>
<rect x="199.3" y="65.4" width="16" height="17.8" fill="#a5dba4"/>
<rect x="214.6" y="65.4" width="16" height="17.8" fill="#a7dba4"/>
<rect x="230" y="65.4" width="16" height="17.8" fill="#a9dca4"/>
<rect x="245.3" y="65.4" width="16" height="17.8" fill="#aadda4"/>
<rect x="260.7" y="65.4" width="16" height="17.8" fill="#acdda4"/>
<rect x="276.1" y="65.4" width="16" height="17.8" fill="#a8dca4"/>
<rect x="291.4" y="65.4" width="16" height="17.8" fill="#a4daa4"/>
<rect x="306.8" y="65.4" width="16" height="17.8" fill="#9fd8a4"/>
<rect x="322.1" y="65.4" width="16" height="17.8" fill="#9bd7a4"/>
<rect x="337.5" y="65.4" width="16" height="17.8" fill="#97d5a4"/>
<rect x="352.9" y="65.4" width="16" height="17.8" fill="#92d3a4"/>
<rect x="368.2" y="65.4" width="16" height="17.8" fill="#8dd1a4"/>
<rect x="383.6" y="65.4" width="16" height="17.8" fill="#88cfa5"/>
<rect x="398.9" y="65.4" width="16" height="17.8" fill="#83cda5"/>
<rect x="414.3" y="65.4" width="16" height="17.8" fill="#7ecca5"/>
<rect x="429.6" y="65.4" width="19" height="17.8" fill="#79caa5"/>
<rect x="73.4" y="82.7" width="19" height="17.8" fill="#515faa"/>
<rect x="91.8" y="82.7" width="16" height="17.8" fill="#4570b2"/>
<rect x="107.1" y="82.7" width="16" height="17.8" fill="#3682ba"/>
<rect x="122.5" y="82.7" width="16" height="17.8" fill="#449cb5"/>
<rect x="137.8" y="82.7" width="16" height="17.8" fill="#5bb6aa"/>
<rect x="153.2" y="82.7" width="16" height="17.8" fill="#71c6a5"/>
<rect x="168.6" y="82.7" width="16" height="17.8" fill="#86cfa5"/>
<rect x="183.9" y="82.7" width="16" height="17.8" fill="#9bd7a4"/>
<rect x="199.3" y="82.7" width="16" height="17.8" fill="#afdfa3"/>
<rect x="214.6" y="82.7" width="16" height="17.8" fill="#b2e0a3"/>
<rect x="230" y="82.7" width="16" height="17.8" fill="#b5e1a2"/>
<rect x="245.3" y="82.7" width="16" height="17.8" fill="#b7e2a1"/>
<rect x="260.7" y="82.7" width="16" height="17.8" fill="#bae3a1"/>
<rect x="276.1" y="82.7" width="16" height="17.8" fill="#b5e1a2"/>
<rect x="291.4" y="82.7" width="16" height="17.8" fill="#b0dfa3"/>
<rect x="306.8" y="82.7" width="16" height="17.8" fill="#abdda4"/>
<rect x="322.1" y="82.7" width="16" height="17.8" fill="#a6dba4"/>
<rect x="337.5" y="82.7" width="16" height="17.8" fill="#a0d9a4"/>
<rect x="352.9" y="82.7" width="16" height="17.8" fill="#9ad6a4"/>
<rect x="368.2" y="82.7" width="16" height="17.8" fill="#94d4a4"/>
<rect x="383.6" y="82.7" width="16" height="17.8" fill="#8ed2a4"/>
<rect x="398.9" y="82.7" width="16" height="17.8" fill="#88cfa5"/>
<rect x="414.3" y="82.7" width="16" height="17.8" fill="#82cda5"/>
<rect x="429.6" y="82.7" width="19" height="17.8" fill="#7dcba5"/>
<rect x="73.4" y="99.9" width="19" height="17.8" fill="#496aaf"/>
<rect x="91.8" y="99.9" width="16" height="17.8" fill="#3f78b5"/>
<rect x="107.1" y="99.9" width="16" height="17.8" fill="#3389bd"/>
<rect x="122.5" y="99.9" width="16" height="17.8" fill="#4ba3b2"/>
<rect x="137.8" y="99.9" width="16" height="17.8" fill="#62bea7"/>
<rect x="153.2" y="99.9" width="16" height="17.8" fill="#7bcaa5"/>
<rect x="168.6" y="99.9" width="16" height="17.8" fill="#91d3a4"/>
<rect x="183.9" y="99.9" width="16" height="17.8" fill="#a6dba4"/>
<rect x="199.3" y="99.9" width="16" height="17.8" fill="#b9e3a1"/>
<rect x="214.6" y="99.9" width="16" height="17.8" fill="#bbe4a1"/>
<rect x="230" y="99.9" width="16" height="17.8" fill="#bee5a0"/>
<rect x="245.3" y="99.9" width="16" height="17.8" fill="#c0e6a0"/>
<rect x="260.7" y="99.9" width="16" height="17.8" fill="#c3e79f"/>
<rect x="276.1" y="99.9" width="16" height="17.8" fill="#bee5a0"/>
<rect x="291.4" y="99.9" width="16" height="17.8" fill="#b9e3a1"/>
<rect x="306.8" y="99.9" width="16" height="17.8" fill="#b3e0a2"/>
<rect x="322.1" y="99.9" width="16" height="17.8" fill="#aedea3"/>
<rect x="337.5" y="99.9" width="16" height="17.8" fill="#a9dca4"/>
<rect x="352.9" y="99.9" width="16" height="17.8" fill="#a2daa4"/>
<rect x="368.2" y="99.9" width="16" height="17.8" fill="#9cd7a4"/>
<rect x="383.6" y="99.9" width="16" height="17.8" fill="#95d4a4"/>
<rect x="398.9" y="99.9" width="16" height="17.8" fill="#8ed2a4"/>
<rect x="414.3" y="99.9" width="16" height="17.8" fill="#88cfa5"/>
<rect x="429.6" y="99.9" width="19" height="17.8" fill="#81cda5"/>
<rect x="73.4" y="117.2" width="19" height="17.8" fill="#4075b4"/>
<rect x="91.8" y="117.2" width="16" height="17.8" fill="#3781ba"/>
<rect x="107.1" y="117.2" width="16" height="17.8" fill="#3990ba"/>
<rect x="122.5" y="117.2" width="16" height="17.8" fill="#52acae"/>
<rect x="137.8" y="117.2" width="16" height="17.8" fill="#6cc4a5"/>
<rect x="153.2" y="117.2" width="16" height="17.8" fill="#86cfa5"/>
<rect x="168.6" y="117.2" width="16" height="17.8" fill="#9cd7a4"/>
<rect x="183.9" y="117.2" width="16" height="17.8" fill="#b0dfa3"/>
<rect x="199.3" y="117.2" width="16" height="17.8" fill="#c2e69f"/>
<rect x="214.6" y="117.2" width="16" height="17.8" fill="#c4e79f"/>
<rect x="230" y="117.2" width="16" height="17.8" fill="#c6e89e"/>
<rect x="245.3" y="117.2" width="16" height="17.8" fill="#c8e99e"/>
<rect x="260.7" y="117.2" width="16" height="17.8" fill="#caea9e"/>
<rect x="276.1" y="117.2" width="16" height="17.8" fill="#c5e89f"/>
<rect x="291.4" y="117.2" width="16" height="17.8" fill="#c0e6a0"/>
<rect x="306.8" y="117.2" width="16" height="17.8" fill="#bbe3a1"/>
<rect x="322.1" y="117.2" width="16" height="17.8" fill="#b6e1a2"/>
<rect x="337.5" y="117.2" width="16" height="17.8" fill="#b1dfa3"/>
<rect x="352.9" y="117.2" width="16" height="17.8" fill="#abdda4"/>
<rect x="368.2" y="117.2" width="16" height="17.8" fill="#a4daa4"/>
<rect x="383.6" y="117.2" width="16" height="17.8" fill="#9cd7a4"/>
<rect x="398.9" y="117.2" width="16" height="17.8" fill="#95d4a4"/>
<rect x="414.3" y="117.2" width="16" height="17.8" fill="#8dd1a4"/>
<rect x="429.6" y="117.2" width="19" height="17.8" fill="#86cea5"/>
<rect x="73.4" y="134.4" width="19" height="17.8" fill="#3781ba"/>
<rect x="91.8" y="134.4" width="16" height="17.8" fill="#348abc"/>
<rect x="107.1" y="134.4" width="16" height="17.8" fill="#4098b7"/>
<rect x="122.5" y="134.4" width="16" height="17.8" fill="#59b4ab"/>
<rect x="137.8" y="134.4" width="16" height="17.8" fill="#76c8a5"/>
<rect x="153.2" y="134.4" width="16" height="17.8" fill="#91d3a4"/>
<rect x="168.6" y="134.4" width="16" height="17.8" fill="#a6dba4"/>
<rect x="183.9" y="134.4" width="16" height="17.8" fill="#b9e3a1"/>
<rect x="199.3" y="134.4" width="16" height="17.8" fill="#cbea9d"/>
<rect x="214.6" y="134.4" width="16" height="17.8" fill="#cdeb9d"/>
<rect x="230" y="134.4" width="16" height="17.8" fill="#ceeb9d"/>
<rect x="245.3" y="134.4" width="16" height="17.8" fill="#d0ec9c"/>
<rect x="260.7" y="134.4" width="16" height="17.8" fill="#d2ed9c"/>
<rect x="276.1" y="134.4" width="16" height="17.8" fill="#cdeb9d"/>
<rect x="291.4" y="134.4" width="16" height="17.8" fill="#c8e99e"/>
<rect x="306.8" y="134.4" width="16" height="17.8" fill="#c2e79f"/>
<rect x="322.1" y="134.4" width="16" height="17.8" fill="#bde4a0"/>
<rect x="337.5" y="134.4" width="16" height="17.8" fill="#b8e2a1"/>
<rect x="352.9" y="134.4" width="16" height="17.8" fill="#b2e0a3"/>
<rect x="368.2" y="134.4" width="16" height="17.8" fill="#abdda4"/>
<rect x="383.6" y="134.4" width="16" height="17.8" fill="#a3daa4"/>
<rect x="398.9" y="134.4" width="16" height="17.8" fill="#9bd7a4"/>
<rect x="414.3" y="134.4" width="16" height="17.8" fill="#93d3a4"/>
<rect x="429.6" y="134.4" width="19" height="17.8" fill="#8ad0a4"/>
<rect x="73.4" y="151.6" width="19" height="17.8" fill="#358bbc"/>
<rect x="91.8" y="151.6" width="16" height="17.8" fill="#3e95b8"/>
<rect x="107.1" y="151.6" width="16" height="17.8" fill="#4ba4b2"/>
<rect x="122.5" y="151.6" width="16" height="17.8" fill="#63bfa6"/>
<rect x="137.8" y="151.6" width="16" height="17.8" fill="#83cda5"/>
<rect x="153.2" y="151.6" width="16" height="17.8" fill="#9dd7a4"/>
<rect x="168.6" y="151.6" width="16" height="17.8" fill="#b1dfa3"/>
<rect x="183.9" y="151.6" width="16" height="17.8" fill="#c2e69f"/>
<rect x="199.3" y="151.6" width="16" height="17.8" fill="#d3ed9c"/>
<rect x="214.6" y="151.6" width="16" height="17.8" fill="#d4ee9c"/>
<rect x="230" y="151.6" width="16" height="17.8" fill="#d6ee9b"/>
<rect x="245.3" y="151.6" width="16" height="17.8" fill="#d7ef9b"/>
<rect x="260.7" y="151.6" width="16" height="17.8" fill="#d8ef9b"/>
<rect x="276.1" y="151.6" width="16" height="17.8" fill="#d3ed9c"/>
<rect x="291.4" y="151.6" width="16" height="17.8" fill="#ceeb9d"/>
<rect x="306.8" y="151.6" width="16" height="17.8" fill="#c9e99e"/>
<rect x="322.1" y="151.6" width="16" height="17.8" fill="#c3e79f"/>
<rect x="337.5" y="151.6" width="16" height="17.8" fill="#bee5a0"/>
<rect x="352.9" y="151.6" width="16" height="17.8" fill="#b8e2a1"/>
<rect x="368.2" y="151.6" width="16" height="17.8" fill="#b1dfa3"/>
<rect x="383.6" y="151.6" width="16" height="17.8" fill="#a9dca4"/>
<rect x="398.9" y="151.6" width="16" height="17.8" fill="#a0d9a4"/>
<rect x="414.3" y="151.6" width="16" height="17.8" fill="#98d5a4"/>
<rect x="429.6" y="151.6" width="19" height="17.8" fill="#8fd2a4"/>
<rect x="73.4" y="168.9" width="19" height="17.8" fill="#3d94b8"/>
<rect x="91.8" y="168.9" width="16" height="17.8" fill="#49a2b2"/>
<rect x="107.1" y="168.9" width="16" height="17.8" fill="#58b2ac"/>
<rect x="122.5" y="168.9" width="16" height="17.8" fill="#72c7a5"/>
<rect x="137.8" y="168.9" width="16" height="17.8" fill="#91d3a4"/>
<rect x="153.2" y="168.9" width="16" height="17.8" fill="#a9dca4"/>
<rect x="168.6" y="168.9" width="16" height="17.8" fill="#bae3a1"/>
<rect x="183.9" y="168.9" width="16" height="17.8" fill="#cbea9e"/>
<rect x="199.3" y="168.9" width="16" height="17.8" fill="#dbf09a"/>
<rect x="214.6" y="168.9" width="31.3" height="17.8" fill="#dcf19a"/>
<rect x="245.3" y="168.9" width="16" height="17.8" fill="#ddf19a"/>
<rect x="260.7" y="168.9" width="16" height="17.8" fill="#def29a"/>
<rect x="276.1" y="168.9" width="16" height="17.8" fill="#d9f09b"/>
<rect x="291.4" y="168.9" width="16" height="17.8" fill="#d3ed9c"/>
<rect x="306.8" y="168.9" width="16" height="17.8" fill="#ceeb9d"/>
<rect x="322.1" y="168.9" width="16" height="17.8" fill="#c9e99e"/>
<rect x="337.5" y="168.9" width="16" height="17.8" fill="#c4e79f"/>
<rect x="352.9" y="168.9" width="16" height="17.8" fill="#bee5a0"/>
<rect x="368.2" y="168.9" width="16" height="17.8" fill="#b6e2a2"/>
<rect x="383.6" y="168.9" width="16" height="17.8" fill="#aedea3"/>
<rect x="398.9" y="168.9" width="16" height="17.8" fill="#a6dba4"/>
<rect x="414.3" y="168.9" width="16" height="17.8" fill="#9dd7a4"/>
<rect x="429.6" y="168.9" width="19" height="17.8" fill="#93d4a4"/>
<rect x="73.4" y="186.1" width="19" height="17.8" fill="#4da6b1"/>
<rect x="91.8" y="186.1" width="16" height="17.8" fill="#57b2ac"/>
<rect x="107.1" y="186.1" width="16" height="17.8" fill="#65c0a6"/>
<rect x="122.5" y="186.1" width="16" height="17.8" fill="#81cda5"/>
<rect x="137.8" y="186.1" width="16" height="17.8" fill="#9fd8a4"/>
<rect x="153.2" y="186.1" width="16" height="17.8" fill="#b4e1a2"/>
<rect x="168.6" y="186.1" width="16" height="17.8" fill="#c4e79f"/>
<rect x="183.9" y="186.1" width="16" height="17.8" fill="#d3ed9c"/>
<rect x="199.3" y="186.1" width="16" height="17.8" fill="#e2f399"/>
<rect x="214.6" y="186.1" width="62" height="17.8" fill="#e3f499"/>
<rect x="276.1" y="186.1" width="16" height="17.8" fill="#def29a"/>
<rect x="291.4" y="186.1" width="16" height="17.8" fill="#d9f09b"/>
<rect x="306.8" y="186.1" width="16" height="17.8" fill="#d4ee9c"/>
<rect x="322.1" y="186.1" width="16" height="17.8" fill="#cfec9d"/>
<rect x="337.5" y="186.1" width="16" height="17.8" fill="#c9e99e"/>
<rect x="352.9" y="186.1" width="16" height="17.8" fill="#c3e79f"/>
<rect x="368.2" y="186.1" width="16" height="17.8" fill="#bbe4a1"/>
<rect x="383.6" y="186.1" width="16" height="17.8" fill="#b3e0a2"/>
<rect x="398.9" y="186.1" width="16" height="17.8" fill="#abdda4"/>
<rect x="414.3" y="186.1" width="16" height="17.8" fill="#a1d9a4"/>
<rect x="429.6" y="186.1" width="19" height="17.8" fill="#98d6a4"/>
<rect x="73.4" y="203.4" width="19" height="17.8" fill="#5db8a9"/>
<rect x="91.8" y="203.4" width="16" height="17.8" fill="#67c2a5"/>
<rect x="107.1" y="203.4" width="16" height="17.8" fill="#77c9a5"/>
<rect x="122.5" y="203.4" width="16" height="17.8" fill="#91d3a4"/>
<rect x="137.8" y="203.4" width="16" height="17.8" fill="#acdda4"/>
<rect x="153.2" y="203.4" width="16" height="17.8" fill="#bee5a0"/>
<rect x="168.6" y="203.4" width="16" height="17.8" fill="#ccea9d"/>
<rect x="183.9" y="203.4" width="16" height="17.8" fill="#dbf09a"/>
<rect x="199.3" y="203.4" width="77.4" height="17.8" fill="#e7f59a"/>
<rect x="276.1" y="203.4" width="16" height="17.8" fill="#e4f498"/>
<rect x="291.4" y="203.4" width="16" height="17.8" fill="#dff299"/>
<rect x="306.8" y="203.4" width="16" height="17.8" fill="#daf09a"/>
<rect x="322.1" y="203.4" width="16" height="17.8" fill="#d5ee9b"/>
<rect x="337.5" y="203.4" width="16" height="17.8" fill="#d1ec9c"/>
<rect x="352.9" y="203.4" width="16" height="17.8" fill="#cbea9e"/>
<rect x="368.2" y="203.4" width="16" height="17.8" fill="#c3e79f"/>
<rect x="383.6" y="203.4" width="16" height="17.8" fill="#bbe3a1"/>
<rect x="398.9" y="203.4" width="16" height="17.8" fill="#b3e0a2"/>
<rect x="414.3" y="203.4" width="16" height="17.8" fill="#abdda4"/>
<rect x="429.6" y="203.4" width="19" height="17.8" fill="#a1d9a4"/>
<rect x="73.4" y="220.6" width="19" height="17.8" fill="#70c6a5"/>
<rect x="91.8" y="220.6" width="16" height="17.8" fill="#7dcba5"/>
<rect x="107.1" y="220.6" width="16" height="17.8" fill="#8cd1a4"/>
<rect x="122.5" y="220.6" width="16" height="17.8" fill="#a2d9a4"/>
<rect x="137.8" y="220.6" width="16" height="17.8" fill="#b6e2a2"/>
<rect x="153.2" y="220.6" width="16" height="17.8" fill="#c6e89e"/>
<rect x="168.6" y="220.6" width="16" height="17.8" fill="#d4ed9c"/>
<rect x="183.9" y="220.6" width="16" height="17.8" fill="#e1f399"/>
<rect x="199.3" y="220.6" width="77.4" height="17.8" fill="#e9f69d"/>
<rect x="276.1" y="220.6" width="16" height="17.8" fill="#e8f69b"/>
<rect x="291.4" y="220.6" width="16" height="17.8" fill="#e6f598"/>
<rect x="306.8" y="220.6" width="16" height="17.8" fill="#e2f399"/>
<rect x="322.1" y="220.6" width="16" height="17.8" fill="#ddf19a"/>
<rect x="337.5" y="220.6" width="16" height="17.8" fill="#d9f09b"/>
<rect x="352.9" y="220.6" width="16" height="17.8" fill="#d4ee9c"/>
<rect x="368.2" y="220.6" width="16" height="17.8" fill="#cdeb9d"/>
<rect x="383.6" y="220.6" width="16" height="17.8" fill="#c5e89f"/>
<rect x="398.9" y="220.6" width="16" height="17.8" fill="#bee5a0"/>
<rect x="414.3" y="220.6" width="16" height="17.8" fill="#b6e2a2"/>
<rect x="429.6" y="220.6" width="19" height="17.8" fill="#afdfa3"/>
<rect x="73.4" y="237.8" width="19" height="17.8" fill="#7dcba5"/>
<rect x="91.8" y="237.8" width="16" height="17.8" fill="#8ad0a4"/>
<rect x="107.1" y="237.8" width="16" height="17.8" fill="#99d6a4"/>
<rect x="122.5" y="237.8" width="16" height="17.8" fill="#addea4"/>
<rect x="137.8" y="237.8" width="16" height="17.8" fill="#c0e5a0"/>
<rect x="153.2" y="237.8" width="16" height="17.8" fill="#ceeb9d"/>
<rect x="168.6" y="237.8" width="16" height="17.8" fill="#dbf09a"/>
<rect x="183.9" y="237.8" width="16" height="17.8" fill="#e7f599"/>
<rect x="199.3" y="237.8" width="77.4" height="17.8" fill="#ecf7a1"/>
<rect x="276.1" y="237.8" width="16" height="17.8" fill="#eaf79f"/>
<rect x="291.4" y="237.8" width="16" height="17.8" fill="#e9f69c"/>
<rect x="306.8" y="237.8" width="16" height="17.8" fill="#e7f59a"/>
<rect x="322.1" y="237.8" width="16" height="17.8" fill="#e5f598"/>
<rect x="337.5" y="237.8" width="16" height="17.8" fill="#e2f399"/>
<rect x="352.9" y="237.8" width="16" height="17.8" fill="#ddf19a"/>
<rect x="368.2" y="237.8" width="16" height="17.8" fill="#d6ef9b"/>
<rect x="383.6" y="237.8" width="16" height="17.8" fill="#d0ec9d"/>
<rect x="398.9" y="237.8" width="16" height="17.8" fill="#c9e99e"/>
<rect x="414.3" y="237.8" width="16" height="17.8" fill="#c2e69f"/>
<rect x="429.6" y="237.8" width="19" height="17.8" fill="#bbe4a1"/>
<rect x="73.4" y="255.1" width="19" height="17.8" fill="#8dd1a4"/>
<rect x="91.8" y="255.1" width="16" height="17.8" fill="#9ad6a4"/>
<rect x="107.1" y="255.1" width="16" height="17.8" fill="#a8dca4"/>
<rect x="122.5" y="255.1" width="16" height="17.8" fill="#bae3a1"/>
<rect x="137.8" y="255.1" width="16" height="17.8" fill="#caea9e"/>
<rect x="153.2" y="255.1" width="16" height="17.8" fill="#d8ef9b"/>
<rect x="168.6" y="255.1" width="16" height="17.8" fill="#e4f498"/>
<rect x="183.9" y="255.1" width="16" height="17.8" fill="#eaf79e"/>
<rect x="199.3" y="255.1" width="77.4" height="17.8" fill="#eff9a6"/>
<rect x="276.1" y="255.1" width="16" height="17.8" fill="#eef8a4"/>
<rect x="291.4" y="255.1" width="16" height="17.8" fill="#ecf8a2"/>
<rect x="306.8" y="255.1" width="16" height="17.8" fill="#ebf7a0"/>
<rect x="322.1" y="255.1" width="16" height="17.8" fill="#eaf69e"/>
<rect x="337.5" y="255.1" width="16" height="17.8" fill="#e8f69c"/>
<rect x="352.9" y="255.1" width="16" height="17.8" fill="#e7f599"/>
<rect x="368.2" y="255.1" width="16" height="17.8" fill="#e2f399"/>
<rect x="383.6" y="255.1" width="16" height="17.8" fill="#dcf19a"/>
<rect x="398.9" y="255.1" width="16" height="17.8" fill="#d7ef9b"/>
<rect x="414.3" y="255.1" width="16" height="17.8" fill="#d1ec9c"/>
<rect x="429.6" y="255.1" width="19" height="17.8" fill="#cbea9d"/>
<rect x="73.4" y="272.3" width="19" height="17.8" fill="#abdda4"/>
<rect x="91.8" y="272.3" width="16" height="17.8" fill="#b6e2a2"/>
<rect x="107.1" y="272.3" width="16" height="17.8" fill="#c2e69f"/>
<rect x="122.5" y="272.3" width="16" height="17.8" fill="#cfeb9d"/>
<rect x="137.8" y="272.3" width="16" height="17.8" fill="#dbf19a"/>
<rect x="153.2" y="272.3" width="16" height="17.8" fill="#e7f599"/>
<rect x="168.6" y="272.3" width="16" height="17.8" fill="#ebf7a1"/>
<rect x="183.9" y="272.3" width="16" height="17.8" fill="#f0f9a8"/>
<rect x="199.3" y="272.3" width="77.4" height="17.8" fill="#f5fbb0"/>
<rect x="276.1" y="272.3" width="16" height="17.8" fill="#f4fbae"/>
<rect x="291.4" y="272.3" width="16" height="17.8" fill="#f3faac"/>
<rect x="306.8" y="272.3" width="16" height="17.8" fill="#f1faaa"/>
<rect x="322.1" y="272.3" width="16" height="17.8" fill="#f0f9a8"/>
<rect x="337.5" y="272.3" width="16" height="17.8" fill="#eff8a5"/>
<rect x="352.9" y="272.3" width="16" height="17.8" fill="#edf8a3"/>
<rect x="368.2" y="272.3" width="16" height="17.8" fill="#ecf7a1"/>
<rect x="383.6" y="272.3" width="16" height="17.8" fill="#ebf79f"/>
<rect x="398.9" y="272.3" width="16" height="17.8" fill="#e9f69d"/>
<rect x="414.3" y="272.3" width="16" height="17.8" fill="#e8f69b"/>
<rect x="429.6" y="272.3" width="19" height="17.8" fill="#e7f599"/>
<rect x="73.4" y="289.6" width="19" height="17.8" fill="#c3e79f"/>
<rect x="91.8" y="289.6" width="16" height="17.8" fill="#cdeb9d"/>
<rect x="107.1" y="289.6" width="16" height="17.8" fill="#d7ef9b"/>
<rect x="122.5" y="289.6" width="16" height="17.8" fill="#e1f399"/>
<rect x="137.8" y="289.6" width="16" height="17.8" fill="#e8f69b"/>
<rect x="153.2" y="289.6" width="16" height="17.8" fill="#edf8a3"/>
<rect x="168.6" y="289.6" width="16" height="17.8" fill="#f2faaa"/>
<rect x="183.9" y="289.6" width="16" height="17.8" fill="#f7fcb2"/>
<rect x="199.3" y="289.6" width="31.3" height="17.8" fill="#fcfeba"/>
<rect x="230" y="289.6" width="16" height="17.8" fill="#fdfebb"/>
<rect x="245.3" y="289.6" width="16" height="17.8" fill="#fdfebc"/>
<rect x="260.7" y="289.6" width="16" height="17.8" fill="#fefebd"/>
<rect x="276.1" y="289.6" width="16" height="17.8" fill="#fcfebb"/>
<rect x="291.4" y="289.6" width="16" height="17.8" fill="#fbfdb9"/>
<rect x="306.8" y="289.6" width="16" height="17.8" fill="#fafdb7"/>
<rect x="322.1" y="289.6" width="16" height="17.8" fill="#f8fcb5"/>
<rect x="337.5" y="289.6" width="16" height="17.8" fill="#f7fcb3"/>
<rect x="352.9" y="289.6" width="16" height="17.8" fill="#f6fbb1"/>
<rect x="368.2" y="289.6" width="16" height="17.8" fill="#f5fbb0"/>
<rect x="383.6" y="289.6" width="16" height="17.8" fill="#f5fbaf"/>
<rect x="398.9" y="289.6" width="16" height="17.8" fill="#f4fbae"/>
<rect x="414.3" y="289.6" width="16" height="17.8" fill="#f4fbad"/>
<rect x="429.6" y="289.6" width="19" height="17.8" fill="#f3faad"/>
<rect x="73.4" y="306.8" width="19" height="17.8" fill="#d8ef9b"/>
<rect x="91.8" y="306.8" width="16" height="17.8" fill="#e1f399"/>
<rect x="107.1" y="306.8" width="16" height="17.8" fill="#e7f59a"/>
<rect x="122.5" y="306.8" width="16" height="17.8" fill="#ebf7a0"/>
<rect x="137.8" y="306.8" width="16" height="17.8" fill="#eff8a6"/>
<rect x="153.2" y="306.8" width="16" height="17.8" fill="#f3faac"/>
<rect x="168.6" y="306.8" width="16" height="17.8" fill="#f8fcb4"/>
<rect x="183.9" y="306.8" width="16" height="17.8" fill="#fdfebc"/>
<rect x="199.3" y="306.8" width="16" height="17.8" fill="#fffbb9"/>
<rect x="214.6" y="306.8" width="16" height="17.8" fill="#fffab6"/>
<rect x="230" y="306.8" width="16" height="17.8" fill="#fff8b4"/>
<rect x="245.3" y="306.8" width="16" height="17.8" fill="#fff7b1"/>
<rect x="260.7" y="306.8" width="16" height="17.8" fill="#fff5af"/>
<rect x="276.1" y="306.8" width="16" height="17.8" fill="#fff7b1"/>
<rect x="291.4" y="306.8" width="16" height="17.8" fill="#fff8b4"/>
<rect x="306.8" y="306.8" width="16" height="17.8" fill="#fffab6"/>
<rect x="322.1" y="306.8" width="16" height="17.8" fill="#fffbb9"/>
<rect x="337.5" y="306.8" width="16" height="17.8" fill="#fffdbc"/>
<rect x="352.9" y="306.8" width="16" height="17.8" fill="#fffebe"/>
<rect x="368.2" y="306.8" width="80.4" height="17.8" fill="#fffebd"/>
<rect x="73.4" y="324" width="19" height="17.8" fill="#e8f69b"/>
<rect x="91.8" y="324" width="16" height="17.8" fill="#ebf79f"/>
<rect x="107.1" y="324" width="16" height="17.8" fill="#edf8a4"/>
<rect x="122.5" y="324" width="16" height="17.8" fill="#f1f9a8"/>
<rect x="137.8" y="324" width="16" height="17.8" fill="#f4faad"/>
<rect x="153.2" y="324" width="16" height="17.8" fill="#f8fcb4"/>
<rect x="168.6" y="324" width="16" height="17.8" fill="#fefebd"/>
<rect x="183.9" y="324" width="16" height="17.8" fill="#fffab7"/>
<rect x="199.3" y="324" width="16" height="17.8" fill="#fff4ac"/>
<rect x="214.6" y="324" width="16" height="17.8" fill="#fff2a8"/>
<rect x="230" y="324" width="16" height="17.8" fill="#feefa5"/>
<rect x="245.3" y="324" width="16" height="17.8" fill="#feeda2"/>
<rect x="260.7" y="324" width="16" height="17.8" fill="#feeb9e"/>
<rect x="276.1" y="324" width="16" height="17.8" fill="#feec9f"/>
<rect x="291.4" y="324" width="16" height="17.8" fill="#feeca0"/>
<rect x="306.8" y="324" width="16" height="17.8" fill="#feeda1"/>
<rect x="322.1" y="324" width="16" height="17.8" fill="#feeda2"/>
<rect x="337.5" y="324" width="31.3" height="17.8" fill="#feeea3"/>
<rect x="368.2" y="324" width="31.3" height="17.8" fill="#feeea2"/>
<rect x="398.9" y="324" width="31.3" height="17.8" fill="#feeda1"/>
<rect x="429.6" y="324" width="19" height="17.8" fill="#feeca0"/>
<rect x="73.4" y="341.3" width="19" height="17.8" fill="#eef8a5"/>
<rect x="91.8" y="341.3" width="16" height="17.8" fill="#f0f9a8"/>
<rect x="107.1" y="341.3" width="16" height="17.8" fill="#f3faac"/>
<rect x="122.5" y="341.3" width="16" height="17.8" fill="#f6fbb1"/>
<rect x="137.8" y="341.3" width="16" height="17.8" fill="#f9fcb5"/>
<rect x="153.2" y="341.3" width="16" height="17.8" fill="#fdfebc"/>
<rect x="168.6" y="341.3" width="16" height="17.8" fill="#fffab7"/>
<rect x="183.9" y="341.3" width="16" height="17.8" fill="#fff3ac"/>
<rect x="199.3" y="341.3" width="16" height="17.8" fill="#feeda0"/>
<rect x="214.6" y="341.3" width="16" height="17.8" fill="#feea9c"/>
<rect x="230" y="341.3" width="16" height="17.8" fill="#fee898"/>
<rect x="245.3" y="341.3" width="16" height="17.8" fill="#fee594"/>
<rect x="260.7" y="341.3" width="16" height="17.8" fill="#fee38f"/>
<rect x="276.1" y="341.3" width="16" height="17.8" fill="#fee28f"/>
<rect x="291.4" y="341.3" width="16" height="17.8" fill="#fee28e"/>
<rect x="306.8" y="341.3" width="31.3" height="17.8" fill="#fee18d"/>
<rect x="337.5" y="341.3" width="16" height="17.8" fill="#fee18c"/>
<rect x="352.9" y="341.3" width="16" height="17.8" fill="#fee08b"/>
<rect x="368.2" y="341.3" width="16" height="17.8" fill="#fedf8a"/>
<rect x="383.6" y="341.3" width="16" height="17.8" fill="#fedd89"/>
<rect x="398.9" y="341.3" width="16" height="17.8" fill="#fedb87"/>
<rect x="414.3" y="341.3" width="16" height="17.8" fill="#feda86"/>
<rect x="429.6" y="341.3" width="19" height="17.8" fill="#fed884"/>
<rect x="73.4" y="358.5" width="19" height="17.8" fill="#f3faac"/>
<rect x="91.8" y="358.5" width="16" height="17.8" fill="#f5fbb0"/>
<rect x="107.1" y="358.5" width="16" height="17.8" fill="#f8fcb4"/>
<rect x="122.5" y="358.5" width="16" height="17.8" fill="#fafdb8"/>
<rect x="137.8" y="358.5" width="16" height="17.8" fill="#fdfebc"/>
<rect x="153.2" y="358.5" width="16" height="17.8" fill="#fffcb9"/>
<rect x="168.6" y="358.5" width="16" height="17.8" fill="#fff5ae"/>
<rect x="183.9" y="358.5" width="16" height="17.8" fill="#feeea2"/>
<rect x="199.3" y="358.5" width="16" height="17.8" fill="#fee796"/>
<rect x="214.6" y="358.5" width="16" height="17.8" fill="#fee491"/>
<rect x="230" y="358.5" width="16" height="17.8" fill="#fee18c"/>
<rect x="245.3" y="358.5" width="16" height="17.8" fill="#fedc88"/>
<rect x="260.7" y="358.5" width="16" height="17.8" fill="#fed884"/>
<rect x="276.1" y="358.5" width="16" height="17.8" fill="#fed682"/>
<rect x="291.4" y="358.5" width="16" height="17.8" fill="#fed481"/>
<rect x="306.8" y="358.5" width="16" height="17.8" fill="#fed280"/>
<rect x="322.1" y="358.5" width="16" height="17.8" fill="#fed17e"/>
<rect x="337.5" y="358.5" width="16" height="17.8" fill="#fecf7d"/>
<rect x="352.9" y="358.5" width="16" height="17.8" fill="#fecd7b"/>
<rect x="368.2" y="358.5" width="16" height="17.8" fill="#feca78"/>
<rect x="383.6" y="358.5" width="16" height="17.8" fill="#fdc675"/>
<rect x="398.9" y="358.5" width="16" height="17.8" fill="#fdc373"/>
<rect x="414.3" y="358.5" width="16" height="17.8" fill="#fdc070"/>
<rect x="429.6" y="358.5" width="19" height="17.8" fill="#fdbc6d"/>
<rect x="73.4" y="375.8" width="19" height="17.8" fill="#f6fbb1"/>
<rect x="91.8" y="375.8" width="16" height="17.8" fill="#f9fcb5"/>
<rect x="107.1" y="375.8" width="16" height="17.8" fill="#fbfdb9"/>
<rect x="122.5" y="375.8" width="16" height="17.8" fill="#feffbe"/>
<rect x="137.8" y="375.8" width="16" height="17.8" fill="#fffbb9"/>
<rect x="153.2" y="375.8" width="16" height="17.8" fill="#fff5af"/>
<rect x="168.6" y="375.8" width="16" height="17.8" fill="#feeea2"/>
<rect x="183.9" y="375.8" width="16" height="17.8" fill="#fee696"/>
<rect x="199.3" y="375.8" width="16" height="17.8" fill="#fedf8a"/>
<rect x="214.6" y="375.8" width="16" height="17.8" fill="#feda86"/>
<rect x="230" y="375.8" width="16" height="17.8" fill="#fed582"/>
<rect x="245.3" y="375.8" width="16" height="17.8" fill="#fed17e"/>
<rect x="260.7" y="375.8" width="16" height="17.8" fill="#fecc7a"/>
<rect x="276.1" y="375.8" width="16" height="17.8" fill="#feca78"/>
<rect x="291.4" y="375.8" width="16" height="17.8" fill="#fec776"/>
<rect x="306.8" y="375.8" width="16" height="17.8" fill="#fdc574"/>
<rect x="322.1" y="375.8" width="16" height="17.8" fill="#fdc272"/>
<rect x="337.5" y="375.8" width="16" height="17.8" fill="#fdc070"/>
<rect x="352.9" y="375.8" width="16" height="17.8" fill="#fdbd6d"/>
<rect x="368.2" y="375.8" width="16" height="17.8" fill="#fdb96a"/>
<rect x="383.6" y="375.8" width="16" height="17.8" fill="#fdb567"/>
<rect x="398.9" y="375.8" width="16" height="17.8" fill="#fdb163"/>
<rect x="414.3" y="375.8" width="16" height="17.8" fill="#fdac60"/>
<rect x="429.6" y="375.8" width="19" height="17.8" fill="#fca75e"/>
<rect x="73.4" y="393" width="19" height="17.8" fill="#fafdb7"/>
<rect x="91.8" y="393" width="16" height="17.8" fill="#fcfebb"/>
<rect x="107.1" y="393" width="16" height="17.8" fill="#ffffbf"/>
<rect x="122.5" y="393" width="16" height="17.8" fill="#fffab7"/>
<rect x="137.8" y="393" width="16" height="17.8" fill="#fff6b0"/>
<rect x="153.2" y="393" width="16" height="17.8" fill="#feefa5"/>
<rect x="168.6" y="393" width="16" height="17.8" fill="#fee797"/>
<rect x="183.9" y="393" width="16" height="17.8" fill="#fedf8a"/>
<rect x="199.3" y="393" width="16" height="17.8" fill="#fed380"/>
<rect x="214.6" y="393" width="16" height="17.8" fill="#fece7c"/>
<rect x="230" y="393" width="16" height="17.8" fill="#feca79"/>
<rect x="245.3" y="393" width="16" height="17.8" fill="#fdc675"/>
<rect x="260.7" y="393" width="16" height="17.8" fill="#fdc171"/>
<rect x="276.1" y="393" width="16" height="17.8" fill="#fdbe6e"/>
<rect x="291.4" y="393" width="16" height="17.8" fill="#fdbb6c"/>
<rect x="306.8" y="393" width="16" height="17.8" fill="#fdb869"/>
<rect x="322.1" y="393" width="16" height="17.8" fill="#fdb466"/>
<rect x="337.5" y="393" width="16" height="17.8" fill="#fdb164"/>
<rect x="352.9" y="393" width="16" height="17.8" fill="#fdae61"/>
<rect x="368.2" y="393" width="16" height="17.8" fill="#fca85e"/>
<rect x="383.6" y="393" width="16" height="17.8" fill="#fba25b"/>
<rect x="398.9" y="393" width="16" height="17.8" fill="#fa9c59"/>
<rect x="414.3" y="393" width="16" height="17.8" fill="#fa9656"/>
<rect x="429.6" y="393" width="19" height="17.8" fill="#f99053"/>
<rect x="73.4" y="410.2" width="19" height="17.8" fill="#ffffbe"/>
<rect x="91.8" y="410.2" width="16" height="17.8" fill="#fffdbb"/>
<rect x="107.1" y="410.2" width="16" height="17.8" fill="#fff9b5"/>
<rect x="122.5" y="410.2" width="16" height="17.8" fill="#fff5ae"/>
<rect x="137.8" y="410.2" width="16" height="17.8" fill="#fff0a6"/>
<rect x="153.2" y="410.2" width="16" height="17.8" fill="#fee99b"/>
<rect x="168.6" y="410.2" width="16" height="17.8" fill="#fee28e"/>
<rect x="183.9" y="410.2" width="16" height="17.8" fill="#fed682"/>
<rect x="199.3" y="410.2" width="16" height="17.8" fill="#fec978"/>
<rect x="214.6" y="410.2" width="16" height="17.8" fill="#fdc574"/>
<rect x="230" y="410.2" width="16" height="17.8" fill="#fdc070"/>
<rect x="245.3" y="410.2" width="16" height="17.8" fill="#fdbb6c"/>
<rect x="260.7" y="410.2" width="16" height="17.8" fill="#fdb668"/>
<rect x="276.1" y="410.2" width="16" height="17.8" fill="#fdb365"/>
<rect x="291.4" y="410.2" width="16" height="17.8" fill="#fdaf62"/>
<rect x="306.8" y="410.2" width="16" height="17.8" fill="#fdab60"/>
<rect x="322.1" y="410.2" width="16" height="17.8" fill="#fca75e"/>
<rect x="337.5" y="410.2" width="16" height="17.8" fill="#fba25b"/>
<rect x="352.9" y="410.2" width="16" height="17.8" fill="#fb9d59"/>
<rect x="368.2" y="410.2" width="16" height="17.8" fill="#fa9656"/>
<rect x="383.6" y="410.2" width="16" height="17.8" fill="#f99053"/>
<rect x="398.9" y="410.2" width="16" height="17.8" fill="#f88950"/>
<rect x="414.3" y="410.2" width="16" height="17.8" fill="#f7824d"/>
<rect x="429.6" y="410.2" width="19" height="17.8" fill="#f67c4a"/>
<rect x="73.4" y="427.5" width="19" height="17.8" fill="#fffab6"/>
<rect x="91.8" y="427.5" width="16" height="17.8" fill="#fff7b1"/>
<rect x="107.1" y="427.5" width="16" height="17.8" fill="#fff3ac"/>
<rect x="122.5" y="427.5" width="16" height="17.8" fill="#feefa5"/>
<rect x="137.8" y="427.5" width="16" height="17.8" fill="#feeb9e"/>
<rect x="153.2" y="427.5" width="16" height="17.8" fill="#fee593"/>
<rect x="168.6" y="427.5" width="16" height="17.8" fill="#feda86"/>
<rect x="183.9" y="427.5" width="16" height="17.8" fill="#fecd7b"/>
<rect x="199.3" y="427.5" width="16" height="17.8" fill="#fdc070"/>
<rect x="214.6" y="427.5" width="16" height="17.8" fill="#fdbb6c"/>
<rect x="230" y="427.5" width="16" height="17.8" fill="#fdb668"/>
<rect x="245.3" y="427.5" width="16" height="17.8" fill="#fdb164"/>
<rect x="260.7" y="427.5" width="16" height="17.8" fill="#fdac60"/>
<rect x="276.1" y="427.5" width="16" height="17.8" fill="#fca75e"/>
<rect x="291.4" y="427.5" width="16" height="17.8" fill="#fba15b"/>
<rect x="306.8" y="427.5" width="16" height="17.8" fill="#fb9c59"/>
<rect x="322.1" y="427.5" width="16" height="17.8" fill="#fa9756"/>
<rect x="337.5" y="427.5" width="16" height="17.8" fill="#f99254"/>
<rect x="352.9" y="427.5" width="16" height="17.8" fill="#f88c51"/>
<rect x="368.2" y="427.5" width="16" height="17.8" fill="#f7854e"/>
<rect x="383.6" y="427.5" width="16" height="17.8" fill="#f67d4b"/>
<rect x="398.9" y="427.5" width="16" height="17.8" fill="#f57647"/>
<rect x="414.3" y="427.5" width="16" height="17.8" fill="#f46f44"/>
<rect x="429.6" y="427.5" width="19" height="17.8" fill="#f16944"/>
<rect x="73.4" y="444.7" width="19" height="17.8" fill="#fff3ab"/>
<rect x="91.8" y="444.7" width="16" height="17.8" fill="#fff0a6"/>
<rect x="107.1" y="444.7" width="16" height="17.8" fill="#feeda1"/>
<rect x="122.5" y="444.7" width="16" height="17.8" fill="#feea9b"/>
<rect x="137.8" y="444.7" width="16" height="17.8" fill="#fee695"/>
<rect x="153.2" y="444.7" width="16" height="17.8" fill="#fee08b"/>
<rect x="168.6" y="444.7" width="16" height="17.8" fill="#fed27f"/>
<rect x="183.9" y="444.7" width="16" height="17.8" fill="#fdc474"/>
<rect x="199.3" y="444.7" width="16" height="17.8" fill="#fdb768"/>
<rect x="214.6" y="444.7" width="16" height="17.8" fill="#fdb264"/>
<rect x="230" y="444.7" width="16" height="17.8" fill="#fdad60"/>
<rect x="245.3" y="444.7" width="16" height="17.8" fill="#fca65d"/>
<rect x="260.7" y="444.7" width="16" height="17.8" fill="#fba05a"/>
<rect x="276.1" y="444.7" width="16" height="17.8" fill="#fa9a58"/>
<rect x="291.4" y="444.7" width="16" height="17.8" fill="#f99455"/>
<rect x="306.8" y="444.7" width="16" height="17.8" fill="#f98e52"/>
<rect x="322.1" y="444.7" width="16" height="17.8" fill="#f88850"/>
<rect x="337.5" y="444.7" width="16" height="17.8" fill="#f7834d"/>
<rect x="352.9" y="444.7" width="16" height="17.8" fill="#f67c4a"/>
<rect x="368.2" y="444.7" width="16" height="17.8" fill="#f57446"/>
<rect x="383.6" y="444.7" width="16" height="17.8" fill="#f36c43"/>
<rect x="398.9" y="444.7" width="16" height="17.8" fill="#f06645"/>
<rect x="414.3" y="444.7" width="16" height="17.8" fill="#ec6046"/>
<rect x="429.6" y="444.7" width="19" height="17.8" fill="#e85a48"/>
<rect x="73.4" y="462" width="19" height="20.8" fill="#fee898"/>
<rect x="91.8" y="462" width="16" height="20.8" fill="#fee594"/>
<rect x="107.1" y="462" width="16" height="20.8" fill="#fee28f"/>
<rect x="122.5" y="462" width="16" height="20.8" fill="#fee08b"/>
<rect x="137.8" y="462" width="16" height="20.8" fill="#fedb87"/>
<rect x="153.2" y="462" width="16" height="20.8" fill="#fed380"/>
<rect x="168.6" y="462" width="16" height="20.8" fill="#fec776"/>
<rect x="183.9" y="462" width="16" height="20.8" fill="#fdbb6c"/>
<rect x="199.3" y="462" width="16" height="20.8" fill="#fdb062"/>
<rect x="214.6" y="462" width="16" height="20.8" fill="#fcaa5f"/>
<rect x="230" y="462" width="16" height="20.8" fill="#fca35c"/>
<rect x="245.3" y="462" width="16" height="20.8" fill="#fb9d59"/>
<rect x="260.7" y="462" width="16" height="20.8" fill="#fa9756"/>
<rect x="276.1" y="462" width="16" height="20.8" fill="#f99053"/>
<rect x="291.4" y="462" width="16" height="20.8" fill="#f88950"/>
<rect x="306.8" y="462" width="16" height="20.8" fill="#f7834d"/>
<rect x="322.1" y="462" width="16" height="20.8" fill="#f67c4a"/>
<rect x="337.5" y="462" width="16" height="20.8" fill="#f57547"/>
<rect x="352.9" y="462" width="16" height="20.8" fill="#f46e44"/>
<rect x="368.2" y="462" width="16" height="20.8" fill="#f06744"/>
<rect x="383.6" y="462" width="16" height="20.8" fill="#ec6146"/>
<rect x="398.9" y="462" width="16" height="20.8" fill="#e85a48"/>
<rect x="414.3" y="462" width="16" height="20.8" fill="#e35449"/>
<rect x="429.6" y="462" width="19" height="20.8" fill="#df4d4b"/>
</g>
<use href="#ov"/>
<rect x="454.6" y="48.6" width="18" height="430.4" fill="url(#cb)" stroke="#333" stroke-width="1"/>
<text class="b" x="479.8" y="103.8">20</text>
<text class="b" x="479.8" y="153.8">15</text>
<text class="b" x="479.8" y="203.7">10</text>
<text class="b" x="479.8" y="253.7">5</text>
<text class="b" x="479.8" y="303.7">0</text>
<text class="b" x="479.8" y="353.6">-5</text>
<text class="b" x="479.8" y="403.6">-10</text>
<text class="b" x="479.8" y="453.5">-15</text>
<path d="M472.6 97.0h-3.5M472.6 147.0h-3.5M472.6 196.9h-3.5M472.6 246.9h-3.5M472.6 296.9h-3.5M472.6 346.8h-3.5M472.6 396.8h-3.5M472.6 446.7h-3.5" stroke="#222" stroke-width="1.2" fill="none"/>
<text class="b" x="463.9" y="36.8" text-anchor="middle">cm</text>
<text class="L" x="433.6" y="85.9" text-anchor="end">(e)</text>
<text class="t" x="84.6" y="499.6" text-anchor="middle">113°E</text>
<text class="t" x="145.8" y="499.6" text-anchor="middle">114°E</text>
<text class="t" x="207.0" y="499.6" text-anchor="middle">115°E</text>
<text class="t" x="268.3" y="499.6" text-anchor="middle">116°E</text>
<text class="t" x="329.5" y="499.6" text-anchor="middle">117°E</text>
<text class="t" x="390.7" y="499.6" text-anchor="middle">118°E</text>
</g>
<g transform="translate(1003.8 509.7) scale(1 1.0028)">
<g filter="url(#bl)" clip-path="url(#pc)">
<rect x="73.4" y="45.2" width="374.6" height="437" fill="#fff1a7"/>
<rect x="73.4" y="45.2" width="19" height="20.8" fill="#496aaf"/>
<rect x="91.8" y="45.2" width="16" height="20.8" fill="#4b68ae"/>
<rect x="107.1" y="45.2" width="16" height="20.8" fill="#4d65ac"/>
<rect x="122.5" y="45.2" width="16" height="20.8" fill="#5062ab"/>
<rect x="137.8" y="45.2" width="16" height="20.8" fill="#525fa9"/>
<rect x="153.2" y="45.2" width="16" height="20.8" fill="#545ca8"/>
<rect x="168.6" y="45.2" width="16" height="20.8" fill="#5659a7"/>
<rect x="183.9" y="45.2" width="16" height="20.8" fill="#5956a5"/>
<rect x="199.3" y="45.2" width="16" height="20.8" fill="#5b53a4"/>
<rect x="214.6" y="45.2" width="16" height="20.8" fill="#5757a6"/>
<rect x="230" y="45.2" width="16" height="20.8" fill="#545ca8"/>
<rect x="245.3" y="45.2" width="16" height="20.8" fill="#5160aa"/>
<rect x="260.7" y="45.2" width="16" height="20.8" fill="#4e64ac"/>
<rect x="276.1" y="45.2" width="16" height="20.8" fill="#456fb1"/>
<rect x="291.4" y="45.2" width="16" height="20.8" fill="#3c7bb7"/>
<rect x="306.8" y="45.2" width="16" height="20.8" fill="#3486bc"/>
<rect x="322.1" y="45.2" width="16" height="20.8" fill="#3b92b9"/>
<rect x="337.5" y="45.2" width="16" height="20.8" fill="#459db4"/>
<rect x="352.9" y="45.2" width="16" height="20.8" fill="#50a9af"/>
<rect x="368.2" y="45.2" width="16" height="20.8" fill="#5bb5aa"/>
<rect x="383.6" y="45.2" width="16" height="20.8" fill="#66c2a5"/>
<rect x="398.9" y="45.2" width="16" height="20.8" fill="#75c8a5"/>
<rect x="414.3" y="45.2" width="16" height="20.8" fill="#82cda5"/>
<rect x="429.6" y="45.2" width="19" height="20.8" fill="#8fd2a4"/>
<rect x="73.4" y="65.4" width="19" height="17.8" fill="#4175b4"/>
<rect x="91.8" y="65.4" width="16" height="17.8" fill="#4273b3"/>
<rect x="107.1" y="65.4" width="16" height="17.8" fill="#4471b2"/>
<rect x="122.5" y="65.4" width="16" height="17.8" fill="#456fb1"/>
<rect x="137.8" y="65.4" width="16" height="17.8" fill="#476db0"/>
<rect x="153.2" y="65.4" width="16" height="17.8" fill="#486baf"/>
<rect x="168.6" y="65.4" width="16" height="17.8" fill="#496aaf"/>
<rect x="183.9" y="65.4" width="16" height="17.8" fill="#4b68ae"/>
<rect x="199.3" y="65.4" width="16" height="17.8" fill="#4c66ad"/>
<rect x="214.6" y="65.4" width="16" height="17.8" fill="#496aaf"/>
<rect x="230" y="65.4" width="16" height="17.8" fill="#466eb1"/>
<rect x="245.3" y="65.4" width="16" height="17.8" fill="#4371b2"/>
<rect x="260.7" y="65.4" width="16" height="17.8" fill="#4075b4"/>
<rect x="276.1" y="65.4" width="16" height="17.8" fill="#3880b9"/>
<rect x="291.4" y="65.4" width="16" height="17.8" fill="#368cbb"/>
<rect x="306.8" y="65.4" width="16" height="17.8" fill="#4098b6"/>
<rect x="322.1" y="65.4" width="16" height="17.8" fill="#4ba4b2"/>
<rect x="337.5" y="65.4" width="16" height="17.8" fill="#55afad"/>
<rect x="352.9" y="65.4" width="16" height="17.8" fill="#60bba8"/>
<rect x="368.2" y="65.4" width="16" height="17.8" fill="#6bc4a5"/>
<rect x="383.6" y="65.4" width="16" height="17.8" fill="#78c9a5"/>
<rect x="398.9" y="65.4" width="16" height="17.8" fill="#85cea5"/>
<rect x="414.3" y="65.4" width="16" height="17.8" fill="#92d3a4"/>
<rect x="429.6" y="65.4" width="19" height="17.8" fill="#9fd8a4"/>
<rect x="73.4" y="82.7" width="19" height="17.8" fill="#388eba"/>
<rect x="91.8" y="82.7" width="16" height="17.8" fill="#368dbb"/>
<rect x="107.1" y="82.7" width="16" height="17.8" fill="#358bbc"/>
<rect x="122.5" y="82.7" width="16" height="17.8" fill="#348abc"/>
<rect x="137.8" y="82.7" width="16" height="17.8" fill="#3288bd"/>
<rect x="153.2" y="82.7" width="16" height="17.8" fill="#3387bd"/>
<rect x="168.6" y="82.7" width="16" height="17.8" fill="#3486bc"/>
<rect x="183.9" y="82.7" width="16" height="17.8" fill="#3584bb"/>
<rect x="199.3" y="82.7" width="16" height="17.8" fill="#3683bb"/>
<rect x="214.6" y="82.7" width="16" height="17.8" fill="#3486bc"/>
<rect x="230" y="82.7" width="16" height="17.8" fill="#3389bd"/>
<rect x="245.3" y="82.7" width="16" height="17.8" fill="#358cbb"/>
<rect x="260.7" y="82.7" width="16" height="17.8" fill="#388fba"/>
<rect x="276.1" y="82.7" width="16" height="17.8" fill="#4199b6"/>
<rect x="291.4" y="82.7" width="16" height="17.8" fill="#4aa3b2"/>
<rect x="306.8" y="82.7" width="16" height="17.8" fill="#54aead"/>
<rect x="322.1" y="82.7" width="16" height="17.8" fill="#5db8a9"/>
<rect x="337.5" y="82.7" width="16" height="17.8" fill="#67c2a5"/>
<rect x="352.9" y="82.7" width="16" height="17.8" fill="#73c7a5"/>
<rect x="368.2" y="82.7" width="16" height="17.8" fill="#7fcca5"/>
<rect x="383.6" y="82.7" width="16" height="17.8" fill="#8bd0a4"/>
<rect x="398.9" y="82.7" width="16" height="17.8" fill="#97d5a4"/>
<rect x="414.3" y="82.7" width="16" height="17.8" fill="#a4daa4"/>
<rect x="429.6" y="82.7" width="19" height="17.8" fill="#b0dfa3"/>
<rect x="73.4" y="99.9" width="19" height="17.8" fill="#51abae"/>
<rect x="91.8" y="99.9" width="16" height="17.8" fill="#50aaaf"/>
<rect x="107.1" y="99.9" width="16" height="17.8" fill="#4fa8b0"/>
<rect x="122.5" y="99.9" width="16" height="17.8" fill="#4ea7b0"/>
<rect x="137.8" y="99.9" width="16" height="17.8" fill="#4ca6b1"/>
<rect x="153.2" y="99.9" width="16" height="17.8" fill="#4ba4b1"/>
<rect x="168.6" y="99.9" width="16" height="17.8" fill="#4aa3b2"/>
<rect x="183.9" y="99.9" width="16" height="17.8" fill="#49a1b3"/>
<rect x="199.3" y="99.9" width="16" height="17.8" fill="#48a0b3"/>
<rect x="214.6" y="99.9" width="16" height="17.8" fill="#4aa3b2"/>
<rect x="230" y="99.9" width="16" height="17.8" fill="#4da6b1"/>
<rect x="245.3" y="99.9" width="16" height="17.8" fill="#4fa9b0"/>
<rect x="260.7" y="99.9" width="16" height="17.8" fill="#52abae"/>
<rect x="276.1" y="99.9" width="16" height="17.8" fill="#5ab4ab"/>
<rect x="291.4" y="99.9" width="16" height="17.8" fill="#62bda7"/>
<rect x="306.8" y="99.9" width="16" height="17.8" fill="#6cc4a5"/>
<rect x="322.1" y="99.9" width="16" height="17.8" fill="#76c8a5"/>
<rect x="337.5" y="99.9" width="16" height="17.8" fill="#81cda5"/>
<rect x="352.9" y="99.9" width="16" height="17.8" fill="#8cd1a4"/>
<rect x="368.2" y="99.9" width="16" height="17.8" fill="#97d5a4"/>
<rect x="383.6" y="99.9" width="16" height="17.8" fill="#a2d9a4"/>
<rect x="398.9" y="99.9" width="16" height="17.8" fill="#acdda4"/>
<rect x="414.3" y="99.9" width="16" height="17.8" fill="#b7e2a2"/>
<rect x="429.6" y="99.9" width="19" height="17.8" fill="#c2e69f"/>
<rect x="73.4" y="117.2" width="19" height="17.8" fill="#6ec5a5"/>
<rect x="91.8" y="117.2" width="16" height="17.8" fill="#6cc4a5"/>
<rect x="107.1" y="117.2" width="16" height="17.8" fill="#6bc4a5"/>
<rect x="122.5" y="117.2" width="16" height="17.8" fill="#69c3a5"/>
<rect x="137.8" y="117.2" width="16" height="17.8" fill="#68c3a5"/>
<rect x="153.2" y="117.2" width="16" height="17.8" fill="#66c2a5"/>
<rect x="168.6" y="117.2" width="16" height="17.8" fill="#65c1a5"/>
<rect x="183.9" y="117.2" width="16" height="17.8" fill="#64c0a6"/>
<rect x="199.3" y="117.2" width="16" height="17.8" fill="#63bea7"/>
<rect x="214.6" y="117.2" width="16" height="17.8" fill="#65c1a5"/>
<rect x="230" y="117.2" width="16" height="17.8" fill="#68c3a5"/>
<rect x="245.3" y="117.2" width="16" height="17.8" fill="#6bc4a5"/>
<rect x="260.7" y="117.2" width="16" height="17.8" fill="#6ec5a5"/>
<rect x="276.1" y="117.2" width="16" height="17.8" fill="#77c9a5"/>
<rect x="291.4" y="117.2" width="16" height="17.8" fill="#81cda5"/>
<rect x="306.8" y="117.2" width="16" height="17.8" fill="#8ad0a4"/>
<rect x="322.1" y="117.2" width="16" height="17.8" fill="#94d4a4"/>
<rect x="337.5" y="117.2" width="16" height="17.8" fill="#9ed8a4"/>
<rect x="352.9" y="117.2" width="16" height="17.8" fill="#a7dca4"/>
<rect x="368.2" y="117.2" width="16" height="17.8" fill="#b0dfa3"/>
<rect x="383.6" y="117.2" width="16" height="17.8" fill="#b8e2a1"/>
<rect x="398.9" y="117.2" width="16" height="17.8" fill="#c1e6a0"/>
<rect x="414.3" y="117.2" width="16" height="17.8" fill="#cbea9e"/>
<rect x="429.6" y="117.2" width="19" height="17.8" fill="#d5ee9b"/>
<rect x="73.4" y="134.4" width="19" height="17.8" fill="#91d3a4"/>
<rect x="91.8" y="134.4" width="16" height="17.8" fill="#90d2a4"/>
<rect x="107.1" y="134.4" width="16" height="17.8" fill="#8fd2a4"/>
<rect x="122.5" y="134.4" width="16" height="17.8" fill="#8ed2a4"/>
<rect x="137.8" y="134.4" width="16" height="17.8" fill="#8dd1a4"/>
<rect x="153.2" y="134.4" width="16" height="17.8" fill="#8cd1a4"/>
<rect x="168.6" y="134.4" width="16" height="17.8" fill="#8bd0a4"/>
<rect x="183.9" y="134.4" width="16" height="17.8" fill="#8ad0a4"/>
<rect x="199.3" y="134.4" width="16" height="17.8" fill="#89d0a4"/>
<rect x="214.6" y="134.4" width="16" height="17.8" fill="#8bd0a4"/>
<rect x="230" y="134.4" width="16" height="17.8" fill="#8dd1a4"/>
<rect x="245.3" y="134.4" width="16" height="17.8" fill="#8fd2a4"/>
<rect x="260.7" y="134.4" width="16" height="17.8" fill="#91d3a4"/>
<rect x="276.1" y="134.4" width="16" height="17.8" fill="#9ad6a4"/>
<rect x="291.4" y="134.4" width="16" height="17.8" fill="#a2daa4"/>
<rect x="306.8" y="134.4" width="16" height="17.8" fill="#abdda4"/>
<rect x="322.1" y="134.4" width="16" height="17.8" fill="#b3e0a2"/>
<rect x="337.5" y="134.4" width="16" height="17.8" fill="#bae3a1"/>
<rect x="352.9" y="134.4" width="16" height="17.8" fill="#c2e69f"/>
<rect x="368.2" y="134.4" width="16" height="17.8" fill="#caea9e"/>
<rect x="383.6" y="134.4" width="16" height="17.8" fill="#d3ed9c"/>
<rect x="398.9" y="134.4" width="16" height="17.8" fill="#dbf09a"/>
<rect x="414.3" y="134.4" width="16" height="17.8" fill="#e4f498"/>
<rect x="429.6" y="134.4" width="19" height="17.8" fill="#e9f69c"/>
<rect x="73.4" y="151.6" width="34.3" height="17.8" fill="#b0dfa3"/>
<rect x="107.1" y="151.6" width="31.3" height="17.8" fill="#afdfa3"/>
<rect x="137.8" y="151.6" width="16" height="17.8" fill="#afdea3"/>
<rect x="153.2" y="151.6" width="31.3" height="17.8" fill="#aedea3"/>
<rect x="183.9" y="151.6" width="31.3" height="17.8" fill="#addea4"/>
<rect x="214.6" y="151.6" width="16" height="17.8" fill="#afdfa3"/>
<rect x="230" y="151.6" width="16" height="17.8" fill="#b1e0a3"/>
<rect x="245.3" y="151.6" width="16" height="17.8" fill="#b3e0a2"/>
<rect x="260.7" y="151.6" width="16" height="17.8" fill="#b5e1a2"/>
<rect x="276.1" y="151.6" width="16" height="17.8" fill="#bce4a1"/>
<rect x="291.4" y="151.6" width="16" height="17.8" fill="#c3e79f"/>
<rect x="306.8" y="151.6" width="16" height="17.8" fill="#cae99e"/>
<rect x="322.1" y="151.6" width="16" height="17.8" fill="#d0ec9c"/>
<rect x="337.5" y="151.6" width="16" height="17.8" fill="#d7ef9b"/>
<rect x="352.9" y="151.6" width="16" height="17.8" fill="#def29a"/>
<rect x="368.2" y="151.6" width="16" height="17.8" fill="#e6f598"/>
<rect x="383.6" y="151.6" width="16" height="17.8" fill="#e9f69d"/>
<rect x="398.9" y="151.6" width="16" height="17.8" fill="#ecf8a2"/>
<rect x="414.3" y="151.6" width="16" height="17.8" fill="#f0f9a7"/>
<rect x="429.6" y="151.6" width="19" height="17.8" fill="#f3faad"/>
<rect x="73.4" y="168.9" width="141.8" height="17.8" fill="#caea9e"/>
<rect x="214.6" y="168.9" width="16" height="17.8" fill="#cdeb9d"/>
<rect x="230" y="168.9" width="16" height="17.8" fill="#d0ec9c"/>
<rect x="245.3" y="168.9" width="16" height="17.8" fill="#d3ed9c"/>
<rect x="260.7" y="168.9" width="16" height="17.8" fill="#d6ef9b"/>
<rect x="276.1" y="168.9" width="16" height="17.8" fill="#dcf19a"/>
<rect x="291.4" y="168.9" width="16" height="17.8" fill="#e3f499"/>
<rect x="306.8" y="168.9" width="16" height="17.8" fill="#e7f59a"/>
<rect x="322.1" y="168.9" width="16" height="17.8" fill="#eaf79e"/>
<rect x="337.5" y="168.9" width="16" height="17.8" fill="#ecf8a2"/>
<rect x="352.9" y="168.9" width="16" height="17.8" fill="#eff9a6"/>
<rect x="368.2" y="168.9" width="16" height="17.8" fill="#f2faab"/>
<rect x="383.6" y="168.9" width="16" height="17.8" fill="#f5fbaf"/>
<rect x="398.9" y="168.9" width="16" height="17.8" fill="#f8fcb3"/>
<rect x="414.3" y="168.9" width="16" height="17.8" fill="#fbfdb9"/>
<rect x="429.6" y="168.9" width="19" height="17.8" fill="#feffbe"/>
<rect x="73.4" y="186.1" width="141.8" height="17.8" fill="#e1f399"/>
<rect x="214.6" y="186.1" width="16" height="17.8" fill="#e5f498"/>
<rect x="230" y="186.1" width="16" height="17.8" fill="#e7f59a"/>
<rect x="245.3" y="186.1" width="16" height="17.8" fill="#e9f69c"/>
<rect x="260.7" y="186.1" width="16" height="17.8" fill="#eaf79f"/>
<rect x="276.1" y="186.1" width="16" height="17.8" fill="#edf8a3"/>
<rect x="291.4" y="186.1" width="16" height="17.8" fill="#f0f9a7"/>
<rect x="306.8" y="186.1" width="16" height="17.8" fill="#f2faab"/>
<rect x="322.1" y="186.1" width="16" height="17.8" fill="#f5fbaf"/>
<rect x="337.5" y="186.1" width="16" height="17.8" fill="#f8fcb3"/>
<rect x="352.9" y="186.1" width="16" height="17.8" fill="#fafdb8"/>
<rect x="368.2" y="186.1" width="16" height="17.8" fill="#fdfebc"/>
<rect x="383.6" y="186.1" width="16" height="17.8" fill="#fffebd"/>
<rect x="398.9" y="186.1" width="16" height="17.8" fill="#fffab7"/>
<rect x="414.3" y="186.1" width="16" height="17.8" fill="#fff6b0"/>
<rect x="429.6" y="186.1" width="19" height="17.8" fill="#fff2a9"/>
<rect x="73.4" y="203.4" width="19" height="17.8" fill="#ecf8a2"/>
<rect x="91.8" y="203.4" width="31.3" height="17.8" fill="#edf8a2"/>
<rect x="122.5" y="203.4" width="92.8" height="17.8" fill="#edf8a3"/>
<rect x="214.6" y="203.4" width="16" height="17.8" fill="#eff9a6"/>
<rect x="230" y="203.4" width="16" height="17.8" fill="#f1f9a9"/>
<rect x="245.3" y="203.4" width="16" height="17.8" fill="#f3faac"/>
<rect x="260.7" y="203.4" width="16" height="17.8" fill="#f5fbaf"/>
<rect x="276.1" y="203.4" width="16" height="17.8" fill="#f8fcb3"/>
<rect x="291.4" y="203.4" width="16" height="17.8" fill="#fafdb8"/>
<rect x="306.8" y="203.4" width="16" height="17.8" fill="#fdfebc"/>
<rect x="322.1" y="203.4" width="16" height="17.8" fill="#fffdbc"/>
<rect x="337.5" y="203.4" width="16" height="17.8" fill="#fffab6"/>
<rect x="352.9" y="203.4" width="16" height="17.8" fill="#fff6b0"/>
<rect x="368.2" y="203.4" width="16" height="17.8" fill="#fff3aa"/>
<rect x="383.6" y="203.4" width="16" height="17.8" fill="#feefa4"/>
<rect x="398.9" y="203.4" width="16" height="17.8" fill="#feec9f"/>
<rect x="414.3" y="203.4" width="16" height="17.8" fill="#fee898"/>
<rect x="429.6" y="203.4" width="19" height="17.8" fill="#fee492"/>
<rect x="73.4" y="220.6" width="19" height="17.8" fill="#f4fbaf"/>
<rect x="91.8" y="220.6" width="31.3" height="17.8" fill="#f5fbaf"/>
<rect x="122.5" y="220.6" width="16" height="17.8" fill="#f5fbb0"/>
<rect x="137.8" y="220.6" width="16" height="17.8" fill="#f6fbb0"/>
<rect x="153.2" y="220.6" width="31.3" height="17.8" fill="#f6fbb1"/>
<rect x="183.9" y="220.6" width="16" height="17.8" fill="#f6fcb2"/>
<rect x="199.3" y="220.6" width="16" height="17.8" fill="#f7fcb2"/>
<rect x="214.6" y="220.6" width="16" height="17.8" fill="#f9fcb5"/>
<rect x="230" y="220.6" width="16" height="17.8" fill="#fafdb8"/>
<rect x="245.3" y="220.6" width="16" height="17.8" fill="#fcfebb"/>
<rect x="260.7" y="220.6" width="16" height="17.8" fill="#feffbe"/>
<rect x="276.1" y="220.6" width="16" height="17.8" fill="#fffcba"/>
<rect x="291.4" y="220.6" width="16" height="17.8" fill="#fff8b2"/>
<rect x="306.8" y="220.6" width="16" height="17.8" fill="#fff3ab"/>
<rect x="322.1" y="220.6" width="16" height="17.8" fill="#feefa4"/>
<rect x="337.5" y="220.6" width="16" height="17.8" fill="#feeb9d"/>
<rect x="352.9" y="220.6" width="16" height="17.8" fill="#fee696"/>
<rect x="368.2" y="220.6" width="16" height="17.8" fill="#fee390"/>
<rect x="383.6" y="220.6" width="16" height="17.8" fill="#fedf8a"/>
<rect x="398.9" y="220.6" width="16" height="17.8" fill="#feda86"/>
<rect x="414.3" y="220.6" width="16" height="17.8" fill="#fed481"/>
<rect x="429.6" y="220.6" width="19" height="17.8" fill="#fed07d"/>
<rect x="73.4" y="237.8" width="19" height="17.8" fill="#fffebd"/>
<rect x="91.8" y="237.8" width="16" height="17.8" fill="#fffebc"/>
<rect x="107.1" y="237.8" width="16" height="17.8" fill="#fffdbc"/>
<rect x="122.5" y="237.8" width="16" height="17.8" fill="#fffdbb"/>
<rect x="137.8" y="237.8" width="16" height="17.8" fill="#fffcbb"/>
<rect x="153.2" y="237.8" width="16" height="17.8" fill="#fffcba"/>
<rect x="168.6" y="237.8" width="16" height="17.8" fill="#fffcb9"/>
<rect x="183.9" y="237.8" width="16" height="17.8" fill="#fffbb9"/>
<rect x="199.3" y="237.8" width="16" height="17.8" fill="#fffbb8"/>
<rect x="214.6" y="237.8" width="16" height="17.8" fill="#fff9b5"/>
<rect x="230" y="237.8" width="16" height="17.8" fill="#fff7b2"/>
<rect x="245.3" y="237.8" width="16" height="17.8" fill="#fff5af"/>
<rect x="260.7" y="237.8" width="16" height="17.8" fill="#fff3ac"/>
<rect x="276.1" y="237.8" width="16" height="17.8" fill="#feefa4"/>
<rect x="291.4" y="237.8" width="16" height="17.8" fill="#feeb9d"/>
<rect x="306.8" y="237.8" width="16" height="17.8" fill="#fee696"/>
<rect x="322.1" y="237.8" width="16" height="17.8" fill="#fee28e"/>
<rect x="337.5" y="237.8" width="16" height="17.8" fill="#fedc88"/>
<rect x="352.9" y="237.8" width="16" height="17.8" fill="#fed682"/>
<rect x="368.2" y="237.8" width="16" height="17.8" fill="#fed17e"/>
<rect x="383.6" y="237.8" width="16" height="17.8" fill="#fecc7a"/>
<rect x="398.9" y="237.8" width="16" height="17.8" fill="#fec776"/>
<rect x="414.3" y="237.8" width="16" height="17.8" fill="#fdc272"/>
<rect x="429.6" y="237.8" width="19" height="17.8" fill="#fdbe6e"/>
<rect x="73.4" y="255.1" width="34.3" height="17.8" fill="#fff0a6"/>
<rect x="107.1" y="255.1" width="16" height="17.8" fill="#feefa5"/>
<rect x="122.5" y="255.1" width="31.3" height="17.8" fill="#feefa4"/>
<rect x="153.2" y="255.1" width="16" height="17.8" fill="#feeea3"/>
<rect x="168.6" y="255.1" width="16" height="17.8" fill="#feeea2"/>
<rect x="183.9" y="255.1" width="31.3" height="17.8" fill="#feeda1"/>
<rect x="214.6" y="255.1" width="16" height="17.8" fill="#feeb9e"/>
<rect x="230" y="255.1" width="16" height="17.8" fill="#feea9b"/>
<rect x="245.3" y="255.1" width="16" height="17.8" fill="#fee899"/>
<rect x="260.7" y="255.1" width="16" height="17.8" fill="#fee696"/>
<rect x="276.1" y="255.1" width="16" height="17.8" fill="#fee28f"/>
<rect x="291.4" y="255.1" width="16" height="17.8" fill="#fedd88"/>
<rect x="306.8" y="255.1" width="16" height="17.8" fill="#fed683"/>
<rect x="322.1" y="255.1" width="16" height="17.8" fill="#fecf7d"/>
<rect x="337.5" y="255.1" width="16" height="17.8" fill="#fec977"/>
<rect x="352.9" y="255.1" width="16" height="17.8" fill="#fdc272"/>
<rect x="368.2" y="255.1" width="16" height="17.8" fill="#fdbe6f"/>
<rect x="383.6" y="255.1" width="16" height="17.8" fill="#fdba6b"/>
<rect x="398.9" y="255.1" width="16" height="17.8" fill="#fdb668"/>
<rect x="414.3" y="255.1" width="16" height="17.8" fill="#fdb264"/>
<rect x="429.6" y="255.1" width="19" height="17.8" fill="#fdae61"/>
<rect x="73.4" y="272.3" width="19" height="17.8" fill="#fee696"/>
<rect x="91.8" y="272.3" width="16" height="17.8" fill="#fee695"/>
<rect x="107.1" y="272.3" width="16" height="17.8" fill="#fee594"/>
<rect x="122.5" y="272.3" width="16" height="17.8" fill="#fee492"/>
<rect x="137.8" y="272.3" width="16" height="17.8" fill="#fee491"/>
<rect x="153.2" y="272.3" width="16" height="17.8" fill="#fee390"/>
<rect x="168.6" y="272.3" width="16" height="17.8" fill="#fee28f"/>
<rect x="183.9" y="272.3" width="16" height="17.8" fill="#fee28e"/>
<rect x="199.3" y="272.3" width="16" height="17.8" fill="#fee18d"/>
<rect x="214.6" y="272.3" width="16" height="17.8" fill="#fede8a"/>
<rect x="230" y="272.3" width="16" height="17.8" fill="#fedb87"/>
<rect x="245.3" y="272.3" width="16" height="17.8" fill="#fed884"/>
<rect x="260.7" y="272.3" width="16" height="17.8" fill="#fed481"/>
<rect x="276.1" y="272.3" width="16" height="17.8" fill="#fecf7c"/>
<rect x="291.4" y="272.3" width="16" height="17.8" fill="#fec978"/>
<rect x="306.8" y="272.3" width="16" height="17.8" fill="#fdc373"/>
<rect x="322.1" y="272.3" width="16" height="17.8" fill="#fdbe6e"/>
<rect x="337.5" y="272.3" width="16" height="17.8" fill="#fdb869"/>
<rect x="352.9" y="272.3" width="16" height="17.8" fill="#fdb365"/>
<rect x="368.2" y="272.3" width="16" height="17.8" fill="#fdb062"/>
<rect x="383.6" y="272.3" width="16" height="17.8" fill="#fdac60"/>
<rect x="398.9" y="272.3" width="16" height="17.8" fill="#fca85e"/>
<rect x="414.3" y="272.3" width="16" height="17.8" fill="#fca45c"/>
<rect x="429.6" y="272.3" width="19" height="17.8" fill="#fba05b"/>
<rect x="73.4" y="289.6" width="19" height="17.8" fill="#fedb86"/>
<rect x="91.8" y="289.6" width="16" height="17.8" fill="#fed985"/>
<rect x="107.1" y="289.6" width="16" height="17.8" fill="#fed884"/>
<rect x="122.5" y="289.6" width="16" height="17.8" fill="#fed783"/>
<rect x="137.8" y="289.6" width="16" height="17.8" fill="#fed682"/>
<rect x="153.2" y="289.6" width="16" height="17.8" fill="#fed581"/>
<rect x="168.6" y="289.6" width="16" height="17.8" fill="#fed380"/>
<rect x="183.9" y="289.6" width="16" height="17.8" fill="#fed27f"/>
<rect x="199.3" y="289.6" width="16" height="17.8" fill="#fed17e"/>
<rect x="214.6" y="289.6" width="16" height="17.8" fill="#fecd7b"/>
<rect x="230" y="289.6" width="16" height="17.8" fill="#fec978"/>
<rect x="245.3" y="289.6" width="16" height="17.8" fill="#fdc675"/>
<rect x="260.7" y="289.6" width="16" height="17.8" fill="#fdc272"/>
<rect x="276.1" y="289.6" width="16" height="17.8" fill="#fdbe6e"/>
<rect x="291.4" y="289.6" width="16" height="17.8" fill="#fdb96a"/>
<rect x="306.8" y="289.6" width="16" height="17.8" fill="#fdb466"/>
<rect x="322.1" y="289.6" width="16" height="17.8" fill="#fdb063"/>
<rect x="337.5" y="289.6" width="16" height="17.8" fill="#fdaa5f"/>
<rect x="352.9" y="289.6" width="16" height="17.8" fill="#fca55d"/>
<rect x="368.2" y="289.6" width="16" height="17.8" fill="#fba15b"/>
<rect x="383.6" y="289.6" width="16" height="17.8" fill="#fb9e5a"/>
<rect x="398.9" y="289.6" width="16" height="17.8" fill="#fa9a58"/>
<rect x="414.3" y="289.6" width="16" height="17.8" fill="#fa9756"/>
<rect x="429.6" y="289.6" width="19" height="17.8" fill="#f99455"/>
<rect x="73.4" y="306.8" width="19" height="17.8" fill="#fecb79"/>
<rect x="91.8" y="306.8" width="16" height="17.8" fill="#fec978"/>
<rect x="107.1" y="306.8" width="16" height="17.8" fill="#fec877"/>
<rect x="122.5" y="306.8" width="16" height="17.8" fill="#fec776"/>
<rect x="137.8" y="306.8" width="16" height="17.8" fill="#fdc675"/>
<rect x="153.2" y="306.8" width="16" height="17.8" fill="#fdc574"/>
<rect x="168.6" y="306.8" width="16" height="17.8" fill="#fdc373"/>
<rect x="183.9" y="306.8" width="16" height="17.8" fill="#fdc272"/>
<rect x="199.3" y="306.8" width="16" height="17.8" fill="#fdc171"/>
<rect x="214.6" y="306.8" width="16" height="17.8" fill="#fdbd6e"/>
<rect x="230" y="306.8" width="16" height="17.8" fill="#fdba6b"/>
<rect x="245.3" y="306.8" width="16" height="17.8" fill="#fdb668"/>
<rect x="260.7" y="306.8" width="16" height="17.8" fill="#fdb265"/>
<rect x="276.1" y="306.8" width="16" height="17.8" fill="#fdaf62"/>
<rect x="291.4" y="306.8" width="16" height="17.8" fill="#fdab5f"/>
<rect x="306.8" y="306.8" width="16" height="17.8" fill="#fca65d"/>
<rect x="322.1" y="306.8" width="16" height="17.8" fill="#fba25b"/>
<rect x="337.5" y="306.8" width="16" height="17.8" fill="#fb9d59"/>
<rect x="352.9" y="306.8" width="16" height="17.8" fill="#fa9957"/>
<rect x="368.2" y="306.8" width="16" height="17.8" fill="#fa9556"/>
<rect x="383.6" y="306.8" width="16" height="17.8" fill="#f99154"/>
<rect x="398.9" y="306.8" width="16" height="17.8" fill="#f98e52"/>
<rect x="414.3" y="306.8" width="16" height="17.8" fill="#f88b51"/>
<rect x="429.6" y="306.8" width="19" height="17.8" fill="#f8884f"/>
<rect x="73.4" y="324" width="19" height="17.8" fill="#fdbb6c"/>
<rect x="91.8" y="324" width="16" height="17.8" fill="#fdba6b"/>
<rect x="107.1" y="324" width="16" height="17.8" fill="#fdb86a"/>
<rect x="122.5" y="324" width="16" height="17.8" fill="#fdb769"/>
<rect x="137.8" y="324" width="16" height="17.8" fill="#fdb668"/>
<rect x="153.2" y="324" width="16" height="17.8" fill="#fdb567"/>
<rect x="168.6" y="324" width="16" height="17.8" fill="#fdb466"/>
<rect x="183.9" y="324" width="16" height="17.8" fill="#fdb265"/>
<rect x="199.3" y="324" width="16" height="17.8" fill="#fdb164"/>
<rect x="214.6" y="324" width="16" height="17.8" fill="#fdae61"/>
<rect x="230" y="324" width="16" height="17.8" fill="#fdab5f"/>
<rect x="245.3" y="324" width="16" height="17.8" fill="#fca75e"/>
<rect x="260.7" y="324" width="16" height="17.8" fill="#fca35c"/>
<rect x="276.1" y="324" width="16" height="17.8" fill="#fb9f5a"/>
<rect x="291.4" y="324" width="16" height="17.8" fill="#fa9c59"/>
<rect x="306.8" y="324" width="16" height="17.8" fill="#fa9857"/>
<rect x="322.1" y="324" width="16" height="17.8" fill="#f99455"/>
<rect x="337.5" y="324" width="16" height="17.8" fill="#f99053"/>
<rect x="352.9" y="324" width="16" height="17.8" fill="#f88c52"/>
<rect x="368.2" y="324" width="16" height="17.8" fill="#f88950"/>
<rect x="383.6" y="324" width="16" height="17.8" fill="#f7854e"/>
<rect x="398.9" y="324" width="16" height="17.8" fill="#f7814c"/>
<rect x="414.3" y="324" width="16" height="17.8" fill="#f67e4b"/>
<rect x="429.6" y="324" width="19" height="17.8" fill="#f67b4a"/>
<rect x="73.4" y="341.3" width="19" height="17.8" fill="#fdae61"/>
<rect x="91.8" y="341.3" width="16" height="17.8" fill="#fdac60"/>
<rect x="107.1" y="341.3" width="16" height="17.8" fill="#fdab60"/>
<rect x="122.5" y="341.3" width="16" height="17.8" fill="#fca95f"/>
<rect x="137.8" y="341.3" width="16" height="17.8" fill="#fca85e"/>
<rect x="153.2" y="341.3" width="16" height="17.8" fill="#fca65d"/>
<rect x="168.6" y="341.3" width="16" height="17.8" fill="#fca55d"/>
<rect x="183.9" y="341.3" width="16" height="17.8" fill="#fba35c"/>
<rect x="199.3" y="341.3" width="16" height="17.8" fill="#fba25b"/>
<rect x="214.6" y="341.3" width="16" height="17.8" fill="#fb9e5a"/>
<rect x="230" y="341.3" width="16" height="17.8" fill="#fa9b58"/>
<rect x="245.3" y="341.3" width="16" height="17.8" fill="#fa9857"/>
<rect x="260.7" y="341.3" width="16" height="17.8" fill="#fa9555"/>
<rect x="276.1" y="341.3" width="16" height="17.8" fill="#f99154"/>
<rect x="291.4" y="341.3" width="16" height="17.8" fill="#f98e52"/>
<rect x="306.8" y="341.3" width="16" height="17.8" fill="#f88a51"/>
<rect x="322.1" y="341.3" width="16" height="17.8" fill="#f8874f"/>
<rect x="337.5" y="341.3" width="16" height="17.8" fill="#f7844d"/>
<rect x="352.9" y="341.3" width="16" height="17.8" fill="#f7804c"/>
<rect x="368.2" y="341.3" width="16" height="17.8" fill="#f67c4a"/>
<rect x="383.6" y="341.3" width="16" height="17.8" fill="#f67948"/>
<rect x="398.9" y="341.3" width="16" height="17.8" fill="#f57547"/>
<rect x="414.3" y="341.3" width="16" height="17.8" fill="#f57245"/>
<rect x="429.6" y="341.3" width="19" height="17.8" fill="#f46f44"/>
<rect x="73.4" y="358.5" width="19" height="17.8" fill="#fba25b"/>
<rect x="91.8" y="358.5" width="16" height="17.8" fill="#fba05b"/>
<rect x="107.1" y="358.5" width="16" height="17.8" fill="#fb9f5a"/>
<rect x="122.5" y="358.5" width="16" height="17.8" fill="#fb9d59"/>
<rect x="137.8" y="358.5" width="16" height="17.8" fill="#fa9b58"/>
<rect x="153.2" y="358.5" width="16" height="17.8" fill="#fa9a58"/>
<rect x="168.6" y="358.5" width="16" height="17.8" fill="#fa9857"/>
<rect x="183.9" y="358.5" width="16" height="17.8" fill="#fa9756"/>
<rect x="199.3" y="358.5" width="16" height="17.8" fill="#fa9556"/>
<rect x="214.6" y="358.5" width="16" height="17.8" fill="#f99254"/>
<rect x="230" y="358.5" width="16" height="17.8" fill="#f98f53"/>
<rect x="245.3" y="358.5" width="16" height="17.8" fill="#f88c51"/>
<rect x="260.7" y="358.5" width="16" height="17.8" fill="#f88850"/>
<rect x="276.1" y="358.5" width="16" height="17.8" fill="#f7854e"/>
<rect x="291.4" y="358.5" width="16" height="17.8" fill="#f7824c"/>
<rect x="306.8" y="358.5" width="16" height="17.8" fill="#f67e4b"/>
<rect x="322.1" y="358.5" width="16" height="17.8" fill="#f67b49"/>
<rect x="337.5" y="358.5" width="16" height="17.8" fill="#f57748"/>
<rect x="352.9" y="358.5" width="16" height="17.8" fill="#f57446"/>
<rect x="368.2" y="358.5" width="16" height="17.8" fill="#f47044"/>
<rect x="383.6" y="358.5" width="16" height="17.8" fill="#f46d43"/>
<rect x="398.9" y="358.5" width="16" height="17.8" fill="#f26a44"/>
<rect x="414.3" y="358.5" width="16" height="17.8" fill="#f06844"/>
<rect x="429.6" y="358.5" width="19" height="17.8" fill="#ef6545"/>
<rect x="73.4" y="375.8" width="19" height="17.8" fill="#f99455"/>
<rect x="91.8" y="375.8" width="16" height="17.8" fill="#f99254"/>
<rect x="107.1" y="375.8" width="16" height="17.8" fill="#f99154"/>
<rect x="122.5" y="375.8" width="16" height="17.8" fill="#f99053"/>
<rect x="137.8" y="375.8" width="16" height="17.8" fill="#f98e52"/>
<rect x="153.2" y="375.8" width="16" height="17.8" fill="#f88d52"/>
<rect x="168.6" y="375.8" width="16" height="17.8" fill="#f88c51"/>
<rect x="183.9" y="375.8" width="16" height="17.8" fill="#f88a50"/>
<rect x="199.3" y="375.8" width="16" height="17.8" fill="#f88950"/>
<rect x="214.6" y="375.8" width="16" height="17.8" fill="#f7864e"/>
<rect x="230" y="375.8" width="16" height="17.8" fill="#f7824d"/>
<rect x="245.3" y="375.8" width="16" height="17.8" fill="#f77f4b"/>
<rect x="260.7" y="375.8" width="16" height="17.8" fill="#f67c4a"/>
<rect x="276.1" y="375.8" width="16" height="17.8" fill="#f67848"/>
<rect x="291.4" y="375.8" width="16" height="17.8" fill="#f57546"/>
<rect x="306.8" y="375.8" width="16" height="17.8" fill="#f57145"/>
<rect x="322.1" y="375.8" width="16" height="17.8" fill="#f46d43"/>
<rect x="337.5" y="375.8" width="16" height="17.8" fill="#f26a44"/>
<rect x="352.9" y="375.8" width="16" height="17.8" fill="#f16844"/>
<rect x="368.2" y="375.8" width="16" height="17.8" fill="#ef6545"/>
<rect x="383.6" y="375.8" width="16" height="17.8" fill="#ee6346"/>
<rect x="398.9" y="375.8" width="16" height="17.8" fill="#ec6146"/>
<rect x="414.3" y="375.8" width="16" height="17.8" fill="#eb5f47"/>
<rect x="429.6" y="375.8" width="19" height="17.8" fill="#e95c47"/>
<rect x="73.4" y="393" width="19" height="17.8" fill="#f7854e"/>
<rect x="91.8" y="393" width="16" height="17.8" fill="#f7844e"/>
<rect x="107.1" y="393" width="16" height="17.8" fill="#f7834d"/>
<rect x="122.5" y="393" width="16" height="17.8" fill="#f7824d"/>
<rect x="137.8" y="393" width="16" height="17.8" fill="#f7814c"/>
<rect x="153.2" y="393" width="16" height="17.8" fill="#f77f4b"/>
<rect x="168.6" y="393" width="16" height="17.8" fill="#f67e4b"/>
<rect x="183.9" y="393" width="16" height="17.8" fill="#f67d4a"/>
<rect x="199.3" y="393" width="16" height="17.8" fill="#f67c4a"/>
<rect x="214.6" y="393" width="16" height="17.8" fill="#f67948"/>
<rect x="230" y="393" width="16" height="17.8" fill="#f57547"/>
<rect x="245.3" y="393" width="16" height="17.8" fill="#f57245"/>
<rect x="260.7" y="393" width="16" height="17.8" fill="#f46f44"/>
<rect x="276.1" y="393" width="16" height="17.8" fill="#f36c43"/>
<rect x="291.4" y="393" width="16" height="17.8" fill="#f16944"/>
<rect x="306.8" y="393" width="16" height="17.8" fill="#ef6645"/>
<rect x="322.1" y="393" width="16" height="17.8" fill="#ed6346"/>
<rect x="337.5" y="393" width="16" height="17.8" fill="#eb6046"/>
<rect x="352.9" y="393" width="16" height="17.8" fill="#ea5d47"/>
<rect x="368.2" y="393" width="16" height="17.8" fill="#e85c47"/>
<rect x="383.6" y="393" width="16" height="17.8" fill="#e75a48"/>
<rect x="398.9" y="393" width="16" height="17.8" fill="#e65848"/>
<rect x="414.3" y="393" width="16" height="17.8" fill="#e55649"/>
<rect x="429.6" y="393" width="19" height="17.8" fill="#e3544a"/>
<rect x="73.4" y="410.2" width="19" height="17.8" fill="#f57748"/>
<rect x="91.8" y="410.2" width="16" height="17.8" fill="#f57647"/>
<rect x="107.1" y="410.2" width="16" height="17.8" fill="#f57446"/>
<rect x="122.5" y="410.2" width="16" height="17.8" fill="#f57346"/>
<rect x="137.8" y="410.2" width="16" height="17.8" fill="#f57245"/>
<rect x="153.2" y="410.2" width="16" height="17.8" fill="#f57145"/>
<rect x="168.6" y="410.2" width="16" height="17.8" fill="#f47044"/>
<rect x="183.9" y="410.2" width="16" height="17.8" fill="#f46f44"/>
<rect x="199.3" y="410.2" width="16" height="17.8" fill="#f46d43"/>
<rect x="214.6" y="410.2" width="16" height="17.8" fill="#f36b44"/>
<rect x="230" y="410.2" width="16" height="17.8" fill="#f16944"/>
<rect x="245.3" y="410.2" width="16" height="17.8" fill="#f06645"/>
<rect x="260.7" y="410.2" width="16" height="17.8" fill="#ee6445"/>
<rect x="276.1" y="410.2" width="16" height="17.8" fill="#ec6146"/>
<rect x="291.4" y="410.2" width="16" height="17.8" fill="#ea5e47"/>
<rect x="306.8" y="410.2" width="16" height="17.8" fill="#e85b47"/>
<rect x="322.1" y="410.2" width="16" height="17.8" fill="#e65948"/>
<rect x="337.5" y="410.2" width="16" height="17.8" fill="#e55649"/>
<rect x="352.9" y="410.2" width="16" height="17.8" fill="#e3534a"/>
<rect x="368.2" y="410.2" width="16" height="17.8" fill="#e2524a"/>
<rect x="383.6" y="410.2" width="16" height="17.8" fill="#e1504a"/>
<rect x="398.9" y="410.2" width="16" height="17.8" fill="#e04f4b"/>
<rect x="414.3" y="410.2" width="16" height="17.8" fill="#df4d4b"/>
<rect x="429.6" y="410.2" width="19" height="17.8" fill="#dd4b4c"/>
<rect x="73.4" y="427.5" width="19" height="17.8" fill="#f16944"/>
<rect x="91.8" y="427.5" width="16" height="17.8" fill="#f16844"/>
<rect x="107.1" y="427.5" width="16" height="17.8" fill="#f06745"/>
<rect x="122.5" y="427.5" width="16" height="17.8" fill="#ef6645"/>
<rect x="137.8" y="427.5" width="16" height="17.8" fill="#ef6545"/>
<rect x="153.2" y="427.5" width="31.3" height="17.8" fill="#ee6445"/>
<rect x="183.9" y="427.5" width="16" height="17.8" fill="#ed6346"/>
<rect x="199.3" y="427.5" width="16" height="17.8" fill="#ed6246"/>
<rect x="214.6" y="427.5" width="16" height="17.8" fill="#eb5f46"/>
<rect x="230" y="427.5" width="16" height="17.8" fill="#ea5d47"/>
<rect x="245.3" y="427.5" width="16" height="17.8" fill="#e85b48"/>
<rect x="260.7" y="427.5" width="16" height="17.8" fill="#e75948"/>
<rect x="276.1" y="427.5" width="16" height="17.8" fill="#e55649"/>
<rect x="291.4" y="427.5" width="16" height="17.8" fill="#e3534a"/>
<rect x="306.8" y="427.5" width="16" height="17.8" fill="#e1504a"/>
<rect x="322.1" y="427.5" width="16" height="17.8" fill="#df4d4b"/>
<rect x="337.5" y="427.5" width="16" height="17.8" fill="#dd4a4c"/>
<rect x="352.9" y="427.5" width="16" height="17.8" fill="#db484d"/>
<rect x="368.2" y="427.5" width="16" height="17.8" fill="#da464d"/>
<rect x="383.6" y="427.5" width="16" height="17.8" fill="#da454d"/>
<rect x="398.9" y="427.5" width="16" height="17.8" fill="#d9444e"/>
<rect x="414.3" y="427.5" width="16" height="17.8" fill="#d8424e"/>
<rect x="429.6" y="427.5" width="19" height="17.8" fill="#d7404e"/>
<rect x="73.4" y="444.7" width="34.3" height="17.8" fill="#e95c47"/>
<rect x="107.1" y="444.7" width="16" height="17.8" fill="#e85b48"/>
<rect x="122.5" y="444.7" width="16" height="17.8" fill="#e75a48"/>
<rect x="137.8" y="444.7" width="16" height="17.8" fill="#e75948"/>
<rect x="153.2" y="444.7" width="31.3" height="17.8" fill="#e65848"/>
<rect x="183.9" y="444.7" width="16" height="17.8" fill="#e55749"/>
<rect x="199.3" y="444.7" width="16" height="17.8" fill="#e55649"/>
<rect x="214.6" y="444.7" width="16" height="17.8" fill="#e35449"/>
<rect x="230" y="444.7" width="16" height="17.8" fill="#e2514a"/>
<rect x="245.3" y="444.7" width="16" height="17.8" fill="#e04f4b"/>
<rect x="260.7" y="444.7" width="16" height="17.8" fill="#df4d4b"/>
<rect x="276.1" y="444.7" width="16" height="17.8" fill="#dd4a4c"/>
<rect x="291.4" y="444.7" width="16" height="17.8" fill="#db474d"/>
<rect x="306.8" y="444.7" width="16" height="17.8" fill="#d9444d"/>
<rect x="322.1" y="444.7" width="16" height="17.8" fill="#d7414e"/>
<rect x="337.5" y="444.7" width="16" height="17.8" fill="#d53e4f"/>
<rect x="352.9" y="444.7" width="16" height="17.8" fill="#d33b4e"/>
<rect x="368.2" y="444.7" width="16" height="17.8" fill="#d13a4e"/>
<rect x="383.6" y="444.7" width="16" height="17.8" fill="#d0384e"/>
<rect x="398.9" y="444.7" width="16" height="17.8" fill="#ce364d"/>
<rect x="414.3" y="444.7" width="16" height="17.8" fill="#cd354d"/>
<rect x="429.6" y="444.7" width="19" height="17.8" fill="#cb334d"/>
<rect x="73.4" y="462" width="34.3" height="20.8" fill="#e04f4b"/>
<rect x="107.1" y="462" width="16" height="20.8" fill="#e04e4b"/>
<rect x="122.5" y="462" width="31.3" height="20.8" fill="#df4d4b"/>
<rect x="153.2" y="462" width="16" height="20.8" fill="#de4c4b"/>
<rect x="168.6" y="462" width="16" height="20.8" fill="#de4c4c"/>
<rect x="183.9" y="462" width="16" height="20.8" fill="#de4b4c"/>
<rect x="199.3" y="462" width="16" height="20.8" fill="#dd4a4c"/>
<rect x="214.6" y="462" width="16" height="20.8" fill="#dc484c"/>
<rect x="230" y="462" width="16" height="20.8" fill="#da464d"/>
<rect x="245.3" y="462" width="16" height="20.8" fill="#d9434e"/>
<rect x="260.7" y="462" width="16" height="20.8" fill="#d7414e"/>
<rect x="276.1" y="462" width="16" height="20.8" fill="#d53f4f"/>
<rect x="291.4" y="462" width="16" height="20.8" fill="#d33b4e"/>
<rect x="306.8" y="462" width="16" height="20.8" fill="#d0384e"/>
<rect x="322.1" y="462" width="16" height="20.8" fill="#cd354d"/>
<rect x="337.5" y="462" width="16" height="20.8" fill="#ca314c"/>
<rect x="352.9" y="462" width="16" height="20.8" fill="#c72f4c"/>
<rect x="368.2" y="462" width="16" height="20.8" fill="#c62d4b"/>
<rect x="383.6" y="462" width="16" height="20.8" fill="#c42b4b"/>
<rect x="398.9" y="462" width="16" height="20.8" fill="#c2294b"/>
<rect x="414.3" y="462" width="16" height="20.8" fill="#c1284a"/>
<rect x="429.6" y="462" width="19" height="20.8" fill="#c0264a"/>
</g>
<use href="#ov"/>
<rect x="454.6" y="48.6" width="18" height="430.4" fill="url(#cb)" stroke="#333" stroke-width="1"/>
<text class="b" x="479.8" y="79.0">8</text>
<text class="b" x="479.8" y="138.7">7</text>
<text class="b" x="479.8" y="198.3">6</text>
<text class="b" x="479.8" y="258.0">5</text>
<text class="b" x="479.8" y="317.6">4</text>
<text class="b" x="479.8" y="377.3">3</text>
<text class="b" x="479.8" y="437.0">2</text>
<path d="M472.6 72.2h-3.5M472.6 131.9h-3.5M472.6 191.5h-3.5M472.6 251.2h-3.5M472.6 310.8h-3.5M472.6 370.5h-3.5M472.6 430.2h-3.5" stroke="#222" stroke-width="1.2" fill="none"/>
<text class="b" x="463.9" y="36.8" text-anchor="middle">cm</text>
<text class="L" x="433.6" y="85.9" text-anchor="end">(f)</text>
<text class="t" x="84.6" y="499.6" text-anchor="middle">113°E</text>
<text class="t" x="145.8" y="499.6" text-anchor="middle">114°E</text>
<text class="t" x="207.0" y="499.6" text-anchor="middle">115°E</text>
<text class="t" x="268.3" y="499.6" text-anchor="middle">116°E</text>
<text class="t" x="329.5" y="499.6" text-anchor="middle">117°E</text>
<text class="t" x="390.7" y="499.6" text-anchor="middle">118°E</text>
</g>
</svg></body></html>
